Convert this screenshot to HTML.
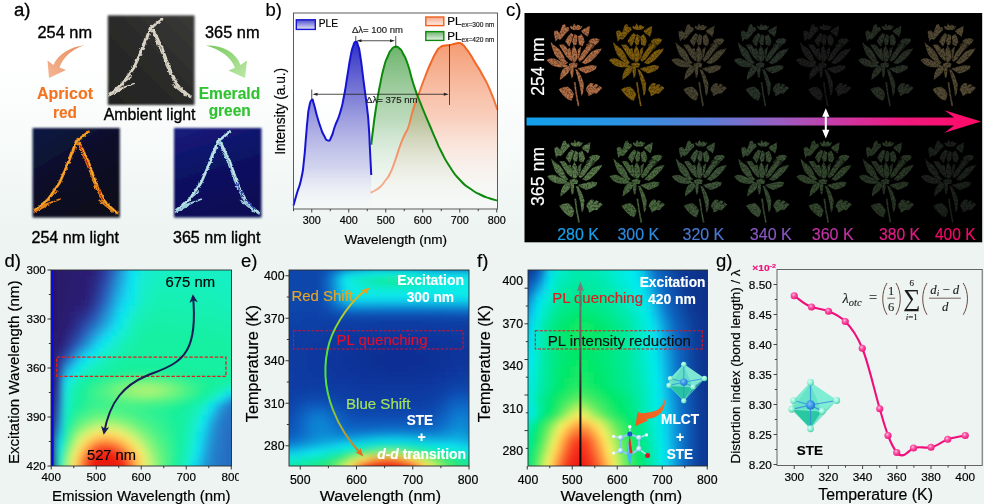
<!DOCTYPE html>
<html lang="en">
<head>
<meta charset="utf-8">
<title>Figure</title>
<style>
html,body{margin:0;padding:0;background:#edf4f2;}
body{width:984px;height:504px;overflow:hidden;position:relative;font-family:"Liberation Sans",sans-serif;}
svg{position:absolute;left:0;top:0;display:block;}
svg text{font-family:"Liberation Sans",sans-serif;fill:#000;stroke:#000;stroke-width:0.18px;}
svg .pa text{stroke-width:0.35px;}
svg text.b, svg .b text{stroke-width:0.15px;}
svg .fm text{stroke-width:0.12px;}
.b{font-weight:bold;}
.hm rect{width:7px;height:7px;}
</style>
</head>
<body>
<svg width="984" height="504" viewBox="0 0 984 504">
<defs>
<linearGradient id="bgg" x1="0" y1="0" x2="0" y2="1">
<stop offset="0" stop-color="#ffffff"/><stop offset="0.12" stop-color="#ffffff"/><stop offset="0.3" stop-color="#f6faf9"/><stop offset="0.46" stop-color="#edf4f2"/><stop offset="1" stop-color="#edf4f2"/>
</linearGradient>
</defs>
<rect x="0" y="0" width="984" height="504" fill="url(#bgg)"/>
<!-- panel a -->
<defs>
<filter id="soft" x="-5%" y="-5%" width="110%" height="110%"><feGaussianBlur stdDeviation="0.8"/></filter>
<filter id="soft2" x="-10%" y="-10%" width="120%" height="120%"><feTurbulence type="fractalNoise" baseFrequency="0.35" numOctaves="2" seed="3" result="n"/><feDisplacementMap in="SourceGraphic" in2="n" scale="3.2" xChannelSelector="R" yChannelSelector="G" result="d"/><feGaussianBlur in="d" stdDeviation="0.4"/></filter>
<linearGradient id="sal" x1="1" y1="0" x2="0" y2="1"><stop offset="0" stop-color="#e88e5e"/><stop offset="1" stop-color="#f5b594"/></linearGradient>
<linearGradient id="grn" x1="0" y1="0" x2="1" y2="1"><stop offset="0" stop-color="#78c85c"/><stop offset="1" stop-color="#bce8a6"/></linearGradient>
<linearGradient id="cry2" x1="0" y1="0" x2="0" y2="1"><stop offset="0" stop-color="#f0b0a0"/><stop offset="0.3" stop-color="#f08020"/><stop offset="1" stop-color="#f0a020"/></linearGradient>
<linearGradient id="ph254" x1="0" y1="0" x2="0.6" y2="1"><stop offset="0" stop-color="#101a44"/><stop offset="0.5" stop-color="#0a0e2a"/><stop offset="1" stop-color="#08091c"/></linearGradient>
<linearGradient id="ph365" x1="0" y1="0" x2="0.3" y2="1"><stop offset="0" stop-color="#161c7c"/><stop offset="0.5" stop-color="#0e1264"/><stop offset="1" stop-color="#0b0e56"/></linearGradient>
<linearGradient id="phamb" x1="1" y1="0" x2="0" y2="1"><stop offset="0" stop-color="#3a3a38"/><stop offset="0.5" stop-color="#2a2a29"/><stop offset="1" stop-color="#232322"/></linearGradient>
<g id="peak">
<path d="M55.5,3.8 L43,13.6 L36,33 L26.5,55 L14.5,72 L1.8,82" fill="none" stroke-width="2.7" stroke-linejoin="round" stroke-linecap="round"/>
<path d="M46.5,15 L55.5,34 L62.5,54 L69,68 L73,75 L84,85" fill="none" stroke-width="2.7" stroke-linejoin="round" stroke-linecap="round"/>
<path d="M45,11 L40,25 M38,24 L32,42 M31,46 L22,62 M24,64 L11,74 M27,71 L8,79 M13,78 L1,84 M44,13 L52,31 M50,27 L58,46 M58,48 L65,64 M62,58 L71,75 M66,72 L80,84 M22,73 L5,79 M76,80 L85,84" fill="none" stroke-width="1.5" stroke-linecap="round"/>
</g>
</defs>
<g class="pa">
<text x="14" y="15.5" font-size="18.5">a)</text>
<text x="37.5" y="38" font-size="16" textLength="54.5" lengthAdjust="spacingAndGlyphs">254 nm</text>
<path d="M84,45.2 C70,47 58,54 53.5,65 L47.5,60.5 L49,78 L66,70 L59.5,67.5 C63,57 72,49.5 84,45.2 Z" fill="url(#sal)"/>
<text x="37" y="98.7" font-size="16" class="b" style="fill:#f4731f;stroke:#f4731f" textLength="56" lengthAdjust="spacingAndGlyphs">Apricot</text>
<text x="53" y="117.5" font-size="16" class="b" style="fill:#f4731f;stroke:#f4731f" textLength="24" lengthAdjust="spacingAndGlyphs">red</text>
<!-- ambient -->
<rect x="107.8" y="15.4" width="86.7" height="89.6" fill="url(#phamb)" filter="url(#soft)"/>
<g transform="translate(107.8,15.6) scale(0.98,0.955)" stroke="#d8d2c4" filter="url(#soft2)"><use href="#peak"/></g>
<text x="103.7" y="120" font-size="16" textLength="91.8" lengthAdjust="spacingAndGlyphs">Ambient light</text>
<text x="205" y="38" font-size="16" textLength="54.5" lengthAdjust="spacingAndGlyphs">365 nm</text>
<path d="M206,45.5 C222,45 236,52 240.5,65 L247,60.5 L245,78 L228.5,70.5 L235,67.8 C231,57 221,50 206,45.5 Z" fill="url(#grn)"/>
<text x="198.7" y="98.7" font-size="16" class="b" style="fill:#2fc32f;stroke:#2fc32f" textLength="61.5" lengthAdjust="spacingAndGlyphs">Emerald</text>
<text x="208.7" y="116.3" font-size="16" class="b" style="fill:#2fc32f;stroke:#2fc32f" textLength="42" lengthAdjust="spacingAndGlyphs">green</text>
<!-- 254 image -->
<rect x="32.6" y="128" width="87.2" height="89.5" fill="url(#ph254)" filter="url(#soft)"/>
<g transform="translate(33,128)" stroke="#e8861c" filter="url(#soft2)"><use href="#peak"/></g>
<g transform="translate(33,128)" stroke="#ffd23c" stroke-width="0.5" opacity="0.8"><path d="M54.5,4.6 L43,13.6 L36,33 L26.5,55 L14.5,72 L2.5,81.5 M46.5,15 L55.5,34 L62.5,54 L69,68 L73,75 L83.5,84.5" fill="none" stroke-width="0.9"/></g>
<g transform="translate(33,128)" stroke="#c42c10" stroke-width="1.3" fill="none" filter="url(#soft2)"><path d="M51,27 L57,42 M63,56 L70,72 M47,17 L50,24"/></g>
<text x="31.5" y="243" font-size="16" textLength="87.5" lengthAdjust="spacingAndGlyphs">254 nm light</text>
<!-- 365 image -->
<rect x="174" y="128" width="87.5" height="89.5" fill="url(#ph365)" filter="url(#soft)"/>
<g transform="translate(174.5,128)" stroke="#9fd2dc" filter="url(#soft2)"><use href="#peak"/></g>
<g transform="translate(174.5,128)" stroke="#e8f4f0" opacity="0.8"><path d="M54.5,4.6 L43,13.6 L36,33 L26.5,55 L14.5,72 L2.5,81.5 M46.5,15 L55.5,34 L62.5,54 L69,68 L73,75 L83.5,84.5" fill="none" stroke-width="0.9"/></g>
<g transform="translate(174.5,128)" stroke="#2a3aa8" stroke-width="1.5" fill="none" filter="url(#soft2)"><path d="M62,55 L69,69 M70,71 L80,81"/></g>
<text x="173" y="243" font-size="16" textLength="87.5" lengthAdjust="spacingAndGlyphs">365 nm light</text>
</g>
<!-- panel b -->
<defs>
<linearGradient id="fblue" gradientUnits="userSpaceOnUse" x1="0" y1="42" x2="0" y2="209"><stop offset="0" stop-color="#2222c4" stop-opacity="0.95"/><stop offset="0.35" stop-color="#5050c8" stop-opacity="0.7"/><stop offset="0.75" stop-color="#8a8ad8" stop-opacity="0.35"/><stop offset="1" stop-color="#ffffff" stop-opacity="0.1"/></linearGradient>
<linearGradient id="fgreen" gradientUnits="userSpaceOnUse" x1="0" y1="46" x2="0" y2="209"><stop offset="0" stop-color="#3c9c3c" stop-opacity="0.75"/><stop offset="0.45" stop-color="#6cb06c" stop-opacity="0.45"/><stop offset="1" stop-color="#ffffff" stop-opacity="0.05"/></linearGradient>
<linearGradient id="forange" gradientUnits="userSpaceOnUse" x1="0" y1="43" x2="0" y2="209"><stop offset="0" stop-color="#f28a5a" stop-opacity="0.85"/><stop offset="0.45" stop-color="#f6a888" stop-opacity="0.55"/><stop offset="1" stop-color="#ffffff" stop-opacity="0.05"/></linearGradient>
<linearGradient id="sorange" gradientUnits="userSpaceOnUse" x1="0" y1="43" x2="0" y2="195"><stop offset="0" stop-color="#f0601c"/><stop offset="0.45" stop-color="#f27a44"/><stop offset="1" stop-color="#f6b095"/></linearGradient>
<linearGradient id="lgb" x1="0" y1="0" x2="0" y2="1"><stop offset="0" stop-color="#4a4acc"/><stop offset="1" stop-color="#e8e8f8"/></linearGradient>
<linearGradient id="lgo" x1="0" y1="0" x2="0" y2="1"><stop offset="0" stop-color="#f6a88a"/><stop offset="1" stop-color="#fdeee8"/></linearGradient>
<linearGradient id="lgg" x1="0" y1="0" x2="0" y2="1"><stop offset="0" stop-color="#6cb46c"/><stop offset="1" stop-color="#eaf4ea"/></linearGradient>
<linearGradient id="bbg" x1="0" y1="0" x2="0" y2="1"><stop offset="0" stop-color="#ffffff"/><stop offset="0.4" stop-color="#ffffff"/><stop offset="1" stop-color="#f3f8f6"/></linearGradient>
</defs>
<text x="265.5" y="15.5" font-size="18.5">b)</text>
<rect x="293.5" y="13" width="204" height="196" fill="url(#bbg)"/>
<!-- orange -->
<path d="M370.50,192.75 C372.00,192.00 371.83,192.42 375.00,190.50 C378.17,188.58 376.67,190.17 380.00,187.00 C383.33,183.83 381.67,185.50 385.00,181.00 C388.33,176.50 386.67,180.17 390.00,173.50 C393.33,166.83 391.67,170.17 395.00,161.00 C398.33,151.83 396.83,154.67 400.00,146.00 C403.17,137.33 401.58,141.67 404.50,135.00 C407.42,128.33 405.92,134.33 408.75,126.00 C411.58,117.67 409.67,120.67 413.00,110.00 C416.33,99.33 414.75,105.00 418.75,94.00 C422.75,83.00 420.92,87.50 425.00,77.00 C429.08,66.50 427.33,70.67 431.00,62.50 C434.67,54.33 433.00,57.50 436.00,52.50 C439.00,47.50 437.00,49.83 440.00,47.50 C443.00,45.17 441.67,46.33 445.00,45.50 C448.33,44.67 446.67,45.57 450.00,45.00 C453.33,44.43 451.83,44.47 455.00,43.80 C458.17,43.13 456.83,42.60 459.50,43.00 C462.17,43.40 460.83,43.17 463.00,45.00 C465.17,46.83 463.67,45.50 466.00,48.50 C468.33,51.50 466.67,48.83 470.00,54.00 C473.33,59.17 471.83,57.00 476.00,64.00 C480.17,71.00 477.83,66.33 482.50,75.00 C487.17,83.67 485.00,78.33 490.00,90.00 C495.00,101.67 495.00,103.33 497.50,110.00 L497.5,209 L370.5,209 Z" fill="url(#forange)"/>
<!-- green -->
<path d="M371.25,144.75 C371.83,139.83 371.42,142.25 373.00,130.00 C374.58,117.75 373.67,123.00 376.00,108.00 C378.33,93.00 377.33,98.67 380.00,85.00 C382.67,71.33 381.50,76.33 384.00,67.00 C386.50,57.67 385.00,62.83 387.50,57.00 C390.00,51.17 388.80,52.90 391.50,49.50 C394.20,46.10 392.93,47.13 395.60,46.80 C398.27,46.47 397.03,46.27 399.50,48.50 C401.97,50.73 400.17,48.00 403.00,53.50 C405.83,59.00 404.42,54.50 408.00,65.00 C411.58,75.50 409.33,71.67 413.75,85.00 C418.17,98.33 415.83,91.33 421.25,105.00 C426.67,118.67 425.08,114.33 430.00,126.00 C434.92,137.67 432.33,131.67 436.00,140.00 C439.67,148.33 436.33,142.00 441.00,151.00 C445.67,160.00 443.67,157.33 450.00,167.00 C456.33,176.67 453.33,172.83 460.00,180.00 C466.67,187.17 463.33,183.67 470.00,188.50 C476.67,193.33 473.33,191.17 480.00,194.50 C486.67,197.83 484.17,196.50 490.00,198.50 C495.83,200.50 495.00,199.83 497.50,200.50 L497.5,209 L371.25,209 Z" fill="url(#fgreen)"/>
<!-- blue -->
<path d="M293.50,205.50 C294.67,201.33 294.40,202.00 297.00,193.00 C299.60,184.00 298.97,189.50 301.30,178.50 C303.63,167.50 302.43,173.83 304.00,160.00 C305.57,146.17 304.83,150.33 306.00,137.00 C307.17,123.67 306.43,130.00 307.50,120.00 C308.57,110.00 307.78,113.67 309.20,107.00 C310.62,100.33 310.15,100.83 311.75,100.00 C313.35,99.17 312.25,99.17 314.00,104.50 C315.75,109.83 314.83,108.50 317.00,116.00 C319.17,123.50 318.17,120.50 320.50,127.00 C322.83,133.50 321.50,131.00 324.00,135.50 C326.50,140.00 325.50,140.17 328.00,140.50 C330.50,140.83 329.17,141.33 331.50,136.50 C333.83,131.67 332.17,133.83 335.00,126.00 C337.83,118.17 337.00,123.00 340.00,113.00 C343.00,103.00 341.50,108.67 344.00,96.00 C346.50,83.33 345.33,88.00 347.50,75.00 C349.67,62.00 348.60,66.67 350.50,57.00 C352.40,47.33 351.45,51.00 353.20,46.00 C354.95,41.00 354.15,42.17 355.75,42.00 C357.35,41.83 356.48,40.83 358.00,45.50 C359.52,50.17 358.38,43.67 360.30,56.00 C362.22,68.33 361.52,65.33 363.75,82.50 C365.98,99.67 365.33,93.00 367.00,107.50 C368.67,122.00 367.75,111.83 368.75,126.00 C369.75,140.17 369.17,133.67 370.00,150.00 C370.83,166.33 370.83,166.67 371.25,175.00 L371.25,209 L293.5,209 Z" fill="url(#fblue)"/>
<path d="M370.50,192.75 C372.00,192.00 371.83,192.42 375.00,190.50 C378.17,188.58 376.67,190.17 380.00,187.00 C383.33,183.83 381.67,185.50 385.00,181.00 C388.33,176.50 386.67,180.17 390.00,173.50 C393.33,166.83 391.67,170.17 395.00,161.00 C398.33,151.83 396.83,154.67 400.00,146.00 C403.17,137.33 401.58,141.67 404.50,135.00 C407.42,128.33 405.92,134.33 408.75,126.00 C411.58,117.67 409.67,120.67 413.00,110.00 C416.33,99.33 414.75,105.00 418.75,94.00 C422.75,83.00 420.92,87.50 425.00,77.00 C429.08,66.50 427.33,70.67 431.00,62.50 C434.67,54.33 433.00,57.50 436.00,52.50 C439.00,47.50 437.00,49.83 440.00,47.50 C443.00,45.17 441.67,46.33 445.00,45.50 C448.33,44.67 446.67,45.57 450.00,45.00 C453.33,44.43 451.83,44.47 455.00,43.80 C458.17,43.13 456.83,42.60 459.50,43.00 C462.17,43.40 460.83,43.17 463.00,45.00 C465.17,46.83 463.67,45.50 466.00,48.50 C468.33,51.50 466.67,48.83 470.00,54.00 C473.33,59.17 471.83,57.00 476.00,64.00 C480.17,71.00 477.83,66.33 482.50,75.00 C487.17,83.67 485.00,78.33 490.00,90.00 C495.00,101.67 495.00,103.33 497.50,110.00" fill="none" stroke="url(#sorange)" stroke-width="2" stroke-linejoin="round"/>
<path d="M371.25,144.75 C371.83,139.83 371.42,142.25 373.00,130.00 C374.58,117.75 373.67,123.00 376.00,108.00 C378.33,93.00 377.33,98.67 380.00,85.00 C382.67,71.33 381.50,76.33 384.00,67.00 C386.50,57.67 385.00,62.83 387.50,57.00 C390.00,51.17 388.80,52.90 391.50,49.50 C394.20,46.10 392.93,47.13 395.60,46.80 C398.27,46.47 397.03,46.27 399.50,48.50 C401.97,50.73 400.17,48.00 403.00,53.50 C405.83,59.00 404.42,54.50 408.00,65.00 C411.58,75.50 409.33,71.67 413.75,85.00 C418.17,98.33 415.83,91.33 421.25,105.00 C426.67,118.67 425.08,114.33 430.00,126.00 C434.92,137.67 432.33,131.67 436.00,140.00 C439.67,148.33 436.33,142.00 441.00,151.00 C445.67,160.00 443.67,157.33 450.00,167.00 C456.33,176.67 453.33,172.83 460.00,180.00 C466.67,187.17 463.33,183.67 470.00,188.50 C476.67,193.33 473.33,191.17 480.00,194.50 C486.67,197.83 484.17,196.50 490.00,198.50 C495.83,200.50 495.00,199.83 497.50,200.50" fill="none" stroke="#0d8a0d" stroke-width="2" stroke-linejoin="round"/>
<path d="M293.50,205.50 C294.67,201.33 294.40,202.00 297.00,193.00 C299.60,184.00 298.97,189.50 301.30,178.50 C303.63,167.50 302.43,173.83 304.00,160.00 C305.57,146.17 304.83,150.33 306.00,137.00 C307.17,123.67 306.43,130.00 307.50,120.00 C308.57,110.00 307.78,113.67 309.20,107.00 C310.62,100.33 310.15,100.83 311.75,100.00 C313.35,99.17 312.25,99.17 314.00,104.50 C315.75,109.83 314.83,108.50 317.00,116.00 C319.17,123.50 318.17,120.50 320.50,127.00 C322.83,133.50 321.50,131.00 324.00,135.50 C326.50,140.00 325.50,140.17 328.00,140.50 C330.50,140.83 329.17,141.33 331.50,136.50 C333.83,131.67 332.17,133.83 335.00,126.00 C337.83,118.17 337.00,123.00 340.00,113.00 C343.00,103.00 341.50,108.67 344.00,96.00 C346.50,83.33 345.33,88.00 347.50,75.00 C349.67,62.00 348.60,66.67 350.50,57.00 C352.40,47.33 351.45,51.00 353.20,46.00 C354.95,41.00 354.15,42.17 355.75,42.00 C357.35,41.83 356.48,40.83 358.00,45.50 C359.52,50.17 358.38,43.67 360.30,56.00 C362.22,68.33 361.52,65.33 363.75,82.50 C365.98,99.67 365.33,93.00 367.00,107.50 C368.67,122.00 367.75,111.83 368.75,126.00 C369.75,140.17 369.17,133.67 370.00,150.00 C370.83,166.33 370.83,166.67 371.25,175.00" fill="none" stroke="#1414d2" stroke-width="2" stroke-linejoin="round"/>
<!-- frame -->
<rect x="293.5" y="13" width="204" height="196" fill="none" stroke="#4a4a4a" stroke-width="0.9"/>
<path d="M311.75,209v3.5M348.75,209v3.5M385.75,209v3.5M422.75,209v3.5M459.75,209v3.5M496.75,209v3.5M293.5,209v2.2M330.25,209v2.2M367.25,209v2.2M404.25,209v2.2M441.25,209v2.2M478.25,209v2.2" stroke="#333" stroke-width="0.9" fill="none"/>
<g font-size="10.8" text-anchor="middle"><text x="311.75" y="224">300</text><text x="348.75" y="224">400</text><text x="385.75" y="224">500</text><text x="422.75" y="224">600</text><text x="459.75" y="224">700</text><text x="496.75" y="224">800</text></g>
<text x="344.5" y="243.5" font-size="12.6" textLength="102.5" lengthAdjust="spacingAndGlyphs">Wavelength (nm)</text>
<text transform="translate(285.2,154.8) rotate(-90)" font-size="13.8" textLength="87" lengthAdjust="spacingAndGlyphs">Intensity (a.u.)</text>
<!-- annotations -->
<g stroke="#222" stroke-width="0.8" fill="none">
<path d="M311.75,89.5V100M355.75,36V42M395.75,36V47M449.5,44.5V105"/>
<path d="M360,40.75H392M316,94.25H444"/>
</g>
<g fill="#222"><path d="M356.5,40.75l5,-1.6v3.2zM395,40.75l-5,-1.6v3.2zM312.5,94.25l5,-1.6v3.2zM448.8,94.25l-5,-1.6v3.2z"/></g>
<text x="352" y="33.2" font-size="9.4" textLength="51" lengthAdjust="spacingAndGlyphs" style="fill:#222;stroke:#222">Δλ= 100 nm</text>
<text x="366" y="103.2" font-size="9.4" textLength="51.5" lengthAdjust="spacingAndGlyphs" style="fill:#222;stroke:#222">Δλ= 375 nm</text>
<!-- legends -->
<rect x="296.3" y="19.8" width="19" height="9.6" fill="url(#lgb)" stroke="#1414d2" stroke-width="1.4"/>
<text x="318.7" y="27.2" font-size="10.2">PLE</text>
<rect x="425.8" y="17" width="18" height="8.6" fill="url(#lgo)" stroke="#f0601c" stroke-width="1.4"/>
<text x="447.3" y="25" font-size="11.6">PL<tspan font-size="6.6" dy="2.2" style="fill:#222;stroke:#222">ex=300 nm</tspan></text>
<rect x="425.8" y="31.6" width="18" height="8.8" fill="url(#lgg)" stroke="#0d8a0d" stroke-width="1.4"/>
<text x="447.3" y="40" font-size="11.6">PL<tspan font-size="6.6" dy="2.2" style="fill:#222;stroke:#222">ex=420 nm</tspan></text>
<!-- panel c -->
<defs>
<linearGradient id="tarrow" gradientUnits="userSpaceOnUse" x1="526" y1="0" x2="981" y2="0"><stop offset="0" stop-color="#12a0ea"/><stop offset="0.2" stop-color="#2a94e4"/><stop offset="0.4" stop-color="#5a7ed6"/><stop offset="0.55" stop-color="#9860c4"/><stop offset="0.68" stop-color="#c83ca8"/><stop offset="0.82" stop-color="#ee1a80"/><stop offset="1" stop-color="#ff0a66"/></linearGradient>
<filter id="fl" filterUnits="userSpaceOnUse" x="540" y="15" width="445" height="215"><feTurbulence type="fractalNoise" baseFrequency="0.55" numOctaves="2" seed="7" result="n"/><feColorMatrix in="n" type="matrix" values="0 0 0 0 0  0 0 0 0 0  0 0 0 0 0  1.1 0 0 0 0.3" result="a"/><feGaussianBlur in="SourceGraphic" stdDeviation="0.35" result="g"/><feComposite in="g" in2="a" operator="in"/></filter>
<g id="flower" stroke-width="0.9" stroke-linejoin="round">
<g transform="scale(0.0992)">
<path d="M262,72 L272,56 L288,70 L305,34 L322,62 L340,48 L356,52 L368,66 L388,58 L372,88 L352,102 L298,102 L276,90 Z"/>
<path d="M100,116 L130,104 L158,130 L186,50 L210,40 L226,76 L246,70 L256,100 L232,122 L206,150 L186,176 L160,200 L140,190 L116,216 L104,160 Z"/>
<path d="M374,112 L400,90 L440,70 L462,58 L456,120 L440,172 L420,150 L394,136 Z"/>
<path d="M448,212 L480,190 L530,184 L562,200 L546,230 L520,250 L500,236 L470,236 Z"/>
<path d="M214,214 Q236,158 274,130 L298,148 Q284,204 254,270 Z"/>
<path d="M284,214 L308,140 L336,160 Q338,210 328,248 L300,258 Z"/>
<path d="M342,166 L378,142 Q404,180 408,218 L390,262 L352,250 Z"/>
<path d="M68,222 Q96,258 150,290 Q198,340 216,412 Q176,398 120,362 Q84,312 68,222 Z"/>
<path d="M150,250 L200,248 Q240,286 266,360 L276,412 Q236,392 200,330 Z"/>
<path d="M300,258 Q336,300 340,380 L320,422 L290,422 Q272,360 280,300 Z"/>
<path d="M344,402 Q376,330 420,280 L470,238 L492,250 Q456,322 400,392 L360,422 Z"/>
<path d="M380,432 Q428,378 480,320 Q528,290 582,288 Q562,334 500,392 Q460,432 420,446 Z"/>
<path d="M28,402 Q66,372 130,400 Q198,428 252,470 Q200,484 120,472 Q60,452 28,402 Z"/>
<path d="M250,440 L300,425 L340,440 L330,480 L260,480 Z"/>
<path d="M232,296 L262,282 Q286,350 282,418 L262,400 Q240,350 232,296 Z"/>
<path d="M340,300 L374,268 Q370,340 344,402 Z"/>
<path d="M98,332 Q170,350 242,432 L216,446 Q150,410 98,332 Z"/>
<path d="M420,250 Q470,200 530,240 Q490,300 440,330 Z" opacity="0.55"/>
</g>
<g transform="translate(0,40) scale(0.0992)">
<path d="M338,86 Q400,68 480,50 L532,60 L520,92 Q470,122 420,136 L370,110 Z"/>
<path d="M160,202 Q162,120 200,80 L250,58 L266,90 Q252,134 200,172 Z"/>
<path d="M266,58 L296,50 Q304,100 290,172 L276,182 Q258,130 266,58 Z"/>
<path d="M314,90 L340,100 Q380,160 402,240 Q398,320 390,342 L376,362 Q368,270 340,180 Z"/>
<path d="M300,224 L318,224 Q326,330 356,462 L340,466 Q316,340 300,224 Z"/>
<path d="M148,296 Q190,266 240,270 Q284,298 300,342 L290,382 L276,412 Q236,402 200,362 Q168,332 148,296 Z"/>
<path d="M422,300 Q430,256 470,232 L500,236 L490,270 L520,240 L548,252 L520,290 L560,262 L586,282 L556,312 L530,340 L500,336 L470,356 L450,362 L442,330 Z"/>
</g>
</g>
</defs>
<text x="506" y="15.5" font-size="18.5">c)</text>
<rect x="524.5" y="13" width="457.7" height="229.3" fill="#000"/>
<g filter="url(#fl)">
<g fill="#b5724a" stroke="#b5724a"><use href="#flower" x="544.0" y="20"/></g>
<g fill="#83600f" stroke="#83600f"><use href="#flower" x="606.3" y="20"/></g>
<g fill="#4a4432" stroke="#4a4432"><use href="#flower" x="668.6" y="20"/></g>
<g fill="#2c362c" stroke="#2c362c"><use href="#flower" x="730.9" y="20"/></g>
<g fill="#1b1d1a" stroke="#1b1d1a"><use href="#flower" x="793.2" y="20"/></g>
<g fill="#2a3128" stroke="#2a3128"><use href="#flower" x="855.5" y="20"/></g>
<g fill="#544c34" stroke="#544c34"><use href="#flower" x="917.8" y="20"/></g>
<g fill="#5b7c4e" stroke="#5b7c4e"><use href="#flower" x="544.5" y="136.5"/></g>
<g fill="#4b6a41" stroke="#4b6a41"><use href="#flower" x="606.8" y="136.5"/></g>
<g fill="#41583a" stroke="#41583a"><use href="#flower" x="669.1" y="136.5"/></g>
<g fill="#3d5337" stroke="#3d5337"><use href="#flower" x="731.4" y="136.5"/></g>
<g fill="#35482f" stroke="#35482f"><use href="#flower" x="793.7" y="136.5"/></g>
<g fill="#2b3827" stroke="#2b3827"><use href="#flower" x="856.0" y="136.5"/></g>
<g fill="#1d201d" stroke="#1d201d"><use href="#flower" x="918.3" y="136.5"/></g>
</g>
<path d="M526.5,117.5 H954 L944.5,110.3 L981,121.5 L944.5,132.7 L954,125.6 H526.5 Z" fill="url(#tarrow)"/>
<g fill="#fff" stroke="none"><path d="M825.8,108.2 l3.6,8.6 h-2.6 v13 h2.6 l-3.6,8.8 l-3.6,-8.8 h2.6 v-13 h-2.6 z"/></g>
<text transform="translate(543.6,95.8) rotate(-90)" font-size="17.5" textLength="58.4" lengthAdjust="spacingAndGlyphs" style="fill:#fff;stroke:#fff">254 nm</text>
<text transform="translate(543.6,206) rotate(-90)" font-size="17.5" textLength="59" lengthAdjust="spacingAndGlyphs" style="fill:#fff;stroke:#fff">365 nm</text>
<g font-size="16">
<text x="557.2" y="239.5" textLength="41.6" lengthAdjust="spacingAndGlyphs" style="fill:#16a0ea;stroke:#16a0ea">280 K</text>
<text x="617.5" y="239.5" textLength="41.6" lengthAdjust="spacingAndGlyphs" style="fill:#2e8ce0;stroke:#2e8ce0">300 K</text>
<text x="682.6" y="239.5" textLength="41.6" lengthAdjust="spacingAndGlyphs" style="fill:#4a78d2;stroke:#4a78d2">320 K</text>
<text x="749.8" y="239.5" textLength="42" lengthAdjust="spacingAndGlyphs" style="fill:#8858c0;stroke:#8858c0">340 K</text>
<text x="811.7" y="239.5" textLength="42" lengthAdjust="spacingAndGlyphs" style="fill:#c234a4;stroke:#c234a4">360 K</text>
<text x="879" y="239.5" textLength="41" lengthAdjust="spacingAndGlyphs" style="fill:#e21c84;stroke:#e21c84">380 K</text>
<text x="934.9" y="239.5" textLength="40.6" lengthAdjust="spacingAndGlyphs" style="fill:#f40a6a;stroke:#f40a6a">400 K</text>
</g>
<defs><filter id="hblur" filterUnits="userSpaceOnUse" x="0" y="230" width="984" height="274"><feGaussianBlur stdDeviation="3"/></filter></defs>
<defs><clipPath id="clipd"><rect x="51" y="270" width="180.5" height="196"/></clipPath></defs>
<g clip-path="url(#clipd)"><g class="hm" filter="url(#hblur)">
<rect x="39" y="258" width="7" height="7" fill="#2b1868"/>
<rect x="45" y="258" width="7" height="7" fill="#2b1868"/>
<rect x="51" y="258" width="7" height="7" fill="#2b1869"/>
<rect x="57" y="258" width="7" height="7" fill="#2b196a"/>
<rect x="63" y="258" width="7" height="7" fill="#2b1a6c"/>
<rect x="69" y="258" width="7" height="7" fill="#2b1b6e"/>
<rect x="75" y="258" width="7" height="7" fill="#2b1c6f"/>
<rect x="81" y="258" width="7" height="7" fill="#2b1d71"/>
<rect x="87" y="258" width="7" height="7" fill="#2b1e73"/>
<rect x="93" y="258" width="7" height="7" fill="#2a257d"/>
<rect x="99" y="258" width="7" height="7" fill="#2a3190"/>
<rect x="105" y="258" width="7" height="7" fill="#2a49a9"/>
<rect x="111" y="258" width="7" height="7" fill="#2768bf"/>
<rect x="117" y="258" width="7" height="7" fill="#228ed3"/>
<rect x="123" y="258" width="7" height="7" fill="#1bb5e4"/>
<rect x="129" y="258" width="7" height="7" fill="#12ddf2"/>
<rect x="135" y="258" width="7" height="7" fill="#11e8e6"/>
<rect x="141" y="258" width="7" height="7" fill="#13ecd4"/>
<rect x="147" y="258" width="7" height="7" fill="#13eecc"/>
<rect x="153" y="258" width="7" height="7" fill="#14efc9"/>
<rect x="159" y="258" width="7" height="7" fill="#14f0c6"/>
<rect x="165" y="258" width="7" height="7" fill="#14f0c4"/>
<rect x="171" y="258" width="7" height="7" fill="#14f0c4"/>
<rect x="177" y="258" width="7" height="7" fill="#14f0c4"/>
<rect x="183" y="258" width="7" height="7" fill="#14f0c4"/>
<rect x="189" y="258" width="7" height="7" fill="#14f0c4"/>
<rect x="195" y="258" width="7" height="7" fill="#14f0c4"/>
<rect x="201" y="258" width="7" height="7" fill="#14f0c4"/>
<rect x="207" y="258" width="7" height="7" fill="#14f0c4"/>
<rect x="213" y="258" width="7" height="7" fill="#14f0c5"/>
<rect x="219" y="258" width="7" height="7" fill="#14f0c5"/>
<rect x="225" y="258" width="7" height="7" fill="#14efc7"/>
<rect x="231" y="258" width="7" height="7" fill="#14efc9"/>
<rect x="237" y="258" width="7" height="7" fill="#14efc9"/>
<rect x="243" y="258" width="7" height="7" fill="#14efc9"/>
<rect x="39" y="264" width="7" height="7" fill="#2b1868"/>
<rect x="45" y="264" width="7" height="7" fill="#2b1868"/>
<rect x="51" y="264" width="7" height="7" fill="#2b1869"/>
<rect x="57" y="264" width="7" height="7" fill="#2b196a"/>
<rect x="63" y="264" width="7" height="7" fill="#2b1a6c"/>
<rect x="69" y="264" width="7" height="7" fill="#2b1b6e"/>
<rect x="75" y="264" width="7" height="7" fill="#2b1c6f"/>
<rect x="81" y="264" width="7" height="7" fill="#2b1d71"/>
<rect x="87" y="264" width="7" height="7" fill="#2b1e73"/>
<rect x="93" y="264" width="7" height="7" fill="#2a257d"/>
<rect x="99" y="264" width="7" height="7" fill="#2a3190"/>
<rect x="105" y="264" width="7" height="7" fill="#2a49a9"/>
<rect x="111" y="264" width="7" height="7" fill="#2768bf"/>
<rect x="117" y="264" width="7" height="7" fill="#228ed3"/>
<rect x="123" y="264" width="7" height="7" fill="#1bb5e4"/>
<rect x="129" y="264" width="7" height="7" fill="#12ddf2"/>
<rect x="135" y="264" width="7" height="7" fill="#11e8e6"/>
<rect x="141" y="264" width="7" height="7" fill="#13ecd4"/>
<rect x="147" y="264" width="7" height="7" fill="#13eecc"/>
<rect x="153" y="264" width="7" height="7" fill="#14efc9"/>
<rect x="159" y="264" width="7" height="7" fill="#14f0c6"/>
<rect x="165" y="264" width="7" height="7" fill="#14f0c4"/>
<rect x="171" y="264" width="7" height="7" fill="#14f0c4"/>
<rect x="177" y="264" width="7" height="7" fill="#14f0c4"/>
<rect x="183" y="264" width="7" height="7" fill="#14f0c4"/>
<rect x="189" y="264" width="7" height="7" fill="#14f0c4"/>
<rect x="195" y="264" width="7" height="7" fill="#14f0c4"/>
<rect x="201" y="264" width="7" height="7" fill="#14f0c4"/>
<rect x="207" y="264" width="7" height="7" fill="#14f0c4"/>
<rect x="213" y="264" width="7" height="7" fill="#14f0c5"/>
<rect x="219" y="264" width="7" height="7" fill="#14f0c5"/>
<rect x="225" y="264" width="7" height="7" fill="#14efc7"/>
<rect x="231" y="264" width="7" height="7" fill="#14efc9"/>
<rect x="237" y="264" width="7" height="7" fill="#14efc9"/>
<rect x="243" y="264" width="7" height="7" fill="#14efc9"/>
<rect x="39" y="270" width="7" height="7" fill="#2b1868"/>
<rect x="45" y="270" width="7" height="7" fill="#2b1868"/>
<rect x="51" y="270" width="7" height="7" fill="#2b1969"/>
<rect x="57" y="270" width="7" height="7" fill="#2b1a6a"/>
<rect x="63" y="270" width="7" height="7" fill="#2b1b6c"/>
<rect x="69" y="270" width="7" height="7" fill="#2b1c6e"/>
<rect x="75" y="270" width="7" height="7" fill="#2b1d6f"/>
<rect x="81" y="270" width="7" height="7" fill="#2b1e71"/>
<rect x="87" y="270" width="7" height="7" fill="#2b1f74"/>
<rect x="93" y="270" width="7" height="7" fill="#2a267f"/>
<rect x="99" y="270" width="7" height="7" fill="#2a3594"/>
<rect x="105" y="270" width="7" height="7" fill="#2a4cac"/>
<rect x="111" y="270" width="7" height="7" fill="#266dc2"/>
<rect x="117" y="270" width="7" height="7" fill="#2193d5"/>
<rect x="123" y="270" width="7" height="7" fill="#1ab9e6"/>
<rect x="129" y="270" width="7" height="7" fill="#11e0f3"/>
<rect x="135" y="270" width="7" height="7" fill="#11e8e4"/>
<rect x="141" y="270" width="7" height="7" fill="#13ecd3"/>
<rect x="147" y="270" width="7" height="7" fill="#13eecb"/>
<rect x="153" y="270" width="7" height="7" fill="#14efc7"/>
<rect x="159" y="270" width="7" height="7" fill="#14f0c4"/>
<rect x="165" y="270" width="7" height="7" fill="#14f0c2"/>
<rect x="171" y="270" width="7" height="7" fill="#14f0c2"/>
<rect x="177" y="270" width="7" height="7" fill="#14f0c2"/>
<rect x="183" y="270" width="7" height="7" fill="#14f0c2"/>
<rect x="189" y="270" width="7" height="7" fill="#14f0c3"/>
<rect x="195" y="270" width="7" height="7" fill="#14f0c3"/>
<rect x="201" y="270" width="7" height="7" fill="#14f0c3"/>
<rect x="207" y="270" width="7" height="7" fill="#14f0c3"/>
<rect x="213" y="270" width="7" height="7" fill="#14f0c4"/>
<rect x="219" y="270" width="7" height="7" fill="#14f0c4"/>
<rect x="225" y="270" width="7" height="7" fill="#14efc6"/>
<rect x="231" y="270" width="7" height="7" fill="#14efc8"/>
<rect x="237" y="270" width="7" height="7" fill="#14efc8"/>
<rect x="243" y="270" width="7" height="7" fill="#14efc8"/>
<rect x="39" y="276" width="7" height="7" fill="#2b1868"/>
<rect x="45" y="276" width="7" height="7" fill="#2b1868"/>
<rect x="51" y="276" width="7" height="7" fill="#2b1969"/>
<rect x="57" y="276" width="7" height="7" fill="#2b1a6b"/>
<rect x="63" y="276" width="7" height="7" fill="#2b1b6c"/>
<rect x="69" y="276" width="7" height="7" fill="#2b1c6e"/>
<rect x="75" y="276" width="7" height="7" fill="#2b1d70"/>
<rect x="81" y="276" width="7" height="7" fill="#2b1e72"/>
<rect x="87" y="276" width="7" height="7" fill="#2b2178"/>
<rect x="93" y="276" width="7" height="7" fill="#2a2985"/>
<rect x="99" y="276" width="7" height="7" fill="#2a3b9b"/>
<rect x="105" y="276" width="7" height="7" fill="#2a52b2"/>
<rect x="111" y="276" width="7" height="7" fill="#2578c7"/>
<rect x="117" y="276" width="7" height="7" fill="#209dda"/>
<rect x="123" y="276" width="7" height="7" fill="#18c1e8"/>
<rect x="129" y="276" width="7" height="7" fill="#10e4f3"/>
<rect x="135" y="276" width="7" height="7" fill="#12e9e1"/>
<rect x="141" y="276" width="7" height="7" fill="#13edcf"/>
<rect x="147" y="276" width="7" height="7" fill="#14efc7"/>
<rect x="153" y="276" width="7" height="7" fill="#14f0c3"/>
<rect x="159" y="276" width="7" height="7" fill="#14f0c0"/>
<rect x="165" y="276" width="7" height="7" fill="#14f0bf"/>
<rect x="171" y="276" width="7" height="7" fill="#14f0bf"/>
<rect x="177" y="276" width="7" height="7" fill="#14f0bf"/>
<rect x="183" y="276" width="7" height="7" fill="#14f0bf"/>
<rect x="189" y="276" width="7" height="7" fill="#14f0c0"/>
<rect x="195" y="276" width="7" height="7" fill="#14f0c0"/>
<rect x="201" y="276" width="7" height="7" fill="#14f0c0"/>
<rect x="207" y="276" width="7" height="7" fill="#14f0c1"/>
<rect x="213" y="276" width="7" height="7" fill="#14f0c1"/>
<rect x="219" y="276" width="7" height="7" fill="#14f0c2"/>
<rect x="225" y="276" width="7" height="7" fill="#14f0c4"/>
<rect x="231" y="276" width="7" height="7" fill="#14f0c6"/>
<rect x="237" y="276" width="7" height="7" fill="#14f0c6"/>
<rect x="243" y="276" width="7" height="7" fill="#14f0c6"/>
<rect x="39" y="282" width="7" height="7" fill="#2b1868"/>
<rect x="45" y="282" width="7" height="7" fill="#2b1868"/>
<rect x="51" y="282" width="7" height="7" fill="#2b1969"/>
<rect x="57" y="282" width="7" height="7" fill="#2b1a6b"/>
<rect x="63" y="282" width="7" height="7" fill="#2b1b6d"/>
<rect x="69" y="282" width="7" height="7" fill="#2b1c6e"/>
<rect x="75" y="282" width="7" height="7" fill="#2b1d70"/>
<rect x="81" y="282" width="7" height="7" fill="#2b1e72"/>
<rect x="87" y="282" width="7" height="7" fill="#2b237b"/>
<rect x="93" y="282" width="7" height="7" fill="#2a2c8a"/>
<rect x="99" y="282" width="7" height="7" fill="#2a42a2"/>
<rect x="105" y="282" width="7" height="7" fill="#295bb8"/>
<rect x="111" y="282" width="7" height="7" fill="#2383cd"/>
<rect x="117" y="282" width="7" height="7" fill="#1ea7df"/>
<rect x="123" y="282" width="7" height="7" fill="#17c8eb"/>
<rect x="129" y="282" width="7" height="7" fill="#10e5f0"/>
<rect x="135" y="282" width="7" height="7" fill="#12eade"/>
<rect x="141" y="282" width="7" height="7" fill="#13eecc"/>
<rect x="147" y="282" width="7" height="7" fill="#14f0c4"/>
<rect x="153" y="282" width="7" height="7" fill="#14f0c0"/>
<rect x="159" y="282" width="7" height="7" fill="#14f0bb"/>
<rect x="165" y="282" width="7" height="7" fill="#14f0bb"/>
<rect x="171" y="282" width="7" height="7" fill="#14f0bb"/>
<rect x="177" y="282" width="7" height="7" fill="#14f0bc"/>
<rect x="183" y="282" width="7" height="7" fill="#14f0bc"/>
<rect x="189" y="282" width="7" height="7" fill="#14f0bd"/>
<rect x="195" y="282" width="7" height="7" fill="#14f0bd"/>
<rect x="201" y="282" width="7" height="7" fill="#14f0be"/>
<rect x="207" y="282" width="7" height="7" fill="#14f0be"/>
<rect x="213" y="282" width="7" height="7" fill="#14f0bf"/>
<rect x="219" y="282" width="7" height="7" fill="#14f0c0"/>
<rect x="225" y="282" width="7" height="7" fill="#14f0c2"/>
<rect x="231" y="282" width="7" height="7" fill="#14f0c4"/>
<rect x="237" y="282" width="7" height="7" fill="#14f0c4"/>
<rect x="243" y="282" width="7" height="7" fill="#14f0c4"/>
<rect x="39" y="288" width="7" height="7" fill="#2b1868"/>
<rect x="45" y="288" width="7" height="7" fill="#2b1868"/>
<rect x="51" y="288" width="7" height="7" fill="#2b1969"/>
<rect x="57" y="288" width="7" height="7" fill="#2b1a6b"/>
<rect x="63" y="288" width="7" height="7" fill="#2b1b6d"/>
<rect x="69" y="288" width="7" height="7" fill="#2b1c6f"/>
<rect x="75" y="288" width="7" height="7" fill="#2b1d70"/>
<rect x="81" y="288" width="7" height="7" fill="#2b1e72"/>
<rect x="87" y="288" width="7" height="7" fill="#2a257e"/>
<rect x="93" y="288" width="7" height="7" fill="#2a308f"/>
<rect x="99" y="288" width="7" height="7" fill="#2a49a8"/>
<rect x="105" y="288" width="7" height="7" fill="#2866be"/>
<rect x="111" y="288" width="7" height="7" fill="#228ed2"/>
<rect x="117" y="288" width="7" height="7" fill="#1cb1e3"/>
<rect x="123" y="288" width="7" height="7" fill="#15d0ed"/>
<rect x="129" y="288" width="7" height="7" fill="#11e6ee"/>
<rect x="135" y="288" width="7" height="7" fill="#12eadb"/>
<rect x="141" y="288" width="7" height="7" fill="#14efc8"/>
<rect x="147" y="288" width="7" height="7" fill="#14f0c1"/>
<rect x="153" y="288" width="7" height="7" fill="#14f0bc"/>
<rect x="159" y="288" width="7" height="7" fill="#13f0b7"/>
<rect x="165" y="288" width="7" height="7" fill="#13f0b7"/>
<rect x="171" y="288" width="7" height="7" fill="#13f0b8"/>
<rect x="177" y="288" width="7" height="7" fill="#13f0b9"/>
<rect x="183" y="288" width="7" height="7" fill="#13f0b9"/>
<rect x="189" y="288" width="7" height="7" fill="#13f0ba"/>
<rect x="195" y="288" width="7" height="7" fill="#14f0ba"/>
<rect x="201" y="288" width="7" height="7" fill="#14f0bb"/>
<rect x="207" y="288" width="7" height="7" fill="#14f0bc"/>
<rect x="213" y="288" width="7" height="7" fill="#14f0bd"/>
<rect x="219" y="288" width="7" height="7" fill="#14f0be"/>
<rect x="225" y="288" width="7" height="7" fill="#14f0c0"/>
<rect x="231" y="288" width="7" height="7" fill="#14f0c2"/>
<rect x="237" y="288" width="7" height="7" fill="#14f0c2"/>
<rect x="243" y="288" width="7" height="7" fill="#14f0c2"/>
<rect x="39" y="294" width="7" height="7" fill="#2b1868"/>
<rect x="45" y="294" width="7" height="7" fill="#2b1868"/>
<rect x="51" y="294" width="7" height="7" fill="#2b1969"/>
<rect x="57" y="294" width="7" height="7" fill="#2b1a6b"/>
<rect x="63" y="294" width="7" height="7" fill="#2b1b6d"/>
<rect x="69" y="294" width="7" height="7" fill="#2b1c6f"/>
<rect x="75" y="294" width="7" height="7" fill="#2b1d71"/>
<rect x="81" y="294" width="7" height="7" fill="#2b1e73"/>
<rect x="87" y="294" width="7" height="7" fill="#2a2781"/>
<rect x="93" y="294" width="7" height="7" fill="#2a3796"/>
<rect x="99" y="294" width="7" height="7" fill="#2a4faf"/>
<rect x="105" y="294" width="7" height="7" fill="#2671c4"/>
<rect x="111" y="294" width="7" height="7" fill="#2098d8"/>
<rect x="117" y="294" width="7" height="7" fill="#19bce7"/>
<rect x="123" y="294" width="7" height="7" fill="#13d7f0"/>
<rect x="129" y="294" width="7" height="7" fill="#11e6eb"/>
<rect x="135" y="294" width="7" height="7" fill="#12ebd8"/>
<rect x="141" y="294" width="7" height="7" fill="#14f0c5"/>
<rect x="147" y="294" width="7" height="7" fill="#14f0bd"/>
<rect x="153" y="294" width="7" height="7" fill="#13f0b8"/>
<rect x="159" y="294" width="7" height="7" fill="#13f0b3"/>
<rect x="165" y="294" width="7" height="7" fill="#13f0b4"/>
<rect x="171" y="294" width="7" height="7" fill="#13f0b5"/>
<rect x="177" y="294" width="7" height="7" fill="#13f0b5"/>
<rect x="183" y="294" width="7" height="7" fill="#13f0b6"/>
<rect x="189" y="294" width="7" height="7" fill="#13f0b7"/>
<rect x="195" y="294" width="7" height="7" fill="#13f0b8"/>
<rect x="201" y="294" width="7" height="7" fill="#13f0b8"/>
<rect x="207" y="294" width="7" height="7" fill="#13f0b9"/>
<rect x="213" y="294" width="7" height="7" fill="#14f0ba"/>
<rect x="219" y="294" width="7" height="7" fill="#14f0bc"/>
<rect x="225" y="294" width="7" height="7" fill="#14f0be"/>
<rect x="231" y="294" width="7" height="7" fill="#14f0c0"/>
<rect x="237" y="294" width="7" height="7" fill="#14f0c0"/>
<rect x="243" y="294" width="7" height="7" fill="#14f0c0"/>
<rect x="39" y="300" width="7" height="7" fill="#2b1868"/>
<rect x="45" y="300" width="7" height="7" fill="#2b1868"/>
<rect x="51" y="300" width="7" height="7" fill="#2b1969"/>
<rect x="57" y="300" width="7" height="7" fill="#2b1a6b"/>
<rect x="63" y="300" width="7" height="7" fill="#2b1b6d"/>
<rect x="69" y="300" width="7" height="7" fill="#2b1d70"/>
<rect x="75" y="300" width="7" height="7" fill="#2b1e72"/>
<rect x="81" y="300" width="7" height="7" fill="#2b2075"/>
<rect x="87" y="300" width="7" height="7" fill="#2a2a86"/>
<rect x="93" y="300" width="7" height="7" fill="#2a3e9d"/>
<rect x="99" y="300" width="7" height="7" fill="#2a58b6"/>
<rect x="105" y="300" width="7" height="7" fill="#247dca"/>
<rect x="111" y="300" width="7" height="7" fill="#1fa3dd"/>
<rect x="117" y="300" width="7" height="7" fill="#17c6ea"/>
<rect x="123" y="300" width="7" height="7" fill="#11e0f3"/>
<rect x="129" y="300" width="7" height="7" fill="#11e7e6"/>
<rect x="135" y="300" width="7" height="7" fill="#13ecd3"/>
<rect x="141" y="300" width="7" height="7" fill="#14f0c1"/>
<rect x="147" y="300" width="7" height="7" fill="#13f0ba"/>
<rect x="153" y="300" width="7" height="7" fill="#13f0b5"/>
<rect x="159" y="300" width="7" height="7" fill="#13f0b0"/>
<rect x="165" y="300" width="7" height="7" fill="#13f0b0"/>
<rect x="171" y="300" width="7" height="7" fill="#13f0b1"/>
<rect x="177" y="300" width="7" height="7" fill="#13f0b2"/>
<rect x="183" y="300" width="7" height="7" fill="#13f0b3"/>
<rect x="189" y="300" width="7" height="7" fill="#13f0b4"/>
<rect x="195" y="300" width="7" height="7" fill="#13f0b5"/>
<rect x="201" y="300" width="7" height="7" fill="#13f0b6"/>
<rect x="207" y="300" width="7" height="7" fill="#13f0b7"/>
<rect x="213" y="300" width="7" height="7" fill="#13f0b8"/>
<rect x="219" y="300" width="7" height="7" fill="#13f0ba"/>
<rect x="225" y="300" width="7" height="7" fill="#14f0bc"/>
<rect x="231" y="300" width="7" height="7" fill="#14f0be"/>
<rect x="237" y="300" width="7" height="7" fill="#14f0be"/>
<rect x="243" y="300" width="7" height="7" fill="#14f0be"/>
<rect x="39" y="306" width="7" height="7" fill="#2b1868"/>
<rect x="45" y="306" width="7" height="7" fill="#2b1868"/>
<rect x="51" y="306" width="7" height="7" fill="#2b1969"/>
<rect x="57" y="306" width="7" height="7" fill="#2b1a6c"/>
<rect x="63" y="306" width="7" height="7" fill="#2b1c6f"/>
<rect x="69" y="306" width="7" height="7" fill="#2b1f74"/>
<rect x="75" y="306" width="7" height="7" fill="#2b237a"/>
<rect x="81" y="306" width="7" height="7" fill="#2a2781"/>
<rect x="87" y="306" width="7" height="7" fill="#2a3392"/>
<rect x="93" y="306" width="7" height="7" fill="#2a49a9"/>
<rect x="99" y="306" width="7" height="7" fill="#2769bf"/>
<rect x="105" y="306" width="7" height="7" fill="#228cd1"/>
<rect x="111" y="306" width="7" height="7" fill="#1cafe2"/>
<rect x="117" y="306" width="7" height="7" fill="#14d3ee"/>
<rect x="123" y="306" width="7" height="7" fill="#11e6ed"/>
<rect x="129" y="306" width="7" height="7" fill="#12eadb"/>
<rect x="135" y="306" width="7" height="7" fill="#13eeca"/>
<rect x="141" y="306" width="7" height="7" fill="#14f0bb"/>
<rect x="147" y="306" width="7" height="7" fill="#13f0b4"/>
<rect x="153" y="306" width="7" height="7" fill="#13f0b1"/>
<rect x="159" y="306" width="7" height="7" fill="#13f0ad"/>
<rect x="165" y="306" width="7" height="7" fill="#13f0ae"/>
<rect x="171" y="306" width="7" height="7" fill="#13f0af"/>
<rect x="177" y="306" width="7" height="7" fill="#13f0af"/>
<rect x="183" y="306" width="7" height="7" fill="#13f0b0"/>
<rect x="189" y="306" width="7" height="7" fill="#13f0b1"/>
<rect x="195" y="306" width="7" height="7" fill="#13f0b2"/>
<rect x="201" y="306" width="7" height="7" fill="#13f0b2"/>
<rect x="207" y="306" width="7" height="7" fill="#13f0b3"/>
<rect x="213" y="306" width="7" height="7" fill="#13f0b4"/>
<rect x="219" y="306" width="7" height="7" fill="#13f0b6"/>
<rect x="225" y="306" width="7" height="7" fill="#13f0b8"/>
<rect x="231" y="306" width="7" height="7" fill="#14f0ba"/>
<rect x="237" y="306" width="7" height="7" fill="#14f0ba"/>
<rect x="243" y="306" width="7" height="7" fill="#14f0ba"/>
<rect x="39" y="312" width="7" height="7" fill="#2b1868"/>
<rect x="45" y="312" width="7" height="7" fill="#2b1868"/>
<rect x="51" y="312" width="7" height="7" fill="#2b196a"/>
<rect x="57" y="312" width="7" height="7" fill="#2b1b6d"/>
<rect x="63" y="312" width="7" height="7" fill="#2b1d70"/>
<rect x="69" y="312" width="7" height="7" fill="#2b2278"/>
<rect x="75" y="312" width="7" height="7" fill="#2a2882"/>
<rect x="81" y="312" width="7" height="7" fill="#2a2e8c"/>
<rect x="87" y="312" width="7" height="7" fill="#2a41a1"/>
<rect x="93" y="312" width="7" height="7" fill="#2a55b4"/>
<rect x="99" y="312" width="7" height="7" fill="#2579c8"/>
<rect x="105" y="312" width="7" height="7" fill="#209ad9"/>
<rect x="111" y="312" width="7" height="7" fill="#19bce7"/>
<rect x="117" y="312" width="7" height="7" fill="#11e0f3"/>
<rect x="123" y="312" width="7" height="7" fill="#11e8e3"/>
<rect x="129" y="312" width="7" height="7" fill="#13edd0"/>
<rect x="135" y="312" width="7" height="7" fill="#14f0c1"/>
<rect x="141" y="312" width="7" height="7" fill="#13f0b6"/>
<rect x="147" y="312" width="7" height="7" fill="#13f0af"/>
<rect x="153" y="312" width="7" height="7" fill="#13f0ad"/>
<rect x="159" y="312" width="7" height="7" fill="#13f0ab"/>
<rect x="165" y="312" width="7" height="7" fill="#13f0ab"/>
<rect x="171" y="312" width="7" height="7" fill="#13f0ac"/>
<rect x="177" y="312" width="7" height="7" fill="#13f0ad"/>
<rect x="183" y="312" width="7" height="7" fill="#13f0ad"/>
<rect x="189" y="312" width="7" height="7" fill="#13f0ae"/>
<rect x="195" y="312" width="7" height="7" fill="#13f0af"/>
<rect x="201" y="312" width="7" height="7" fill="#13f0af"/>
<rect x="207" y="312" width="7" height="7" fill="#13f0b0"/>
<rect x="213" y="312" width="7" height="7" fill="#13f0b1"/>
<rect x="219" y="312" width="7" height="7" fill="#13f0b2"/>
<rect x="225" y="312" width="7" height="7" fill="#13f0b5"/>
<rect x="231" y="312" width="7" height="7" fill="#13f0b7"/>
<rect x="237" y="312" width="7" height="7" fill="#13f0b7"/>
<rect x="243" y="312" width="7" height="7" fill="#13f0b7"/>
<rect x="39" y="318" width="7" height="7" fill="#2b1868"/>
<rect x="45" y="318" width="7" height="7" fill="#2b1868"/>
<rect x="51" y="318" width="7" height="7" fill="#2b196a"/>
<rect x="57" y="318" width="7" height="7" fill="#2b1b6d"/>
<rect x="63" y="318" width="7" height="7" fill="#2b1e71"/>
<rect x="69" y="318" width="7" height="7" fill="#2a247c"/>
<rect x="75" y="318" width="7" height="7" fill="#2a2d8a"/>
<rect x="81" y="318" width="7" height="7" fill="#2a3c9b"/>
<rect x="87" y="318" width="7" height="7" fill="#2a4faf"/>
<rect x="93" y="318" width="7" height="7" fill="#276ac0"/>
<rect x="99" y="318" width="7" height="7" fill="#228ad1"/>
<rect x="105" y="318" width="7" height="7" fill="#1ea8e0"/>
<rect x="111" y="318" width="7" height="7" fill="#16c9eb"/>
<rect x="117" y="318" width="7" height="7" fill="#10e5ef"/>
<rect x="123" y="318" width="7" height="7" fill="#12ebda"/>
<rect x="129" y="318" width="7" height="7" fill="#14f0c4"/>
<rect x="135" y="318" width="7" height="7" fill="#13f0b8"/>
<rect x="141" y="318" width="7" height="7" fill="#13f0b0"/>
<rect x="147" y="318" width="7" height="7" fill="#13f0aa"/>
<rect x="153" y="318" width="7" height="7" fill="#13f0a9"/>
<rect x="159" y="318" width="7" height="7" fill="#13f0a8"/>
<rect x="165" y="318" width="7" height="7" fill="#13f0a9"/>
<rect x="171" y="318" width="7" height="7" fill="#13f0a9"/>
<rect x="177" y="318" width="7" height="7" fill="#13f0aa"/>
<rect x="183" y="318" width="7" height="7" fill="#13f0aa"/>
<rect x="189" y="318" width="7" height="7" fill="#13f0ab"/>
<rect x="195" y="318" width="7" height="7" fill="#13f0ab"/>
<rect x="201" y="318" width="7" height="7" fill="#13f0ac"/>
<rect x="207" y="318" width="7" height="7" fill="#13f0ad"/>
<rect x="213" y="318" width="7" height="7" fill="#13f0ad"/>
<rect x="219" y="318" width="7" height="7" fill="#13f0af"/>
<rect x="225" y="318" width="7" height="7" fill="#13f0b1"/>
<rect x="231" y="318" width="7" height="7" fill="#13f0b3"/>
<rect x="237" y="318" width="7" height="7" fill="#13f0b3"/>
<rect x="243" y="318" width="7" height="7" fill="#13f0b3"/>
<rect x="39" y="324" width="7" height="7" fill="#2b1868"/>
<rect x="45" y="324" width="7" height="7" fill="#2b1868"/>
<rect x="51" y="324" width="7" height="7" fill="#2b196a"/>
<rect x="57" y="324" width="7" height="7" fill="#2b1c6e"/>
<rect x="63" y="324" width="7" height="7" fill="#2b1f74"/>
<rect x="69" y="324" width="7" height="7" fill="#2a2781"/>
<rect x="75" y="324" width="7" height="7" fill="#2a3594"/>
<rect x="81" y="324" width="7" height="7" fill="#2a4aa9"/>
<rect x="87" y="324" width="7" height="7" fill="#2864bd"/>
<rect x="93" y="324" width="7" height="7" fill="#2481cc"/>
<rect x="99" y="324" width="7" height="7" fill="#209dda"/>
<rect x="105" y="324" width="7" height="7" fill="#1abbe6"/>
<rect x="111" y="324" width="7" height="7" fill="#12d9f0"/>
<rect x="117" y="324" width="7" height="7" fill="#11e7e7"/>
<rect x="123" y="324" width="7" height="7" fill="#13edd0"/>
<rect x="129" y="324" width="7" height="7" fill="#14f0bb"/>
<rect x="135" y="324" width="7" height="7" fill="#13f0b0"/>
<rect x="141" y="324" width="7" height="7" fill="#13f0ab"/>
<rect x="147" y="324" width="7" height="7" fill="#12f0a6"/>
<rect x="153" y="324" width="7" height="7" fill="#12f0a6"/>
<rect x="159" y="324" width="7" height="7" fill="#13f0a6"/>
<rect x="165" y="324" width="7" height="7" fill="#13f0a7"/>
<rect x="171" y="324" width="7" height="7" fill="#13f0a7"/>
<rect x="177" y="324" width="7" height="7" fill="#13f0a7"/>
<rect x="183" y="324" width="7" height="7" fill="#13f0a8"/>
<rect x="189" y="324" width="7" height="7" fill="#13f0a8"/>
<rect x="195" y="324" width="7" height="7" fill="#13f0a8"/>
<rect x="201" y="324" width="7" height="7" fill="#13f0a9"/>
<rect x="207" y="324" width="7" height="7" fill="#13f0a9"/>
<rect x="213" y="324" width="7" height="7" fill="#13f0aa"/>
<rect x="219" y="324" width="7" height="7" fill="#13f0ab"/>
<rect x="225" y="324" width="7" height="7" fill="#13f0ad"/>
<rect x="231" y="324" width="7" height="7" fill="#13f0af"/>
<rect x="237" y="324" width="7" height="7" fill="#13f0af"/>
<rect x="243" y="324" width="7" height="7" fill="#13f0af"/>
<rect x="39" y="330" width="7" height="7" fill="#2b1868"/>
<rect x="45" y="330" width="7" height="7" fill="#2b1868"/>
<rect x="51" y="330" width="7" height="7" fill="#2b1a6b"/>
<rect x="57" y="330" width="7" height="7" fill="#2b1d70"/>
<rect x="63" y="330" width="7" height="7" fill="#2a247b"/>
<rect x="69" y="330" width="7" height="7" fill="#2a2d8b"/>
<rect x="75" y="330" width="7" height="7" fill="#2a42a1"/>
<rect x="81" y="330" width="7" height="7" fill="#2a56b6"/>
<rect x="87" y="330" width="7" height="7" fill="#257bc8"/>
<rect x="93" y="330" width="7" height="7" fill="#2099d8"/>
<rect x="99" y="330" width="7" height="7" fill="#1ab8e5"/>
<rect x="105" y="330" width="7" height="7" fill="#13d6ef"/>
<rect x="111" y="330" width="7" height="7" fill="#11e6eb"/>
<rect x="117" y="330" width="7" height="7" fill="#12ebd9"/>
<rect x="123" y="330" width="7" height="7" fill="#14f0c6"/>
<rect x="129" y="330" width="7" height="7" fill="#13f0b6"/>
<rect x="135" y="330" width="7" height="7" fill="#13f0ac"/>
<rect x="141" y="330" width="7" height="7" fill="#13f0a7"/>
<rect x="147" y="330" width="7" height="7" fill="#12f0a4"/>
<rect x="153" y="330" width="7" height="7" fill="#12f0a4"/>
<rect x="159" y="330" width="7" height="7" fill="#12f0a4"/>
<rect x="165" y="330" width="7" height="7" fill="#12f0a5"/>
<rect x="171" y="330" width="7" height="7" fill="#12f0a5"/>
<rect x="177" y="330" width="7" height="7" fill="#12f0a5"/>
<rect x="183" y="330" width="7" height="7" fill="#12f0a5"/>
<rect x="189" y="330" width="7" height="7" fill="#12f0a6"/>
<rect x="195" y="330" width="7" height="7" fill="#12f0a6"/>
<rect x="201" y="330" width="7" height="7" fill="#13f0a6"/>
<rect x="207" y="330" width="7" height="7" fill="#13f0a7"/>
<rect x="213" y="330" width="7" height="7" fill="#13f0a7"/>
<rect x="219" y="330" width="7" height="7" fill="#13f0a8"/>
<rect x="225" y="330" width="7" height="7" fill="#13f0aa"/>
<rect x="231" y="330" width="7" height="7" fill="#13f0ac"/>
<rect x="237" y="330" width="7" height="7" fill="#13f0ac"/>
<rect x="243" y="330" width="7" height="7" fill="#13f0ac"/>
<rect x="39" y="336" width="7" height="7" fill="#2b1868"/>
<rect x="45" y="336" width="7" height="7" fill="#2b1868"/>
<rect x="51" y="336" width="7" height="7" fill="#2b1a6b"/>
<rect x="57" y="336" width="7" height="7" fill="#2b1e72"/>
<rect x="63" y="336" width="7" height="7" fill="#2a2882"/>
<rect x="69" y="336" width="7" height="7" fill="#2a3897"/>
<rect x="75" y="336" width="7" height="7" fill="#2a4faf"/>
<rect x="81" y="336" width="7" height="7" fill="#266ec2"/>
<rect x="87" y="336" width="7" height="7" fill="#2191d4"/>
<rect x="93" y="336" width="7" height="7" fill="#1cb3e4"/>
<rect x="99" y="336" width="7" height="7" fill="#14d4ef"/>
<rect x="105" y="336" width="7" height="7" fill="#11e6ed"/>
<rect x="111" y="336" width="7" height="7" fill="#12eadd"/>
<rect x="117" y="336" width="7" height="7" fill="#13eecc"/>
<rect x="123" y="336" width="7" height="7" fill="#14f0bc"/>
<rect x="129" y="336" width="7" height="7" fill="#13f0b0"/>
<rect x="135" y="336" width="7" height="7" fill="#13f0a7"/>
<rect x="141" y="336" width="7" height="7" fill="#12f0a4"/>
<rect x="147" y="336" width="7" height="7" fill="#12f0a2"/>
<rect x="153" y="336" width="7" height="7" fill="#12f0a2"/>
<rect x="159" y="336" width="7" height="7" fill="#12f0a3"/>
<rect x="165" y="336" width="7" height="7" fill="#12f0a3"/>
<rect x="171" y="336" width="7" height="7" fill="#12f0a3"/>
<rect x="177" y="336" width="7" height="7" fill="#12f0a3"/>
<rect x="183" y="336" width="7" height="7" fill="#12f0a3"/>
<rect x="189" y="336" width="7" height="7" fill="#12f0a3"/>
<rect x="195" y="336" width="7" height="7" fill="#12f0a3"/>
<rect x="201" y="336" width="7" height="7" fill="#12f0a4"/>
<rect x="207" y="336" width="7" height="7" fill="#12f0a4"/>
<rect x="213" y="336" width="7" height="7" fill="#12f0a4"/>
<rect x="219" y="336" width="7" height="7" fill="#12f0a5"/>
<rect x="225" y="336" width="7" height="7" fill="#13f0a7"/>
<rect x="231" y="336" width="7" height="7" fill="#13f0a9"/>
<rect x="237" y="336" width="7" height="7" fill="#13f0a9"/>
<rect x="243" y="336" width="7" height="7" fill="#13f0a9"/>
<rect x="39" y="342" width="7" height="7" fill="#2b1868"/>
<rect x="45" y="342" width="7" height="7" fill="#2b1868"/>
<rect x="51" y="342" width="7" height="7" fill="#2b1a6c"/>
<rect x="57" y="342" width="7" height="7" fill="#2b1f74"/>
<rect x="63" y="342" width="7" height="7" fill="#2a2d8a"/>
<rect x="69" y="342" width="7" height="7" fill="#2a45a4"/>
<rect x="75" y="342" width="7" height="7" fill="#2863bc"/>
<rect x="81" y="342" width="7" height="7" fill="#2386ce"/>
<rect x="87" y="342" width="7" height="7" fill="#1ea8e0"/>
<rect x="93" y="342" width="7" height="7" fill="#15ceed"/>
<rect x="99" y="342" width="7" height="7" fill="#11e6ed"/>
<rect x="105" y="342" width="7" height="7" fill="#12eade"/>
<rect x="111" y="342" width="7" height="7" fill="#13edce"/>
<rect x="117" y="342" width="7" height="7" fill="#14f0bf"/>
<rect x="123" y="342" width="7" height="7" fill="#13f0b2"/>
<rect x="129" y="342" width="7" height="7" fill="#13f0ab"/>
<rect x="135" y="342" width="7" height="7" fill="#12f0a3"/>
<rect x="141" y="342" width="7" height="7" fill="#12f0a1"/>
<rect x="147" y="342" width="7" height="7" fill="#12f0a1"/>
<rect x="153" y="342" width="7" height="7" fill="#12f0a1"/>
<rect x="159" y="342" width="7" height="7" fill="#12f0a1"/>
<rect x="165" y="342" width="7" height="7" fill="#12f0a1"/>
<rect x="171" y="342" width="7" height="7" fill="#12f0a1"/>
<rect x="177" y="342" width="7" height="7" fill="#12f0a1"/>
<rect x="183" y="342" width="7" height="7" fill="#12f0a1"/>
<rect x="189" y="342" width="7" height="7" fill="#12f0a1"/>
<rect x="195" y="342" width="7" height="7" fill="#12f0a1"/>
<rect x="201" y="342" width="7" height="7" fill="#12f0a1"/>
<rect x="207" y="342" width="7" height="7" fill="#12f0a1"/>
<rect x="213" y="342" width="7" height="7" fill="#12f0a2"/>
<rect x="219" y="342" width="7" height="7" fill="#12f0a3"/>
<rect x="225" y="342" width="7" height="7" fill="#12f0a4"/>
<rect x="231" y="342" width="7" height="7" fill="#13f0a6"/>
<rect x="237" y="342" width="7" height="7" fill="#13f0a6"/>
<rect x="243" y="342" width="7" height="7" fill="#13f0a6"/>
<rect x="39" y="348" width="7" height="7" fill="#2b1868"/>
<rect x="45" y="348" width="7" height="7" fill="#2b1868"/>
<rect x="51" y="348" width="7" height="7" fill="#2b1c6e"/>
<rect x="57" y="348" width="7" height="7" fill="#2a267f"/>
<rect x="63" y="348" width="7" height="7" fill="#2a3d9d"/>
<rect x="69" y="348" width="7" height="7" fill="#2a58b7"/>
<rect x="75" y="348" width="7" height="7" fill="#2387cf"/>
<rect x="81" y="348" width="7" height="7" fill="#1dabe1"/>
<rect x="87" y="348" width="7" height="7" fill="#15cdec"/>
<rect x="93" y="348" width="7" height="7" fill="#10e5ee"/>
<rect x="99" y="348" width="7" height="7" fill="#12eadd"/>
<rect x="105" y="348" width="7" height="7" fill="#13eece"/>
<rect x="111" y="348" width="7" height="7" fill="#14f0c2"/>
<rect x="117" y="348" width="7" height="7" fill="#13f0b6"/>
<rect x="123" y="348" width="7" height="7" fill="#13f0ac"/>
<rect x="129" y="348" width="7" height="7" fill="#13f0a7"/>
<rect x="135" y="348" width="7" height="7" fill="#12f0a2"/>
<rect x="141" y="348" width="7" height="7" fill="#12f0a1"/>
<rect x="147" y="348" width="7" height="7" fill="#12f0a1"/>
<rect x="153" y="348" width="7" height="7" fill="#12f0a1"/>
<rect x="159" y="348" width="7" height="7" fill="#12f0a1"/>
<rect x="165" y="348" width="7" height="7" fill="#12f0a1"/>
<rect x="171" y="348" width="7" height="7" fill="#12f0a1"/>
<rect x="177" y="348" width="7" height="7" fill="#12f0a1"/>
<rect x="183" y="348" width="7" height="7" fill="#12f0a1"/>
<rect x="189" y="348" width="7" height="7" fill="#12f0a1"/>
<rect x="195" y="348" width="7" height="7" fill="#12f0a1"/>
<rect x="201" y="348" width="7" height="7" fill="#12f0a1"/>
<rect x="207" y="348" width="7" height="7" fill="#12f0a1"/>
<rect x="213" y="348" width="7" height="7" fill="#12f0a2"/>
<rect x="219" y="348" width="7" height="7" fill="#12f0a3"/>
<rect x="225" y="348" width="7" height="7" fill="#12f0a4"/>
<rect x="231" y="348" width="7" height="7" fill="#13f0a6"/>
<rect x="237" y="348" width="7" height="7" fill="#13f0a6"/>
<rect x="243" y="348" width="7" height="7" fill="#13f0a6"/>
<rect x="39" y="354" width="7" height="7" fill="#2b1868"/>
<rect x="45" y="354" width="7" height="7" fill="#2b1868"/>
<rect x="51" y="354" width="7" height="7" fill="#2b1d70"/>
<rect x="57" y="354" width="7" height="7" fill="#2a2d8b"/>
<rect x="63" y="354" width="7" height="7" fill="#2a51b0"/>
<rect x="69" y="354" width="7" height="7" fill="#247cc9"/>
<rect x="75" y="354" width="7" height="7" fill="#1daae1"/>
<rect x="81" y="354" width="7" height="7" fill="#14d4ef"/>
<rect x="87" y="354" width="7" height="7" fill="#11e6ed"/>
<rect x="93" y="354" width="7" height="7" fill="#12eadc"/>
<rect x="99" y="354" width="7" height="7" fill="#13eecd"/>
<rect x="105" y="354" width="7" height="7" fill="#14f0be"/>
<rect x="111" y="354" width="7" height="7" fill="#13f0b5"/>
<rect x="117" y="354" width="7" height="7" fill="#13f0ac"/>
<rect x="123" y="354" width="7" height="7" fill="#12f0a5"/>
<rect x="129" y="354" width="7" height="7" fill="#12f0a3"/>
<rect x="135" y="354" width="7" height="7" fill="#12f0a1"/>
<rect x="141" y="354" width="7" height="7" fill="#12f0a0"/>
<rect x="147" y="354" width="7" height="7" fill="#12f0a0"/>
<rect x="153" y="354" width="7" height="7" fill="#12f0a0"/>
<rect x="159" y="354" width="7" height="7" fill="#12f0a0"/>
<rect x="165" y="354" width="7" height="7" fill="#12f0a1"/>
<rect x="171" y="354" width="7" height="7" fill="#12f0a1"/>
<rect x="177" y="354" width="7" height="7" fill="#12f0a1"/>
<rect x="183" y="354" width="7" height="7" fill="#12f0a1"/>
<rect x="189" y="354" width="7" height="7" fill="#12f0a1"/>
<rect x="195" y="354" width="7" height="7" fill="#12f0a1"/>
<rect x="201" y="354" width="7" height="7" fill="#12f0a1"/>
<rect x="207" y="354" width="7" height="7" fill="#12f0a1"/>
<rect x="213" y="354" width="7" height="7" fill="#12f0a2"/>
<rect x="219" y="354" width="7" height="7" fill="#12f0a3"/>
<rect x="225" y="354" width="7" height="7" fill="#12f0a4"/>
<rect x="231" y="354" width="7" height="7" fill="#13f0a6"/>
<rect x="237" y="354" width="7" height="7" fill="#13f0a6"/>
<rect x="243" y="354" width="7" height="7" fill="#13f0a6"/>
<rect x="39" y="360" width="7" height="7" fill="#2b1868"/>
<rect x="45" y="360" width="7" height="7" fill="#2b1868"/>
<rect x="51" y="360" width="7" height="7" fill="#2b1e71"/>
<rect x="57" y="360" width="7" height="7" fill="#2a3796"/>
<rect x="63" y="360" width="7" height="7" fill="#2671c4"/>
<rect x="69" y="360" width="7" height="7" fill="#1fa1dc"/>
<rect x="75" y="360" width="7" height="7" fill="#14d1ee"/>
<rect x="81" y="360" width="7" height="7" fill="#11e7e7"/>
<rect x="87" y="360" width="7" height="7" fill="#12ebd9"/>
<rect x="93" y="360" width="7" height="7" fill="#13eecb"/>
<rect x="99" y="360" width="7" height="7" fill="#14f0be"/>
<rect x="105" y="360" width="7" height="7" fill="#13f0b1"/>
<rect x="111" y="360" width="7" height="7" fill="#13f0ab"/>
<rect x="117" y="360" width="7" height="7" fill="#12f0a5"/>
<rect x="123" y="360" width="7" height="7" fill="#12f0a0"/>
<rect x="129" y="360" width="7" height="7" fill="#12f0a0"/>
<rect x="135" y="360" width="7" height="7" fill="#12f0a0"/>
<rect x="141" y="360" width="7" height="7" fill="#12f0a0"/>
<rect x="147" y="360" width="7" height="7" fill="#12f0a0"/>
<rect x="153" y="360" width="7" height="7" fill="#12f0a0"/>
<rect x="159" y="360" width="7" height="7" fill="#12f0a0"/>
<rect x="165" y="360" width="7" height="7" fill="#12f0a0"/>
<rect x="171" y="360" width="7" height="7" fill="#12f0a0"/>
<rect x="177" y="360" width="7" height="7" fill="#12f0a0"/>
<rect x="183" y="360" width="7" height="7" fill="#12f0a0"/>
<rect x="189" y="360" width="7" height="7" fill="#12f0a1"/>
<rect x="195" y="360" width="7" height="7" fill="#12f0a1"/>
<rect x="201" y="360" width="7" height="7" fill="#12f0a1"/>
<rect x="207" y="360" width="7" height="7" fill="#12f0a1"/>
<rect x="213" y="360" width="7" height="7" fill="#12f0a2"/>
<rect x="219" y="360" width="7" height="7" fill="#12f0a2"/>
<rect x="225" y="360" width="7" height="7" fill="#12f0a4"/>
<rect x="231" y="360" width="7" height="7" fill="#13f0a6"/>
<rect x="237" y="360" width="7" height="7" fill="#13f0a6"/>
<rect x="243" y="360" width="7" height="7" fill="#13f0a6"/>
<rect x="39" y="366" width="7" height="7" fill="#2b1869"/>
<rect x="45" y="366" width="7" height="7" fill="#2b1869"/>
<rect x="51" y="366" width="7" height="7" fill="#2b1e71"/>
<rect x="57" y="366" width="7" height="7" fill="#2a3e9d"/>
<rect x="63" y="366" width="7" height="7" fill="#2195d6"/>
<rect x="69" y="366" width="7" height="7" fill="#16cbec"/>
<rect x="75" y="366" width="7" height="7" fill="#11e7e8"/>
<rect x="81" y="366" width="7" height="7" fill="#13edd1"/>
<rect x="87" y="366" width="7" height="7" fill="#14f0c5"/>
<rect x="93" y="366" width="7" height="7" fill="#14f0ba"/>
<rect x="99" y="366" width="7" height="7" fill="#13f0b0"/>
<rect x="105" y="366" width="7" height="7" fill="#13f0a8"/>
<rect x="111" y="366" width="7" height="7" fill="#12f0a4"/>
<rect x="117" y="366" width="7" height="7" fill="#12f0a0"/>
<rect x="123" y="366" width="7" height="7" fill="#12f09d"/>
<rect x="129" y="366" width="7" height="7" fill="#12f09d"/>
<rect x="135" y="366" width="7" height="7" fill="#12f09d"/>
<rect x="141" y="366" width="7" height="7" fill="#12f09c"/>
<rect x="147" y="366" width="7" height="7" fill="#12f09d"/>
<rect x="153" y="366" width="7" height="7" fill="#12f09d"/>
<rect x="159" y="366" width="7" height="7" fill="#12f09d"/>
<rect x="165" y="366" width="7" height="7" fill="#12f09e"/>
<rect x="171" y="366" width="7" height="7" fill="#12f09e"/>
<rect x="177" y="366" width="7" height="7" fill="#12f09e"/>
<rect x="183" y="366" width="7" height="7" fill="#12f09f"/>
<rect x="189" y="366" width="7" height="7" fill="#12f09f"/>
<rect x="195" y="366" width="7" height="7" fill="#12f0a0"/>
<rect x="201" y="366" width="7" height="7" fill="#12f0a0"/>
<rect x="207" y="366" width="7" height="7" fill="#12f0a1"/>
<rect x="213" y="366" width="7" height="7" fill="#12f0a1"/>
<rect x="219" y="366" width="7" height="7" fill="#12f0a2"/>
<rect x="225" y="366" width="7" height="7" fill="#12f0a4"/>
<rect x="231" y="366" width="7" height="7" fill="#12f0a6"/>
<rect x="237" y="366" width="7" height="7" fill="#12f0a6"/>
<rect x="243" y="366" width="7" height="7" fill="#12f0a6"/>
<rect x="39" y="372" width="7" height="7" fill="#2b1969"/>
<rect x="45" y="372" width="7" height="7" fill="#2b1969"/>
<rect x="51" y="372" width="7" height="7" fill="#2b1e72"/>
<rect x="57" y="372" width="7" height="7" fill="#2a45a4"/>
<rect x="63" y="372" width="7" height="7" fill="#1abbe6"/>
<rect x="69" y="372" width="7" height="7" fill="#11e7ea"/>
<rect x="75" y="372" width="7" height="7" fill="#13edd2"/>
<rect x="81" y="372" width="7" height="7" fill="#14f0bb"/>
<rect x="87" y="372" width="7" height="7" fill="#13f0b1"/>
<rect x="93" y="372" width="7" height="7" fill="#13f0a8"/>
<rect x="99" y="372" width="7" height="7" fill="#12f0a0"/>
<rect x="105" y="372" width="7" height="7" fill="#13f09c"/>
<rect x="111" y="372" width="7" height="7" fill="#19f09a"/>
<rect x="117" y="372" width="7" height="7" fill="#1ff197"/>
<rect x="123" y="372" width="7" height="7" fill="#25f195"/>
<rect x="129" y="372" width="7" height="7" fill="#27f194"/>
<rect x="135" y="372" width="7" height="7" fill="#29f194"/>
<rect x="141" y="372" width="7" height="7" fill="#2af193"/>
<rect x="147" y="372" width="7" height="7" fill="#2af193"/>
<rect x="153" y="372" width="7" height="7" fill="#29f194"/>
<rect x="159" y="372" width="7" height="7" fill="#26f195"/>
<rect x="165" y="372" width="7" height="7" fill="#23f196"/>
<rect x="171" y="372" width="7" height="7" fill="#20f197"/>
<rect x="177" y="372" width="7" height="7" fill="#1cf099"/>
<rect x="183" y="372" width="7" height="7" fill="#18f09a"/>
<rect x="189" y="372" width="7" height="7" fill="#14f09b"/>
<rect x="195" y="372" width="7" height="7" fill="#12f09c"/>
<rect x="201" y="372" width="7" height="7" fill="#12f09e"/>
<rect x="207" y="372" width="7" height="7" fill="#12f09f"/>
<rect x="213" y="372" width="7" height="7" fill="#12f0a0"/>
<rect x="219" y="372" width="7" height="7" fill="#12f0a1"/>
<rect x="225" y="372" width="7" height="7" fill="#12f0a4"/>
<rect x="231" y="372" width="7" height="7" fill="#12f0a6"/>
<rect x="237" y="372" width="7" height="7" fill="#12f0a6"/>
<rect x="243" y="372" width="7" height="7" fill="#12f0a6"/>
<rect x="39" y="378" width="7" height="7" fill="#2b1969"/>
<rect x="45" y="378" width="7" height="7" fill="#2b1969"/>
<rect x="51" y="378" width="7" height="7" fill="#2b1e72"/>
<rect x="57" y="378" width="7" height="7" fill="#2a4cac"/>
<rect x="63" y="378" width="7" height="7" fill="#10e2f3"/>
<rect x="69" y="378" width="7" height="7" fill="#13edd1"/>
<rect x="75" y="378" width="7" height="7" fill="#14f0bb"/>
<rect x="81" y="378" width="7" height="7" fill="#13f0a8"/>
<rect x="87" y="378" width="7" height="7" fill="#12f09e"/>
<rect x="93" y="378" width="7" height="7" fill="#1ef198"/>
<rect x="99" y="378" width="7" height="7" fill="#2df192"/>
<rect x="105" y="378" width="7" height="7" fill="#35f28f"/>
<rect x="111" y="378" width="7" height="7" fill="#3ff28c"/>
<rect x="117" y="378" width="7" height="7" fill="#48f289"/>
<rect x="123" y="378" width="7" height="7" fill="#51f386"/>
<rect x="129" y="378" width="7" height="7" fill="#59f383"/>
<rect x="135" y="378" width="7" height="7" fill="#5ef381"/>
<rect x="141" y="378" width="7" height="7" fill="#61f380"/>
<rect x="147" y="378" width="7" height="7" fill="#61f380"/>
<rect x="153" y="378" width="7" height="7" fill="#5ef381"/>
<rect x="159" y="378" width="7" height="7" fill="#58f383"/>
<rect x="165" y="378" width="7" height="7" fill="#50f386"/>
<rect x="171" y="378" width="7" height="7" fill="#47f289"/>
<rect x="177" y="378" width="7" height="7" fill="#3df28d"/>
<rect x="183" y="378" width="7" height="7" fill="#33f190"/>
<rect x="189" y="378" width="7" height="7" fill="#29f194"/>
<rect x="195" y="378" width="7" height="7" fill="#21f197"/>
<rect x="201" y="378" width="7" height="7" fill="#1af099"/>
<rect x="207" y="378" width="7" height="7" fill="#13f09b"/>
<rect x="213" y="378" width="7" height="7" fill="#12f09e"/>
<rect x="219" y="378" width="7" height="7" fill="#12f0a0"/>
<rect x="225" y="378" width="7" height="7" fill="#12f0a4"/>
<rect x="231" y="378" width="7" height="7" fill="#13f0a6"/>
<rect x="237" y="378" width="7" height="7" fill="#13f0a6"/>
<rect x="243" y="378" width="7" height="7" fill="#13f0a6"/>
<rect x="39" y="384" width="7" height="7" fill="#2b196a"/>
<rect x="45" y="384" width="7" height="7" fill="#2b196a"/>
<rect x="51" y="384" width="7" height="7" fill="#2b1f73"/>
<rect x="57" y="384" width="7" height="7" fill="#2a54b4"/>
<rect x="63" y="384" width="7" height="7" fill="#11e8e4"/>
<rect x="69" y="384" width="7" height="7" fill="#14f0bd"/>
<rect x="75" y="384" width="7" height="7" fill="#13f0a7"/>
<rect x="81" y="384" width="7" height="7" fill="#12f09c"/>
<rect x="87" y="384" width="7" height="7" fill="#2cf193"/>
<rect x="93" y="384" width="7" height="7" fill="#37f28f"/>
<rect x="99" y="384" width="7" height="7" fill="#44f28a"/>
<rect x="105" y="384" width="7" height="7" fill="#52f385"/>
<rect x="111" y="384" width="7" height="7" fill="#62f480"/>
<rect x="117" y="384" width="7" height="7" fill="#72f47c"/>
<rect x="123" y="384" width="7" height="7" fill="#83f47a"/>
<rect x="129" y="384" width="7" height="7" fill="#91f479"/>
<rect x="135" y="384" width="7" height="7" fill="#9bf478"/>
<rect x="141" y="384" width="7" height="7" fill="#a1f478"/>
<rect x="147" y="384" width="7" height="7" fill="#a1f478"/>
<rect x="153" y="384" width="7" height="7" fill="#9bf478"/>
<rect x="159" y="384" width="7" height="7" fill="#90f479"/>
<rect x="165" y="384" width="7" height="7" fill="#81f47a"/>
<rect x="171" y="384" width="7" height="7" fill="#6ff47c"/>
<rect x="177" y="384" width="7" height="7" fill="#5ef381"/>
<rect x="183" y="384" width="7" height="7" fill="#4ef387"/>
<rect x="189" y="384" width="7" height="7" fill="#3ef28c"/>
<rect x="195" y="384" width="7" height="7" fill="#30f191"/>
<rect x="201" y="384" width="7" height="7" fill="#23f196"/>
<rect x="207" y="384" width="7" height="7" fill="#17f09a"/>
<rect x="213" y="384" width="7" height="7" fill="#12f0a0"/>
<rect x="219" y="384" width="7" height="7" fill="#13f0a8"/>
<rect x="225" y="384" width="7" height="7" fill="#13f0b5"/>
<rect x="231" y="384" width="7" height="7" fill="#14f0bf"/>
<rect x="237" y="384" width="7" height="7" fill="#14f0bf"/>
<rect x="243" y="384" width="7" height="7" fill="#14f0bf"/>
<rect x="39" y="390" width="7" height="7" fill="#2b1a6b"/>
<rect x="45" y="390" width="7" height="7" fill="#2b1a6b"/>
<rect x="51" y="390" width="7" height="7" fill="#2b1f73"/>
<rect x="57" y="390" width="7" height="7" fill="#295cb8"/>
<rect x="63" y="390" width="7" height="7" fill="#12e9de"/>
<rect x="69" y="390" width="7" height="7" fill="#13f0b8"/>
<rect x="75" y="390" width="7" height="7" fill="#12f0a3"/>
<rect x="81" y="390" width="7" height="7" fill="#1af099"/>
<rect x="87" y="390" width="7" height="7" fill="#32f191"/>
<rect x="93" y="390" width="7" height="7" fill="#3df28d"/>
<rect x="99" y="390" width="7" height="7" fill="#4bf388"/>
<rect x="105" y="390" width="7" height="7" fill="#59f383"/>
<rect x="111" y="390" width="7" height="7" fill="#68f47d"/>
<rect x="117" y="390" width="7" height="7" fill="#79f47b"/>
<rect x="123" y="390" width="7" height="7" fill="#8af47a"/>
<rect x="129" y="390" width="7" height="7" fill="#97f479"/>
<rect x="135" y="390" width="7" height="7" fill="#a1f478"/>
<rect x="141" y="390" width="7" height="7" fill="#a6f478"/>
<rect x="147" y="390" width="7" height="7" fill="#a5f478"/>
<rect x="153" y="390" width="7" height="7" fill="#9ff478"/>
<rect x="159" y="390" width="7" height="7" fill="#93f479"/>
<rect x="165" y="390" width="7" height="7" fill="#84f47a"/>
<rect x="171" y="390" width="7" height="7" fill="#72f47c"/>
<rect x="177" y="390" width="7" height="7" fill="#60f380"/>
<rect x="183" y="390" width="7" height="7" fill="#4ef387"/>
<rect x="189" y="390" width="7" height="7" fill="#3df28d"/>
<rect x="195" y="390" width="7" height="7" fill="#2cf193"/>
<rect x="201" y="390" width="7" height="7" fill="#18f09a"/>
<rect x="207" y="390" width="7" height="7" fill="#12f0a4"/>
<rect x="213" y="390" width="7" height="7" fill="#13f0b3"/>
<rect x="219" y="390" width="7" height="7" fill="#14efca"/>
<rect x="225" y="390" width="7" height="7" fill="#11e7e7"/>
<rect x="231" y="390" width="7" height="7" fill="#12dbf1"/>
<rect x="237" y="390" width="7" height="7" fill="#12dbf1"/>
<rect x="243" y="390" width="7" height="7" fill="#12dbf1"/>
<rect x="39" y="396" width="7" height="7" fill="#2b1a6b"/>
<rect x="45" y="396" width="7" height="7" fill="#2b1a6b"/>
<rect x="51" y="396" width="7" height="7" fill="#2b1f74"/>
<rect x="57" y="396" width="7" height="7" fill="#2864bd"/>
<rect x="63" y="396" width="7" height="7" fill="#12ebd9"/>
<rect x="69" y="396" width="7" height="7" fill="#13f0b4"/>
<rect x="75" y="396" width="7" height="7" fill="#12f0a0"/>
<rect x="81" y="396" width="7" height="7" fill="#1cf098"/>
<rect x="87" y="396" width="7" height="7" fill="#30f191"/>
<rect x="93" y="396" width="7" height="7" fill="#39f28e"/>
<rect x="99" y="396" width="7" height="7" fill="#42f28b"/>
<rect x="105" y="396" width="7" height="7" fill="#4bf388"/>
<rect x="111" y="396" width="7" height="7" fill="#54f385"/>
<rect x="117" y="396" width="7" height="7" fill="#5cf382"/>
<rect x="123" y="396" width="7" height="7" fill="#64f47f"/>
<rect x="129" y="396" width="7" height="7" fill="#69f47d"/>
<rect x="135" y="396" width="7" height="7" fill="#6df47c"/>
<rect x="141" y="396" width="7" height="7" fill="#6ef47c"/>
<rect x="147" y="396" width="7" height="7" fill="#6cf47c"/>
<rect x="153" y="396" width="7" height="7" fill="#68f47d"/>
<rect x="159" y="396" width="7" height="7" fill="#61f380"/>
<rect x="165" y="396" width="7" height="7" fill="#57f383"/>
<rect x="171" y="396" width="7" height="7" fill="#4cf387"/>
<rect x="177" y="396" width="7" height="7" fill="#40f28c"/>
<rect x="183" y="396" width="7" height="7" fill="#33f190"/>
<rect x="189" y="396" width="7" height="7" fill="#23f196"/>
<rect x="195" y="396" width="7" height="7" fill="#12f09d"/>
<rect x="201" y="396" width="7" height="7" fill="#13f0a9"/>
<rect x="207" y="396" width="7" height="7" fill="#14f0bb"/>
<rect x="213" y="396" width="7" height="7" fill="#13ecd6"/>
<rect x="219" y="396" width="7" height="7" fill="#10e3f4"/>
<rect x="225" y="396" width="7" height="7" fill="#1cb0e3"/>
<rect x="231" y="396" width="7" height="7" fill="#209ad9"/>
<rect x="237" y="396" width="7" height="7" fill="#209ad9"/>
<rect x="243" y="396" width="7" height="7" fill="#209ad9"/>
<rect x="39" y="402" width="7" height="7" fill="#2b1a6c"/>
<rect x="45" y="402" width="7" height="7" fill="#2b1a6c"/>
<rect x="51" y="402" width="7" height="7" fill="#2b2075"/>
<rect x="57" y="402" width="7" height="7" fill="#266ec2"/>
<rect x="63" y="402" width="7" height="7" fill="#13ecd4"/>
<rect x="69" y="402" width="7" height="7" fill="#13f0af"/>
<rect x="75" y="402" width="7" height="7" fill="#12f09c"/>
<rect x="81" y="402" width="7" height="7" fill="#22f196"/>
<rect x="87" y="402" width="7" height="7" fill="#33f190"/>
<rect x="93" y="402" width="7" height="7" fill="#39f28e"/>
<rect x="99" y="402" width="7" height="7" fill="#3ef28c"/>
<rect x="105" y="402" width="7" height="7" fill="#42f28b"/>
<rect x="111" y="402" width="7" height="7" fill="#45f28a"/>
<rect x="117" y="402" width="7" height="7" fill="#46f289"/>
<rect x="123" y="402" width="7" height="7" fill="#47f289"/>
<rect x="129" y="402" width="7" height="7" fill="#46f28a"/>
<rect x="135" y="402" width="7" height="7" fill="#44f28a"/>
<rect x="141" y="402" width="7" height="7" fill="#42f28b"/>
<rect x="147" y="402" width="7" height="7" fill="#3ef28c"/>
<rect x="153" y="402" width="7" height="7" fill="#3af28e"/>
<rect x="159" y="402" width="7" height="7" fill="#35f28f"/>
<rect x="165" y="402" width="7" height="7" fill="#2ff192"/>
<rect x="171" y="402" width="7" height="7" fill="#28f194"/>
<rect x="177" y="402" width="7" height="7" fill="#1ff197"/>
<rect x="183" y="402" width="7" height="7" fill="#12f09c"/>
<rect x="189" y="402" width="7" height="7" fill="#12f0a4"/>
<rect x="195" y="402" width="7" height="7" fill="#13f0b2"/>
<rect x="201" y="402" width="7" height="7" fill="#14efc7"/>
<rect x="207" y="402" width="7" height="7" fill="#11e8e4"/>
<rect x="213" y="402" width="7" height="7" fill="#16caeb"/>
<rect x="219" y="402" width="7" height="7" fill="#1f9edb"/>
<rect x="225" y="402" width="7" height="7" fill="#2383cd"/>
<rect x="231" y="402" width="7" height="7" fill="#2579c8"/>
<rect x="237" y="402" width="7" height="7" fill="#2579c8"/>
<rect x="243" y="402" width="7" height="7" fill="#2579c8"/>
<rect x="39" y="408" width="7" height="7" fill="#2b1b6d"/>
<rect x="45" y="408" width="7" height="7" fill="#2b1b6d"/>
<rect x="51" y="408" width="7" height="7" fill="#2b2076"/>
<rect x="57" y="408" width="7" height="7" fill="#2579c7"/>
<rect x="63" y="408" width="7" height="7" fill="#13eecd"/>
<rect x="69" y="408" width="7" height="7" fill="#13f0a8"/>
<rect x="75" y="408" width="7" height="7" fill="#21f197"/>
<rect x="81" y="408" width="7" height="7" fill="#31f191"/>
<rect x="87" y="408" width="7" height="7" fill="#41f28b"/>
<rect x="93" y="408" width="7" height="7" fill="#48f289"/>
<rect x="99" y="408" width="7" height="7" fill="#4df387"/>
<rect x="105" y="408" width="7" height="7" fill="#4ef387"/>
<rect x="111" y="408" width="7" height="7" fill="#4df387"/>
<rect x="117" y="408" width="7" height="7" fill="#4af388"/>
<rect x="123" y="408" width="7" height="7" fill="#46f28a"/>
<rect x="129" y="408" width="7" height="7" fill="#40f28c"/>
<rect x="135" y="408" width="7" height="7" fill="#3af28e"/>
<rect x="141" y="408" width="7" height="7" fill="#35f290"/>
<rect x="147" y="408" width="7" height="7" fill="#2ff192"/>
<rect x="153" y="408" width="7" height="7" fill="#2af193"/>
<rect x="159" y="408" width="7" height="7" fill="#25f195"/>
<rect x="165" y="408" width="7" height="7" fill="#20f197"/>
<rect x="171" y="408" width="7" height="7" fill="#19f099"/>
<rect x="177" y="408" width="7" height="7" fill="#12f09d"/>
<rect x="183" y="408" width="7" height="7" fill="#12f0a3"/>
<rect x="189" y="408" width="7" height="7" fill="#13f0ae"/>
<rect x="195" y="408" width="7" height="7" fill="#14f0bf"/>
<rect x="201" y="408" width="7" height="7" fill="#12ebd9"/>
<rect x="207" y="408" width="7" height="7" fill="#11dff2"/>
<rect x="213" y="408" width="7" height="7" fill="#1dade2"/>
<rect x="219" y="408" width="7" height="7" fill="#228dd2"/>
<rect x="225" y="408" width="7" height="7" fill="#2579c8"/>
<rect x="231" y="408" width="7" height="7" fill="#2672c4"/>
<rect x="237" y="408" width="7" height="7" fill="#2672c4"/>
<rect x="243" y="408" width="7" height="7" fill="#2672c4"/>
<rect x="39" y="414" width="7" height="7" fill="#2b1c6e"/>
<rect x="45" y="414" width="7" height="7" fill="#2b1c6e"/>
<rect x="51" y="414" width="7" height="7" fill="#2b2178"/>
<rect x="57" y="414" width="7" height="7" fill="#2385ce"/>
<rect x="63" y="414" width="7" height="7" fill="#14f0c4"/>
<rect x="69" y="414" width="7" height="7" fill="#12f09f"/>
<rect x="75" y="414" width="7" height="7" fill="#37f28f"/>
<rect x="81" y="414" width="7" height="7" fill="#49f288"/>
<rect x="87" y="414" width="7" height="7" fill="#5bf382"/>
<rect x="93" y="414" width="7" height="7" fill="#66f47e"/>
<rect x="99" y="414" width="7" height="7" fill="#6cf47c"/>
<rect x="105" y="414" width="7" height="7" fill="#6df47c"/>
<rect x="111" y="414" width="7" height="7" fill="#6af47d"/>
<rect x="117" y="414" width="7" height="7" fill="#63f47f"/>
<rect x="123" y="414" width="7" height="7" fill="#5af382"/>
<rect x="129" y="414" width="7" height="7" fill="#50f386"/>
<rect x="135" y="414" width="7" height="7" fill="#46f289"/>
<rect x="141" y="414" width="7" height="7" fill="#3df28d"/>
<rect x="147" y="414" width="7" height="7" fill="#34f290"/>
<rect x="153" y="414" width="7" height="7" fill="#2df192"/>
<rect x="159" y="414" width="7" height="7" fill="#26f195"/>
<rect x="165" y="414" width="7" height="7" fill="#20f197"/>
<rect x="171" y="414" width="7" height="7" fill="#17f09a"/>
<rect x="177" y="414" width="7" height="7" fill="#12f09f"/>
<rect x="183" y="414" width="7" height="7" fill="#13f0a7"/>
<rect x="189" y="414" width="7" height="7" fill="#13f0b5"/>
<rect x="195" y="414" width="7" height="7" fill="#13eecb"/>
<rect x="201" y="414" width="7" height="7" fill="#11e7e8"/>
<rect x="207" y="414" width="7" height="7" fill="#17c4e9"/>
<rect x="213" y="414" width="7" height="7" fill="#209bd9"/>
<rect x="219" y="414" width="7" height="7" fill="#2482cc"/>
<rect x="225" y="414" width="7" height="7" fill="#2674c5"/>
<rect x="231" y="414" width="7" height="7" fill="#266fc2"/>
<rect x="237" y="414" width="7" height="7" fill="#266fc2"/>
<rect x="243" y="414" width="7" height="7" fill="#266fc2"/>
<rect x="39" y="420" width="7" height="7" fill="#2b1d70"/>
<rect x="45" y="420" width="7" height="7" fill="#2b1d70"/>
<rect x="51" y="420" width="7" height="7" fill="#2b237a"/>
<rect x="57" y="420" width="7" height="7" fill="#2193d5"/>
<rect x="63" y="420" width="7" height="7" fill="#14f0bb"/>
<rect x="69" y="420" width="7" height="7" fill="#22f196"/>
<rect x="75" y="420" width="7" height="7" fill="#53f385"/>
<rect x="81" y="420" width="7" height="7" fill="#6af47d"/>
<rect x="87" y="420" width="7" height="7" fill="#83f47a"/>
<rect x="93" y="420" width="7" height="7" fill="#96f479"/>
<rect x="99" y="420" width="7" height="7" fill="#a1f478"/>
<rect x="105" y="420" width="7" height="7" fill="#a2f478"/>
<rect x="111" y="420" width="7" height="7" fill="#9cf478"/>
<rect x="117" y="420" width="7" height="7" fill="#8ff479"/>
<rect x="123" y="420" width="7" height="7" fill="#7ef47b"/>
<rect x="129" y="420" width="7" height="7" fill="#6cf47c"/>
<rect x="135" y="420" width="7" height="7" fill="#5cf382"/>
<rect x="141" y="420" width="7" height="7" fill="#4ef387"/>
<rect x="147" y="420" width="7" height="7" fill="#41f28b"/>
<rect x="153" y="420" width="7" height="7" fill="#37f28f"/>
<rect x="159" y="420" width="7" height="7" fill="#2df192"/>
<rect x="165" y="420" width="7" height="7" fill="#24f195"/>
<rect x="171" y="420" width="7" height="7" fill="#1af099"/>
<rect x="177" y="420" width="7" height="7" fill="#12f09f"/>
<rect x="183" y="420" width="7" height="7" fill="#13f0aa"/>
<rect x="189" y="420" width="7" height="7" fill="#14f0bb"/>
<rect x="195" y="420" width="7" height="7" fill="#13ecd5"/>
<rect x="201" y="420" width="7" height="7" fill="#10e4f3"/>
<rect x="207" y="420" width="7" height="7" fill="#1cb2e3"/>
<rect x="213" y="420" width="7" height="7" fill="#2190d4"/>
<rect x="219" y="420" width="7" height="7" fill="#247cc9"/>
<rect x="225" y="420" width="7" height="7" fill="#2671c3"/>
<rect x="231" y="420" width="7" height="7" fill="#276dc1"/>
<rect x="237" y="420" width="7" height="7" fill="#276dc1"/>
<rect x="243" y="420" width="7" height="7" fill="#276dc1"/>
<rect x="39" y="426" width="7" height="7" fill="#2b1e72"/>
<rect x="45" y="426" width="7" height="7" fill="#2b1e72"/>
<rect x="51" y="426" width="7" height="7" fill="#2a247c"/>
<rect x="57" y="426" width="7" height="7" fill="#1fa4de"/>
<rect x="63" y="426" width="7" height="7" fill="#13f0b1"/>
<rect x="69" y="426" width="7" height="7" fill="#3ef28d"/>
<rect x="75" y="426" width="7" height="7" fill="#75f47b"/>
<rect x="81" y="426" width="7" height="7" fill="#99f479"/>
<rect x="87" y="426" width="7" height="7" fill="#bcf476"/>
<rect x="93" y="426" width="7" height="7" fill="#d6f373"/>
<rect x="99" y="426" width="7" height="7" fill="#dff071"/>
<rect x="105" y="426" width="7" height="7" fill="#e0f071"/>
<rect x="111" y="426" width="7" height="7" fill="#daf272"/>
<rect x="117" y="426" width="7" height="7" fill="#cbf475"/>
<rect x="123" y="426" width="7" height="7" fill="#b1f477"/>
<rect x="129" y="426" width="7" height="7" fill="#95f479"/>
<rect x="135" y="426" width="7" height="7" fill="#7af47b"/>
<rect x="141" y="426" width="7" height="7" fill="#63f47f"/>
<rect x="147" y="426" width="7" height="7" fill="#52f385"/>
<rect x="153" y="426" width="7" height="7" fill="#43f28b"/>
<rect x="159" y="426" width="7" height="7" fill="#36f28f"/>
<rect x="165" y="426" width="7" height="7" fill="#2af193"/>
<rect x="171" y="426" width="7" height="7" fill="#1df098"/>
<rect x="177" y="426" width="7" height="7" fill="#12f0a0"/>
<rect x="183" y="426" width="7" height="7" fill="#13f0ad"/>
<rect x="189" y="426" width="7" height="7" fill="#14f0c2"/>
<rect x="195" y="426" width="7" height="7" fill="#12e9de"/>
<rect x="201" y="426" width="7" height="7" fill="#14d4ef"/>
<rect x="207" y="426" width="7" height="7" fill="#1ea6df"/>
<rect x="213" y="426" width="7" height="7" fill="#2289d0"/>
<rect x="219" y="426" width="7" height="7" fill="#2578c7"/>
<rect x="225" y="426" width="7" height="7" fill="#266fc3"/>
<rect x="231" y="426" width="7" height="7" fill="#276cc1"/>
<rect x="237" y="426" width="7" height="7" fill="#276cc1"/>
<rect x="243" y="426" width="7" height="7" fill="#276cc1"/>
<rect x="39" y="432" width="7" height="7" fill="#2b1f74"/>
<rect x="45" y="432" width="7" height="7" fill="#2b1f74"/>
<rect x="51" y="432" width="7" height="7" fill="#2a267e"/>
<rect x="57" y="432" width="7" height="7" fill="#19bee7"/>
<rect x="63" y="432" width="7" height="7" fill="#12f0a5"/>
<rect x="69" y="432" width="7" height="7" fill="#5bf382"/>
<rect x="75" y="432" width="7" height="7" fill="#9ff478"/>
<rect x="81" y="432" width="7" height="7" fill="#d1f474"/>
<rect x="87" y="432" width="7" height="7" fill="#eeea6d"/>
<rect x="93" y="432" width="7" height="7" fill="#ffdf65"/>
<rect x="99" y="432" width="7" height="7" fill="#ffd35f"/>
<rect x="105" y="432" width="7" height="7" fill="#ffd25e"/>
<rect x="111" y="432" width="7" height="7" fill="#ffdb63"/>
<rect x="117" y="432" width="7" height="7" fill="#f8e76a"/>
<rect x="123" y="432" width="7" height="7" fill="#e3ee70"/>
<rect x="129" y="432" width="7" height="7" fill="#c8f475"/>
<rect x="135" y="432" width="7" height="7" fill="#a2f478"/>
<rect x="141" y="432" width="7" height="7" fill="#80f47a"/>
<rect x="147" y="432" width="7" height="7" fill="#65f47f"/>
<rect x="153" y="432" width="7" height="7" fill="#51f386"/>
<rect x="159" y="432" width="7" height="7" fill="#40f28c"/>
<rect x="165" y="432" width="7" height="7" fill="#31f191"/>
<rect x="171" y="432" width="7" height="7" fill="#20f197"/>
<rect x="177" y="432" width="7" height="7" fill="#12f0a0"/>
<rect x="183" y="432" width="7" height="7" fill="#13f0af"/>
<rect x="189" y="432" width="7" height="7" fill="#14efc6"/>
<rect x="195" y="432" width="7" height="7" fill="#11e8e4"/>
<rect x="201" y="432" width="7" height="7" fill="#16c9eb"/>
<rect x="207" y="432" width="7" height="7" fill="#1f9fdb"/>
<rect x="213" y="432" width="7" height="7" fill="#2385ce"/>
<rect x="219" y="432" width="7" height="7" fill="#2576c6"/>
<rect x="225" y="432" width="7" height="7" fill="#266ec2"/>
<rect x="231" y="432" width="7" height="7" fill="#276cc1"/>
<rect x="237" y="432" width="7" height="7" fill="#276cc1"/>
<rect x="243" y="432" width="7" height="7" fill="#276cc1"/>
<rect x="39" y="438" width="7" height="7" fill="#2b2076"/>
<rect x="45" y="438" width="7" height="7" fill="#2b2076"/>
<rect x="51" y="438" width="7" height="7" fill="#2a2781"/>
<rect x="57" y="438" width="7" height="7" fill="#12daf1"/>
<rect x="63" y="438" width="7" height="7" fill="#1cf099"/>
<rect x="69" y="438" width="7" height="7" fill="#7ef47b"/>
<rect x="75" y="438" width="7" height="7" fill="#cef474"/>
<rect x="81" y="438" width="7" height="7" fill="#f6e76b"/>
<rect x="87" y="438" width="7" height="7" fill="#ffc859"/>
<rect x="93" y="438" width="7" height="7" fill="#ffa948"/>
<rect x="99" y="438" width="7" height="7" fill="#ff983f"/>
<rect x="105" y="438" width="7" height="7" fill="#ff983f"/>
<rect x="111" y="438" width="7" height="7" fill="#ffa546"/>
<rect x="117" y="438" width="7" height="7" fill="#ffbb52"/>
<rect x="123" y="438" width="7" height="7" fill="#ffd861"/>
<rect x="129" y="438" width="7" height="7" fill="#edeb6d"/>
<rect x="135" y="438" width="7" height="7" fill="#cef474"/>
<rect x="141" y="438" width="7" height="7" fill="#a1f478"/>
<rect x="147" y="438" width="7" height="7" fill="#7bf47b"/>
<rect x="153" y="438" width="7" height="7" fill="#5ff380"/>
<rect x="159" y="438" width="7" height="7" fill="#4af388"/>
<rect x="165" y="438" width="7" height="7" fill="#38f28f"/>
<rect x="171" y="438" width="7" height="7" fill="#23f196"/>
<rect x="177" y="438" width="7" height="7" fill="#12f0a0"/>
<rect x="183" y="438" width="7" height="7" fill="#13f0b2"/>
<rect x="189" y="438" width="7" height="7" fill="#13eecb"/>
<rect x="195" y="438" width="7" height="7" fill="#11e6eb"/>
<rect x="201" y="438" width="7" height="7" fill="#19bfe8"/>
<rect x="207" y="438" width="7" height="7" fill="#2099d8"/>
<rect x="213" y="438" width="7" height="7" fill="#2382cc"/>
<rect x="219" y="438" width="7" height="7" fill="#2575c6"/>
<rect x="225" y="438" width="7" height="7" fill="#266ec2"/>
<rect x="231" y="438" width="7" height="7" fill="#276bc1"/>
<rect x="237" y="438" width="7" height="7" fill="#276bc1"/>
<rect x="243" y="438" width="7" height="7" fill="#276bc1"/>
<rect x="39" y="444" width="7" height="7" fill="#2b2278"/>
<rect x="45" y="444" width="7" height="7" fill="#2b2278"/>
<rect x="51" y="444" width="7" height="7" fill="#2a2984"/>
<rect x="57" y="444" width="7" height="7" fill="#11e6eb"/>
<rect x="63" y="444" width="7" height="7" fill="#39f28e"/>
<rect x="69" y="444" width="7" height="7" fill="#a5f478"/>
<rect x="75" y="444" width="7" height="7" fill="#eceb6d"/>
<rect x="81" y="444" width="7" height="7" fill="#ffc758"/>
<rect x="87" y="444" width="7" height="7" fill="#ff963f"/>
<rect x="93" y="444" width="7" height="7" fill="#fb6430"/>
<rect x="99" y="444" width="7" height="7" fill="#f94a28"/>
<rect x="105" y="444" width="7" height="7" fill="#f94a28"/>
<rect x="111" y="444" width="7" height="7" fill="#fb5e2e"/>
<rect x="117" y="444" width="7" height="7" fill="#fd8339"/>
<rect x="123" y="444" width="7" height="7" fill="#ffad4a"/>
<rect x="129" y="444" width="7" height="7" fill="#ffd45f"/>
<rect x="135" y="444" width="7" height="7" fill="#eaec6e"/>
<rect x="141" y="444" width="7" height="7" fill="#c3f475"/>
<rect x="147" y="444" width="7" height="7" fill="#93f479"/>
<rect x="153" y="444" width="7" height="7" fill="#6ef47c"/>
<rect x="159" y="444" width="7" height="7" fill="#54f384"/>
<rect x="165" y="444" width="7" height="7" fill="#3ef28c"/>
<rect x="171" y="444" width="7" height="7" fill="#25f195"/>
<rect x="177" y="444" width="7" height="7" fill="#12f0a1"/>
<rect x="183" y="444" width="7" height="7" fill="#13f0b6"/>
<rect x="189" y="444" width="7" height="7" fill="#13edd1"/>
<rect x="195" y="444" width="7" height="7" fill="#10e5f1"/>
<rect x="201" y="444" width="7" height="7" fill="#1bb6e5"/>
<rect x="207" y="444" width="7" height="7" fill="#2194d6"/>
<rect x="213" y="444" width="7" height="7" fill="#2480cb"/>
<rect x="219" y="444" width="7" height="7" fill="#2674c5"/>
<rect x="225" y="444" width="7" height="7" fill="#266ec2"/>
<rect x="231" y="444" width="7" height="7" fill="#276bc1"/>
<rect x="237" y="444" width="7" height="7" fill="#276bc1"/>
<rect x="243" y="444" width="7" height="7" fill="#276bc1"/>
<rect x="39" y="450" width="7" height="7" fill="#2b237a"/>
<rect x="45" y="450" width="7" height="7" fill="#2b237a"/>
<rect x="51" y="450" width="7" height="7" fill="#2a2a86"/>
<rect x="57" y="450" width="7" height="7" fill="#12eadd"/>
<rect x="63" y="450" width="7" height="7" fill="#56f384"/>
<rect x="69" y="450" width="7" height="7" fill="#caf475"/>
<rect x="75" y="450" width="7" height="7" fill="#ffdd64"/>
<rect x="81" y="450" width="7" height="7" fill="#ffa244"/>
<rect x="87" y="450" width="7" height="7" fill="#fa5a2d"/>
<rect x="93" y="450" width="7" height="7" fill="#f32f1c"/>
<rect x="99" y="450" width="7" height="7" fill="#ee2114"/>
<rect x="105" y="450" width="7" height="7" fill="#ee2114"/>
<rect x="111" y="450" width="7" height="7" fill="#f22c1b"/>
<rect x="117" y="450" width="7" height="7" fill="#f94527"/>
<rect x="123" y="450" width="7" height="7" fill="#fd7e38"/>
<rect x="129" y="450" width="7" height="7" fill="#ffb44e"/>
<rect x="135" y="450" width="7" height="7" fill="#ffe166"/>
<rect x="141" y="450" width="7" height="7" fill="#dcf172"/>
<rect x="147" y="450" width="7" height="7" fill="#aaf477"/>
<rect x="153" y="450" width="7" height="7" fill="#7df47b"/>
<rect x="159" y="450" width="7" height="7" fill="#5df381"/>
<rect x="165" y="450" width="7" height="7" fill="#42f28b"/>
<rect x="171" y="450" width="7" height="7" fill="#26f195"/>
<rect x="177" y="450" width="7" height="7" fill="#12f0a3"/>
<rect x="183" y="450" width="7" height="7" fill="#13f0ba"/>
<rect x="189" y="450" width="7" height="7" fill="#12ebd7"/>
<rect x="195" y="450" width="7" height="7" fill="#11def2"/>
<rect x="201" y="450" width="7" height="7" fill="#1daee2"/>
<rect x="207" y="450" width="7" height="7" fill="#228fd3"/>
<rect x="213" y="450" width="7" height="7" fill="#247dca"/>
<rect x="219" y="450" width="7" height="7" fill="#2673c5"/>
<rect x="225" y="450" width="7" height="7" fill="#266dc2"/>
<rect x="231" y="450" width="7" height="7" fill="#276bc1"/>
<rect x="237" y="450" width="7" height="7" fill="#276bc1"/>
<rect x="243" y="450" width="7" height="7" fill="#276bc1"/>
<rect x="39" y="456" width="7" height="7" fill="#2a247b"/>
<rect x="45" y="456" width="7" height="7" fill="#2a247b"/>
<rect x="51" y="456" width="7" height="7" fill="#2a2c88"/>
<rect x="57" y="456" width="7" height="7" fill="#13edd0"/>
<rect x="63" y="456" width="7" height="7" fill="#6ff47c"/>
<rect x="69" y="456" width="7" height="7" fill="#e0f071"/>
<rect x="75" y="456" width="7" height="7" fill="#ffc758"/>
<rect x="81" y="456" width="7" height="7" fill="#fd7e38"/>
<rect x="87" y="456" width="7" height="7" fill="#f5341f"/>
<rect x="93" y="456" width="7" height="7" fill="#ec1a10"/>
<rect x="99" y="456" width="7" height="7" fill="#ec1a10"/>
<rect x="105" y="456" width="7" height="7" fill="#ec1a10"/>
<rect x="111" y="456" width="7" height="7" fill="#ec1a10"/>
<rect x="117" y="456" width="7" height="7" fill="#f12a19"/>
<rect x="123" y="456" width="7" height="7" fill="#fa542b"/>
<rect x="129" y="456" width="7" height="7" fill="#ff9940"/>
<rect x="135" y="456" width="7" height="7" fill="#ffcd5c"/>
<rect x="141" y="456" width="7" height="7" fill="#eaec6e"/>
<rect x="147" y="456" width="7" height="7" fill="#bbf476"/>
<rect x="153" y="456" width="7" height="7" fill="#89f47a"/>
<rect x="159" y="456" width="7" height="7" fill="#63f47f"/>
<rect x="165" y="456" width="7" height="7" fill="#45f28a"/>
<rect x="171" y="456" width="7" height="7" fill="#25f195"/>
<rect x="177" y="456" width="7" height="7" fill="#12f0a6"/>
<rect x="183" y="456" width="7" height="7" fill="#14f0bf"/>
<rect x="189" y="456" width="7" height="7" fill="#12e9de"/>
<rect x="195" y="456" width="7" height="7" fill="#14d3ee"/>
<rect x="201" y="456" width="7" height="7" fill="#1ea6df"/>
<rect x="207" y="456" width="7" height="7" fill="#228bd1"/>
<rect x="213" y="456" width="7" height="7" fill="#247bc9"/>
<rect x="219" y="456" width="7" height="7" fill="#2672c4"/>
<rect x="225" y="456" width="7" height="7" fill="#276dc2"/>
<rect x="231" y="456" width="7" height="7" fill="#276bc0"/>
<rect x="237" y="456" width="7" height="7" fill="#276bc0"/>
<rect x="243" y="456" width="7" height="7" fill="#276bc0"/>
<rect x="39" y="462" width="7" height="7" fill="#2a247c"/>
<rect x="45" y="462" width="7" height="7" fill="#2a247c"/>
<rect x="51" y="462" width="7" height="7" fill="#2a2c8a"/>
<rect x="57" y="462" width="7" height="7" fill="#14f0c4"/>
<rect x="63" y="462" width="7" height="7" fill="#86f47a"/>
<rect x="69" y="462" width="7" height="7" fill="#ebeb6d"/>
<rect x="75" y="462" width="7" height="7" fill="#ffb951"/>
<rect x="81" y="462" width="7" height="7" fill="#fb6631"/>
<rect x="87" y="462" width="7" height="7" fill="#f02617"/>
<rect x="93" y="462" width="7" height="7" fill="#ec1a10"/>
<rect x="99" y="462" width="7" height="7" fill="#ec1a10"/>
<rect x="105" y="462" width="7" height="7" fill="#ec1a10"/>
<rect x="111" y="462" width="7" height="7" fill="#ec1a10"/>
<rect x="117" y="462" width="7" height="7" fill="#ec1b11"/>
<rect x="123" y="462" width="7" height="7" fill="#f83b23"/>
<rect x="129" y="462" width="7" height="7" fill="#fd8439"/>
<rect x="135" y="462" width="7" height="7" fill="#ffc155"/>
<rect x="141" y="462" width="7" height="7" fill="#f2e96c"/>
<rect x="147" y="462" width="7" height="7" fill="#c6f475"/>
<rect x="153" y="462" width="7" height="7" fill="#90f479"/>
<rect x="159" y="462" width="7" height="7" fill="#66f47e"/>
<rect x="165" y="462" width="7" height="7" fill="#45f28a"/>
<rect x="171" y="462" width="7" height="7" fill="#21f197"/>
<rect x="177" y="462" width="7" height="7" fill="#13f0aa"/>
<rect x="183" y="462" width="7" height="7" fill="#14f0c4"/>
<rect x="189" y="462" width="7" height="7" fill="#11e8e5"/>
<rect x="195" y="462" width="7" height="7" fill="#17c8eb"/>
<rect x="201" y="462" width="7" height="7" fill="#1fa0dc"/>
<rect x="207" y="462" width="7" height="7" fill="#2388cf"/>
<rect x="213" y="462" width="7" height="7" fill="#257ac8"/>
<rect x="219" y="462" width="7" height="7" fill="#2672c4"/>
<rect x="225" y="462" width="7" height="7" fill="#276dc1"/>
<rect x="231" y="462" width="7" height="7" fill="#276bc0"/>
<rect x="237" y="462" width="7" height="7" fill="#276bc0"/>
<rect x="243" y="462" width="7" height="7" fill="#276bc0"/>
<rect x="39" y="468" width="7" height="7" fill="#2a247c"/>
<rect x="45" y="468" width="7" height="7" fill="#2a247c"/>
<rect x="51" y="468" width="7" height="7" fill="#2a2c8a"/>
<rect x="57" y="468" width="7" height="7" fill="#14f0c2"/>
<rect x="63" y="468" width="7" height="7" fill="#89f47a"/>
<rect x="69" y="468" width="7" height="7" fill="#edeb6d"/>
<rect x="75" y="468" width="7" height="7" fill="#ffb850"/>
<rect x="81" y="468" width="7" height="7" fill="#fb6430"/>
<rect x="87" y="468" width="7" height="7" fill="#f02516"/>
<rect x="93" y="468" width="7" height="7" fill="#ec1a10"/>
<rect x="99" y="468" width="7" height="7" fill="#ec1a10"/>
<rect x="105" y="468" width="7" height="7" fill="#ec1a10"/>
<rect x="111" y="468" width="7" height="7" fill="#ec1a10"/>
<rect x="117" y="468" width="7" height="7" fill="#ec1a10"/>
<rect x="123" y="468" width="7" height="7" fill="#f73a23"/>
<rect x="129" y="468" width="7" height="7" fill="#fd8239"/>
<rect x="135" y="468" width="7" height="7" fill="#ffbf54"/>
<rect x="141" y="468" width="7" height="7" fill="#f3e86b"/>
<rect x="147" y="468" width="7" height="7" fill="#c7f475"/>
<rect x="153" y="468" width="7" height="7" fill="#91f479"/>
<rect x="159" y="468" width="7" height="7" fill="#66f47e"/>
<rect x="165" y="468" width="7" height="7" fill="#45f28a"/>
<rect x="171" y="468" width="7" height="7" fill="#20f197"/>
<rect x="177" y="468" width="7" height="7" fill="#13f0aa"/>
<rect x="183" y="468" width="7" height="7" fill="#14f0c6"/>
<rect x="189" y="468" width="7" height="7" fill="#11e7e6"/>
<rect x="195" y="468" width="7" height="7" fill="#17c6ea"/>
<rect x="201" y="468" width="7" height="7" fill="#1f9fdb"/>
<rect x="207" y="468" width="7" height="7" fill="#2387cf"/>
<rect x="213" y="468" width="7" height="7" fill="#2579c8"/>
<rect x="219" y="468" width="7" height="7" fill="#2671c4"/>
<rect x="225" y="468" width="7" height="7" fill="#276dc1"/>
<rect x="231" y="468" width="7" height="7" fill="#276bc0"/>
<rect x="237" y="468" width="7" height="7" fill="#276bc0"/>
<rect x="243" y="468" width="7" height="7" fill="#276bc0"/>
<rect x="39" y="474" width="7" height="7" fill="#2a247c"/>
<rect x="45" y="474" width="7" height="7" fill="#2a247c"/>
<rect x="51" y="474" width="7" height="7" fill="#2a2c8a"/>
<rect x="57" y="474" width="7" height="7" fill="#14f0c2"/>
<rect x="63" y="474" width="7" height="7" fill="#89f47a"/>
<rect x="69" y="474" width="7" height="7" fill="#edeb6d"/>
<rect x="75" y="474" width="7" height="7" fill="#ffb850"/>
<rect x="81" y="474" width="7" height="7" fill="#fb6430"/>
<rect x="87" y="474" width="7" height="7" fill="#f02516"/>
<rect x="93" y="474" width="7" height="7" fill="#ec1a10"/>
<rect x="99" y="474" width="7" height="7" fill="#ec1a10"/>
<rect x="105" y="474" width="7" height="7" fill="#ec1a10"/>
<rect x="111" y="474" width="7" height="7" fill="#ec1a10"/>
<rect x="117" y="474" width="7" height="7" fill="#ec1a10"/>
<rect x="123" y="474" width="7" height="7" fill="#f73a23"/>
<rect x="129" y="474" width="7" height="7" fill="#fd8239"/>
<rect x="135" y="474" width="7" height="7" fill="#ffbf54"/>
<rect x="141" y="474" width="7" height="7" fill="#f3e86b"/>
<rect x="147" y="474" width="7" height="7" fill="#c7f475"/>
<rect x="153" y="474" width="7" height="7" fill="#91f479"/>
<rect x="159" y="474" width="7" height="7" fill="#66f47e"/>
<rect x="165" y="474" width="7" height="7" fill="#45f28a"/>
<rect x="171" y="474" width="7" height="7" fill="#20f197"/>
<rect x="177" y="474" width="7" height="7" fill="#13f0aa"/>
<rect x="183" y="474" width="7" height="7" fill="#14f0c6"/>
<rect x="189" y="474" width="7" height="7" fill="#11e7e6"/>
<rect x="195" y="474" width="7" height="7" fill="#17c6ea"/>
<rect x="201" y="474" width="7" height="7" fill="#1f9fdb"/>
<rect x="207" y="474" width="7" height="7" fill="#2387cf"/>
<rect x="213" y="474" width="7" height="7" fill="#2579c8"/>
<rect x="219" y="474" width="7" height="7" fill="#2671c4"/>
<rect x="225" y="474" width="7" height="7" fill="#276dc1"/>
<rect x="231" y="474" width="7" height="7" fill="#276bc0"/>
<rect x="237" y="474" width="7" height="7" fill="#276bc0"/>
<rect x="243" y="474" width="7" height="7" fill="#276bc0"/>
</g></g>
<!-- panel d overlays -->
<defs>
<marker id="mkd" viewBox="0 0 10 10" refX="8" refY="5" markerWidth="5" markerHeight="4.2" orient="auto-start-reverse"><path d="M0,0 L10,5 L0,10 L3,5 Z" fill="#1a1c55"/></marker>
</defs>
<rect x="51" y="270" width="2.6" height="196" fill="#0a0ae0"/>
<text x="4.5" y="266.5" font-size="18.5">d)</text>
<rect x="51" y="270" width="180.5" height="196" fill="none" stroke="#2a2a2a" stroke-width="0.9"/>
<path d="M51,270h-3.5M51,319h-3.5M51,368h-3.5M51,417h-3.5M51,466h-3.5M51,294.5h-2.2M51,343.5h-2.2M51,392.5h-2.2M51,441.5h-2.2" stroke="#222" stroke-width="0.9" fill="none"/>
<path d="M51.25,466v3.5M96.25,466v3.5M141.25,466v3.5M186.25,466v3.5M231.25,466v3.5M73.75,466v2.2M118.75,466v2.2M163.75,466v2.2M208.75,466v2.2" stroke="#222" stroke-width="0.9" fill="none"/>
<g font-size="11.6" text-anchor="end"><text x="45.8" y="274">300</text><text x="45.8" y="323">330</text><text x="45.8" y="372">360</text><text x="45.8" y="421">390</text><text x="45.8" y="470">420</text></g>
<g font-size="11.6" text-anchor="middle"><text x="51.25" y="481.2">400</text><text x="96.25" y="481.2">500</text><text x="141.25" y="481.2">600</text><text x="186.25" y="481.2">700</text></g>
<svg x="0" y="468" width="238.8" height="20" viewBox="0 468 238.8 20" overflow="hidden"><text x="231.25" y="481.2" font-size="11.6" text-anchor="middle">800</text></svg>
<text x="52" y="501" font-size="14.1" textLength="178.5" lengthAdjust="spacingAndGlyphs">Emission Wavelength (nm)</text>
<text transform="translate(18.5,464) rotate(-90)" font-size="14.4" textLength="183.4" lengthAdjust="spacingAndGlyphs">Excitation Wavelength (nm)</text>
<rect x="56.7" y="357.2" width="169.3" height="19.2" fill="none" stroke="#e41c1c" stroke-width="1.25" stroke-dasharray="3.4,1.7"/>
<path d="M193,296 C195,318 194,338 187,350 C178,366 160,370 146,376 C125,385 110,400 104,433" fill="none" stroke="#1a1c55" stroke-width="2" marker-start="url(#mkd)" marker-end="url(#mkd)"/>
<text x="165.5" y="286.5" font-size="14.6" textLength="49.5" lengthAdjust="spacingAndGlyphs">675 nm</text>
<text x="87" y="460" font-size="14.6" textLength="49" lengthAdjust="spacingAndGlyphs">527 nm</text>
<defs><clipPath id="clipe"><rect x="289" y="270" width="180" height="196"/></clipPath></defs>
<g clip-path="url(#clipe)"><g class="hm" filter="url(#hblur)">
<rect x="277" y="258" width="7" height="7" fill="#0c46ac"/>
<rect x="283" y="258" width="7" height="7" fill="#0c46ac"/>
<rect x="289" y="258" width="7" height="7" fill="#0c46ac"/>
<rect x="295" y="258" width="7" height="7" fill="#0c46ac"/>
<rect x="301" y="258" width="7" height="7" fill="#0c46ac"/>
<rect x="307" y="258" width="7" height="7" fill="#0c46ac"/>
<rect x="313" y="258" width="7" height="7" fill="#0c46ac"/>
<rect x="319" y="258" width="7" height="7" fill="#0c47ad"/>
<rect x="325" y="258" width="7" height="7" fill="#0c49ae"/>
<rect x="331" y="258" width="7" height="7" fill="#0d4cb0"/>
<rect x="337" y="258" width="7" height="7" fill="#0d4fb3"/>
<rect x="343" y="258" width="7" height="7" fill="#0d52b5"/>
<rect x="349" y="258" width="7" height="7" fill="#0d55b7"/>
<rect x="355" y="258" width="7" height="7" fill="#0e57b9"/>
<rect x="361" y="258" width="7" height="7" fill="#0e5abb"/>
<rect x="367" y="258" width="7" height="7" fill="#0e5dbd"/>
<rect x="373" y="258" width="7" height="7" fill="#0e60c0"/>
<rect x="379" y="258" width="7" height="7" fill="#0f62c1"/>
<rect x="385" y="258" width="7" height="7" fill="#0f63c2"/>
<rect x="391" y="258" width="7" height="7" fill="#0f64c3"/>
<rect x="397" y="258" width="7" height="7" fill="#0f63c2"/>
<rect x="403" y="258" width="7" height="7" fill="#0f61c0"/>
<rect x="409" y="258" width="7" height="7" fill="#0e5ebe"/>
<rect x="415" y="258" width="7" height="7" fill="#0e5bbc"/>
<rect x="421" y="258" width="7" height="7" fill="#0e58ba"/>
<rect x="427" y="258" width="7" height="7" fill="#0d55b8"/>
<rect x="433" y="258" width="7" height="7" fill="#0d53b6"/>
<rect x="439" y="258" width="7" height="7" fill="#0d52b5"/>
<rect x="445" y="258" width="7" height="7" fill="#0d51b4"/>
<rect x="451" y="258" width="7" height="7" fill="#0d50b4"/>
<rect x="457" y="258" width="7" height="7" fill="#0d50b4"/>
<rect x="463" y="258" width="7" height="7" fill="#0d50b4"/>
<rect x="469" y="258" width="7" height="7" fill="#0d50b4"/>
<rect x="475" y="258" width="7" height="7" fill="#0d50b4"/>
<rect x="277" y="264" width="7" height="7" fill="#0c46ac"/>
<rect x="283" y="264" width="7" height="7" fill="#0c46ac"/>
<rect x="289" y="264" width="7" height="7" fill="#0c46ac"/>
<rect x="295" y="264" width="7" height="7" fill="#0c46ac"/>
<rect x="301" y="264" width="7" height="7" fill="#0c46ac"/>
<rect x="307" y="264" width="7" height="7" fill="#0c46ac"/>
<rect x="313" y="264" width="7" height="7" fill="#0c46ac"/>
<rect x="319" y="264" width="7" height="7" fill="#0c47ad"/>
<rect x="325" y="264" width="7" height="7" fill="#0c49ae"/>
<rect x="331" y="264" width="7" height="7" fill="#0d4cb0"/>
<rect x="337" y="264" width="7" height="7" fill="#0d4fb3"/>
<rect x="343" y="264" width="7" height="7" fill="#0d52b5"/>
<rect x="349" y="264" width="7" height="7" fill="#0d55b7"/>
<rect x="355" y="264" width="7" height="7" fill="#0e57b9"/>
<rect x="361" y="264" width="7" height="7" fill="#0e5abb"/>
<rect x="367" y="264" width="7" height="7" fill="#0e5dbd"/>
<rect x="373" y="264" width="7" height="7" fill="#0e60c0"/>
<rect x="379" y="264" width="7" height="7" fill="#0f62c1"/>
<rect x="385" y="264" width="7" height="7" fill="#0f63c2"/>
<rect x="391" y="264" width="7" height="7" fill="#0f64c3"/>
<rect x="397" y="264" width="7" height="7" fill="#0f63c2"/>
<rect x="403" y="264" width="7" height="7" fill="#0f61c0"/>
<rect x="409" y="264" width="7" height="7" fill="#0e5ebe"/>
<rect x="415" y="264" width="7" height="7" fill="#0e5bbc"/>
<rect x="421" y="264" width="7" height="7" fill="#0e58ba"/>
<rect x="427" y="264" width="7" height="7" fill="#0d55b8"/>
<rect x="433" y="264" width="7" height="7" fill="#0d53b6"/>
<rect x="439" y="264" width="7" height="7" fill="#0d52b5"/>
<rect x="445" y="264" width="7" height="7" fill="#0d51b4"/>
<rect x="451" y="264" width="7" height="7" fill="#0d50b4"/>
<rect x="457" y="264" width="7" height="7" fill="#0d50b4"/>
<rect x="463" y="264" width="7" height="7" fill="#0d50b4"/>
<rect x="469" y="264" width="7" height="7" fill="#0d50b4"/>
<rect x="475" y="264" width="7" height="7" fill="#0d50b4"/>
<rect x="277" y="270" width="7" height="7" fill="#0c46ac"/>
<rect x="283" y="270" width="7" height="7" fill="#0c46ac"/>
<rect x="289" y="270" width="7" height="7" fill="#0c46ac"/>
<rect x="295" y="270" width="7" height="7" fill="#0c46ac"/>
<rect x="301" y="270" width="7" height="7" fill="#0c46ac"/>
<rect x="307" y="270" width="7" height="7" fill="#0c46ac"/>
<rect x="313" y="270" width="7" height="7" fill="#0c46ac"/>
<rect x="319" y="270" width="7" height="7" fill="#0d4eb2"/>
<rect x="325" y="270" width="7" height="7" fill="#0e5fbf"/>
<rect x="331" y="270" width="7" height="7" fill="#1078cf"/>
<rect x="337" y="270" width="7" height="7" fill="#0e9ada"/>
<rect x="343" y="270" width="7" height="7" fill="#0cb9e4"/>
<rect x="349" y="270" width="7" height="7" fill="#0acde9"/>
<rect x="355" y="270" width="7" height="7" fill="#0ad6eb"/>
<rect x="361" y="270" width="7" height="7" fill="#09ddec"/>
<rect x="367" y="270" width="7" height="7" fill="#09e4ee"/>
<rect x="373" y="270" width="7" height="7" fill="#08ebf0"/>
<rect x="379" y="270" width="7" height="7" fill="#09eceb"/>
<rect x="385" y="270" width="7" height="7" fill="#09ece7"/>
<rect x="391" y="270" width="7" height="7" fill="#09ece7"/>
<rect x="397" y="270" width="7" height="7" fill="#09ece9"/>
<rect x="403" y="270" width="7" height="7" fill="#08ecef"/>
<rect x="409" y="270" width="7" height="7" fill="#08e7ef"/>
<rect x="415" y="270" width="7" height="7" fill="#09dfed"/>
<rect x="421" y="270" width="7" height="7" fill="#0ad8eb"/>
<rect x="427" y="270" width="7" height="7" fill="#0ad1ea"/>
<rect x="433" y="270" width="7" height="7" fill="#0acde9"/>
<rect x="439" y="270" width="7" height="7" fill="#0bc9e8"/>
<rect x="445" y="270" width="7" height="7" fill="#0bc6e7"/>
<rect x="451" y="270" width="7" height="7" fill="#0bc5e7"/>
<rect x="457" y="270" width="7" height="7" fill="#0bc4e7"/>
<rect x="463" y="270" width="7" height="7" fill="#0bc4e7"/>
<rect x="469" y="270" width="7" height="7" fill="#0bc3e7"/>
<rect x="475" y="270" width="7" height="7" fill="#0bc3e7"/>
<rect x="277" y="276" width="7" height="7" fill="#0c46ac"/>
<rect x="283" y="276" width="7" height="7" fill="#0c46ac"/>
<rect x="289" y="276" width="7" height="7" fill="#0c46ac"/>
<rect x="295" y="276" width="7" height="7" fill="#0c46ac"/>
<rect x="301" y="276" width="7" height="7" fill="#0c46ac"/>
<rect x="307" y="276" width="7" height="7" fill="#0c46ac"/>
<rect x="313" y="276" width="7" height="7" fill="#0c47ac"/>
<rect x="319" y="276" width="7" height="7" fill="#0d51b5"/>
<rect x="325" y="276" width="7" height="7" fill="#0f68c6"/>
<rect x="331" y="276" width="7" height="7" fill="#0e91d7"/>
<rect x="337" y="276" width="7" height="7" fill="#0bc0e6"/>
<rect x="343" y="276" width="7" height="7" fill="#08e8ef"/>
<rect x="349" y="276" width="7" height="7" fill="#0bebd6"/>
<rect x="355" y="276" width="7" height="7" fill="#0ceaca"/>
<rect x="361" y="276" width="7" height="7" fill="#0deabf"/>
<rect x="367" y="276" width="7" height="7" fill="#0ee9b3"/>
<rect x="373" y="276" width="7" height="7" fill="#0fe8a7"/>
<rect x="379" y="276" width="7" height="7" fill="#11e89e"/>
<rect x="385" y="276" width="7" height="7" fill="#14e89a"/>
<rect x="391" y="276" width="7" height="7" fill="#14e89a"/>
<rect x="397" y="276" width="7" height="7" fill="#12e89d"/>
<rect x="403" y="276" width="7" height="7" fill="#10e8a4"/>
<rect x="409" y="276" width="7" height="7" fill="#0fe9af"/>
<rect x="415" y="276" width="7" height="7" fill="#0de9bb"/>
<rect x="421" y="276" width="7" height="7" fill="#0ceac6"/>
<rect x="427" y="276" width="7" height="7" fill="#0bead0"/>
<rect x="433" y="276" width="7" height="7" fill="#0aebd8"/>
<rect x="439" y="276" width="7" height="7" fill="#0aebde"/>
<rect x="445" y="276" width="7" height="7" fill="#09ebe2"/>
<rect x="451" y="276" width="7" height="7" fill="#09ebe4"/>
<rect x="457" y="276" width="7" height="7" fill="#09ebe6"/>
<rect x="463" y="276" width="7" height="7" fill="#09ece7"/>
<rect x="469" y="276" width="7" height="7" fill="#09ece7"/>
<rect x="475" y="276" width="7" height="7" fill="#09ece7"/>
<rect x="277" y="282" width="7" height="7" fill="#0c46ac"/>
<rect x="283" y="282" width="7" height="7" fill="#0c46ac"/>
<rect x="289" y="282" width="7" height="7" fill="#0c46ac"/>
<rect x="295" y="282" width="7" height="7" fill="#0c46ac"/>
<rect x="301" y="282" width="7" height="7" fill="#0c46ac"/>
<rect x="307" y="282" width="7" height="7" fill="#0c46ac"/>
<rect x="313" y="282" width="7" height="7" fill="#0c46ac"/>
<rect x="319" y="282" width="7" height="7" fill="#0d51b4"/>
<rect x="325" y="282" width="7" height="7" fill="#0f68c6"/>
<rect x="331" y="282" width="7" height="7" fill="#0e8fd6"/>
<rect x="337" y="282" width="7" height="7" fill="#0cbde5"/>
<rect x="343" y="282" width="7" height="7" fill="#09e4ee"/>
<rect x="349" y="282" width="7" height="7" fill="#0aebde"/>
<rect x="355" y="282" width="7" height="7" fill="#0bebd5"/>
<rect x="361" y="282" width="7" height="7" fill="#0beacd"/>
<rect x="367" y="282" width="7" height="7" fill="#0ceac6"/>
<rect x="373" y="282" width="7" height="7" fill="#0deabe"/>
<rect x="379" y="282" width="7" height="7" fill="#0ee9b9"/>
<rect x="385" y="282" width="7" height="7" fill="#0ee9b5"/>
<rect x="391" y="282" width="7" height="7" fill="#0ee9b4"/>
<rect x="397" y="282" width="7" height="7" fill="#0ee9b7"/>
<rect x="403" y="282" width="7" height="7" fill="#0de9bc"/>
<rect x="409" y="282" width="7" height="7" fill="#0ceac3"/>
<rect x="415" y="282" width="7" height="7" fill="#0ceacb"/>
<rect x="421" y="282" width="7" height="7" fill="#0bebd2"/>
<rect x="427" y="282" width="7" height="7" fill="#0aebd9"/>
<rect x="433" y="282" width="7" height="7" fill="#0aebde"/>
<rect x="439" y="282" width="7" height="7" fill="#09ebe2"/>
<rect x="445" y="282" width="7" height="7" fill="#09ebe4"/>
<rect x="451" y="282" width="7" height="7" fill="#09ebe6"/>
<rect x="457" y="282" width="7" height="7" fill="#09ece6"/>
<rect x="463" y="282" width="7" height="7" fill="#09ece7"/>
<rect x="469" y="282" width="7" height="7" fill="#09ece7"/>
<rect x="475" y="282" width="7" height="7" fill="#09ece7"/>
<rect x="277" y="288" width="7" height="7" fill="#0c46ac"/>
<rect x="283" y="288" width="7" height="7" fill="#0c46ac"/>
<rect x="289" y="288" width="7" height="7" fill="#0c46ac"/>
<rect x="295" y="288" width="7" height="7" fill="#0c46ac"/>
<rect x="301" y="288" width="7" height="7" fill="#0c46ac"/>
<rect x="307" y="288" width="7" height="7" fill="#0c46ac"/>
<rect x="313" y="288" width="7" height="7" fill="#0c46ac"/>
<rect x="319" y="288" width="7" height="7" fill="#0d51b4"/>
<rect x="325" y="288" width="7" height="7" fill="#0f67c5"/>
<rect x="331" y="288" width="7" height="7" fill="#0e8dd6"/>
<rect x="337" y="288" width="7" height="7" fill="#0cb9e4"/>
<rect x="343" y="288" width="7" height="7" fill="#09deed"/>
<rect x="349" y="288" width="7" height="7" fill="#09ece8"/>
<rect x="355" y="288" width="7" height="7" fill="#09ebe3"/>
<rect x="361" y="288" width="7" height="7" fill="#09ebe1"/>
<rect x="367" y="288" width="7" height="7" fill="#0aebdf"/>
<rect x="373" y="288" width="7" height="7" fill="#0aebdd"/>
<rect x="379" y="288" width="7" height="7" fill="#0aebdc"/>
<rect x="385" y="288" width="7" height="7" fill="#0aebdb"/>
<rect x="391" y="288" width="7" height="7" fill="#0aebdb"/>
<rect x="397" y="288" width="7" height="7" fill="#0aebdb"/>
<rect x="403" y="288" width="7" height="7" fill="#0aebdd"/>
<rect x="409" y="288" width="7" height="7" fill="#0aebde"/>
<rect x="415" y="288" width="7" height="7" fill="#0aebe0"/>
<rect x="421" y="288" width="7" height="7" fill="#09ebe2"/>
<rect x="427" y="288" width="7" height="7" fill="#09ebe4"/>
<rect x="433" y="288" width="7" height="7" fill="#09ebe5"/>
<rect x="439" y="288" width="7" height="7" fill="#09ece6"/>
<rect x="445" y="288" width="7" height="7" fill="#09ece7"/>
<rect x="451" y="288" width="7" height="7" fill="#09ece7"/>
<rect x="457" y="288" width="7" height="7" fill="#09ece7"/>
<rect x="463" y="288" width="7" height="7" fill="#09ece8"/>
<rect x="469" y="288" width="7" height="7" fill="#09ece8"/>
<rect x="475" y="288" width="7" height="7" fill="#09ece8"/>
<rect x="277" y="294" width="7" height="7" fill="#0c46ac"/>
<rect x="283" y="294" width="7" height="7" fill="#0c46ac"/>
<rect x="289" y="294" width="7" height="7" fill="#0c46ac"/>
<rect x="295" y="294" width="7" height="7" fill="#0c46ac"/>
<rect x="301" y="294" width="7" height="7" fill="#0c46ac"/>
<rect x="307" y="294" width="7" height="7" fill="#0c46ac"/>
<rect x="313" y="294" width="7" height="7" fill="#0c46ac"/>
<rect x="319" y="294" width="7" height="7" fill="#0d4fb3"/>
<rect x="325" y="294" width="7" height="7" fill="#0f64c3"/>
<rect x="331" y="294" width="7" height="7" fill="#0f85d3"/>
<rect x="337" y="294" width="7" height="7" fill="#0dade0"/>
<rect x="343" y="294" width="7" height="7" fill="#0acfe9"/>
<rect x="349" y="294" width="7" height="7" fill="#09e3ee"/>
<rect x="355" y="294" width="7" height="7" fill="#08e6ef"/>
<rect x="361" y="294" width="7" height="7" fill="#08e6ef"/>
<rect x="367" y="294" width="7" height="7" fill="#08e6ef"/>
<rect x="373" y="294" width="7" height="7" fill="#08e6ef"/>
<rect x="379" y="294" width="7" height="7" fill="#08e6ef"/>
<rect x="385" y="294" width="7" height="7" fill="#08e6ef"/>
<rect x="391" y="294" width="7" height="7" fill="#08e6ef"/>
<rect x="397" y="294" width="7" height="7" fill="#08e6ef"/>
<rect x="403" y="294" width="7" height="7" fill="#08e6ef"/>
<rect x="409" y="294" width="7" height="7" fill="#08e6ef"/>
<rect x="415" y="294" width="7" height="7" fill="#08e6ef"/>
<rect x="421" y="294" width="7" height="7" fill="#08e6ef"/>
<rect x="427" y="294" width="7" height="7" fill="#09e5ee"/>
<rect x="433" y="294" width="7" height="7" fill="#09e5ee"/>
<rect x="439" y="294" width="7" height="7" fill="#09e5ee"/>
<rect x="445" y="294" width="7" height="7" fill="#09e5ee"/>
<rect x="451" y="294" width="7" height="7" fill="#09e5ee"/>
<rect x="457" y="294" width="7" height="7" fill="#09e5ee"/>
<rect x="463" y="294" width="7" height="7" fill="#08e6ef"/>
<rect x="469" y="294" width="7" height="7" fill="#08e6ef"/>
<rect x="475" y="294" width="7" height="7" fill="#08e6ef"/>
<rect x="277" y="300" width="7" height="7" fill="#0c46ac"/>
<rect x="283" y="300" width="7" height="7" fill="#0c46ac"/>
<rect x="289" y="300" width="7" height="7" fill="#0c46ac"/>
<rect x="295" y="300" width="7" height="7" fill="#0c46ac"/>
<rect x="301" y="300" width="7" height="7" fill="#0c46ac"/>
<rect x="307" y="300" width="7" height="7" fill="#0c45ab"/>
<rect x="313" y="300" width="7" height="7" fill="#0c46ac"/>
<rect x="319" y="300" width="7" height="7" fill="#0d4cb1"/>
<rect x="325" y="300" width="7" height="7" fill="#0e5cbc"/>
<rect x="331" y="300" width="7" height="7" fill="#106fcb"/>
<rect x="337" y="300" width="7" height="7" fill="#0e8dd6"/>
<rect x="343" y="300" width="7" height="7" fill="#0da6de"/>
<rect x="349" y="300" width="7" height="7" fill="#0cb6e3"/>
<rect x="355" y="300" width="7" height="7" fill="#0cb8e4"/>
<rect x="361" y="300" width="7" height="7" fill="#0cb8e4"/>
<rect x="367" y="300" width="7" height="7" fill="#0cb8e4"/>
<rect x="373" y="300" width="7" height="7" fill="#0cb8e4"/>
<rect x="379" y="300" width="7" height="7" fill="#0cb7e4"/>
<rect x="385" y="300" width="7" height="7" fill="#0cb7e4"/>
<rect x="391" y="300" width="7" height="7" fill="#0cb7e4"/>
<rect x="397" y="300" width="7" height="7" fill="#0cb7e4"/>
<rect x="403" y="300" width="7" height="7" fill="#0cb7e4"/>
<rect x="409" y="300" width="7" height="7" fill="#0cb7e4"/>
<rect x="415" y="300" width="7" height="7" fill="#0cb7e4"/>
<rect x="421" y="300" width="7" height="7" fill="#0cb8e4"/>
<rect x="427" y="300" width="7" height="7" fill="#0cb8e4"/>
<rect x="433" y="300" width="7" height="7" fill="#0cb8e4"/>
<rect x="439" y="300" width="7" height="7" fill="#0cb8e4"/>
<rect x="445" y="300" width="7" height="7" fill="#0cb8e4"/>
<rect x="451" y="300" width="7" height="7" fill="#0cb8e4"/>
<rect x="457" y="300" width="7" height="7" fill="#0cb8e4"/>
<rect x="463" y="300" width="7" height="7" fill="#0cb9e4"/>
<rect x="469" y="300" width="7" height="7" fill="#0cb9e4"/>
<rect x="475" y="300" width="7" height="7" fill="#0cb9e4"/>
<rect x="277" y="306" width="7" height="7" fill="#0c45ab"/>
<rect x="283" y="306" width="7" height="7" fill="#0c45ab"/>
<rect x="289" y="306" width="7" height="7" fill="#0c45ab"/>
<rect x="295" y="306" width="7" height="7" fill="#0c45ab"/>
<rect x="301" y="306" width="7" height="7" fill="#0c45ab"/>
<rect x="307" y="306" width="7" height="7" fill="#0c45ab"/>
<rect x="313" y="306" width="7" height="7" fill="#0c44aa"/>
<rect x="319" y="306" width="7" height="7" fill="#0c47ad"/>
<rect x="325" y="306" width="7" height="7" fill="#0d50b4"/>
<rect x="331" y="306" width="7" height="7" fill="#0e5bbc"/>
<rect x="337" y="306" width="7" height="7" fill="#0f67c5"/>
<rect x="343" y="306" width="7" height="7" fill="#1070cc"/>
<rect x="349" y="306" width="7" height="7" fill="#0f79cf"/>
<rect x="355" y="306" width="7" height="7" fill="#0f7acf"/>
<rect x="361" y="306" width="7" height="7" fill="#0f7acf"/>
<rect x="367" y="306" width="7" height="7" fill="#0f7acf"/>
<rect x="373" y="306" width="7" height="7" fill="#0f79cf"/>
<rect x="379" y="306" width="7" height="7" fill="#0f79cf"/>
<rect x="385" y="306" width="7" height="7" fill="#0f79cf"/>
<rect x="391" y="306" width="7" height="7" fill="#0f79cf"/>
<rect x="397" y="306" width="7" height="7" fill="#0f79cf"/>
<rect x="403" y="306" width="7" height="7" fill="#0f79cf"/>
<rect x="409" y="306" width="7" height="7" fill="#0f79cf"/>
<rect x="415" y="306" width="7" height="7" fill="#0f79cf"/>
<rect x="421" y="306" width="7" height="7" fill="#0f79cf"/>
<rect x="427" y="306" width="7" height="7" fill="#0f7acf"/>
<rect x="433" y="306" width="7" height="7" fill="#0f7acf"/>
<rect x="439" y="306" width="7" height="7" fill="#0f7acf"/>
<rect x="445" y="306" width="7" height="7" fill="#0f7acf"/>
<rect x="451" y="306" width="7" height="7" fill="#0f7bd0"/>
<rect x="457" y="306" width="7" height="7" fill="#0f7bd0"/>
<rect x="463" y="306" width="7" height="7" fill="#0f7bd0"/>
<rect x="469" y="306" width="7" height="7" fill="#0f7bd0"/>
<rect x="475" y="306" width="7" height="7" fill="#0f7bd0"/>
<rect x="277" y="312" width="7" height="7" fill="#0c44aa"/>
<rect x="283" y="312" width="7" height="7" fill="#0c44aa"/>
<rect x="289" y="312" width="7" height="7" fill="#0c43a9"/>
<rect x="295" y="312" width="7" height="7" fill="#0c43a9"/>
<rect x="301" y="312" width="7" height="7" fill="#0c43a9"/>
<rect x="307" y="312" width="7" height="7" fill="#0c43a9"/>
<rect x="313" y="312" width="7" height="7" fill="#0c43a9"/>
<rect x="319" y="312" width="7" height="7" fill="#0c44aa"/>
<rect x="325" y="312" width="7" height="7" fill="#0c45ab"/>
<rect x="331" y="312" width="7" height="7" fill="#0c48ad"/>
<rect x="337" y="312" width="7" height="7" fill="#0d4cb0"/>
<rect x="343" y="312" width="7" height="7" fill="#0d4fb3"/>
<rect x="349" y="312" width="7" height="7" fill="#0d50b4"/>
<rect x="355" y="312" width="7" height="7" fill="#0d50b4"/>
<rect x="361" y="312" width="7" height="7" fill="#0d50b4"/>
<rect x="367" y="312" width="7" height="7" fill="#0d50b4"/>
<rect x="373" y="312" width="7" height="7" fill="#0d50b3"/>
<rect x="379" y="312" width="7" height="7" fill="#0d50b3"/>
<rect x="385" y="312" width="7" height="7" fill="#0d4fb3"/>
<rect x="391" y="312" width="7" height="7" fill="#0d4fb3"/>
<rect x="397" y="312" width="7" height="7" fill="#0d4fb3"/>
<rect x="403" y="312" width="7" height="7" fill="#0d4fb3"/>
<rect x="409" y="312" width="7" height="7" fill="#0d4fb3"/>
<rect x="415" y="312" width="7" height="7" fill="#0d50b3"/>
<rect x="421" y="312" width="7" height="7" fill="#0d50b3"/>
<rect x="427" y="312" width="7" height="7" fill="#0d50b4"/>
<rect x="433" y="312" width="7" height="7" fill="#0d50b4"/>
<rect x="439" y="312" width="7" height="7" fill="#0d50b4"/>
<rect x="445" y="312" width="7" height="7" fill="#0d51b4"/>
<rect x="451" y="312" width="7" height="7" fill="#0d51b4"/>
<rect x="457" y="312" width="7" height="7" fill="#0d51b5"/>
<rect x="463" y="312" width="7" height="7" fill="#0d52b5"/>
<rect x="469" y="312" width="7" height="7" fill="#0d52b5"/>
<rect x="475" y="312" width="7" height="7" fill="#0d52b5"/>
<rect x="277" y="318" width="7" height="7" fill="#0c42a8"/>
<rect x="283" y="318" width="7" height="7" fill="#0c42a8"/>
<rect x="289" y="318" width="7" height="7" fill="#0c42a8"/>
<rect x="295" y="318" width="7" height="7" fill="#0c42a8"/>
<rect x="301" y="318" width="7" height="7" fill="#0c41a7"/>
<rect x="307" y="318" width="7" height="7" fill="#0c41a7"/>
<rect x="313" y="318" width="7" height="7" fill="#0c41a7"/>
<rect x="319" y="318" width="7" height="7" fill="#0c41a7"/>
<rect x="325" y="318" width="7" height="7" fill="#0c40a6"/>
<rect x="331" y="318" width="7" height="7" fill="#0c40a6"/>
<rect x="337" y="318" width="7" height="7" fill="#0b40a6"/>
<rect x="343" y="318" width="7" height="7" fill="#0b40a6"/>
<rect x="349" y="318" width="7" height="7" fill="#0b3fa5"/>
<rect x="355" y="318" width="7" height="7" fill="#0b3fa5"/>
<rect x="361" y="318" width="7" height="7" fill="#0b3fa5"/>
<rect x="367" y="318" width="7" height="7" fill="#0b3fa5"/>
<rect x="373" y="318" width="7" height="7" fill="#0b3fa5"/>
<rect x="379" y="318" width="7" height="7" fill="#0b3ea4"/>
<rect x="385" y="318" width="7" height="7" fill="#0b3ea4"/>
<rect x="391" y="318" width="7" height="7" fill="#0b3ea4"/>
<rect x="397" y="318" width="7" height="7" fill="#0b3ea4"/>
<rect x="403" y="318" width="7" height="7" fill="#0b3ea4"/>
<rect x="409" y="318" width="7" height="7" fill="#0b3ea4"/>
<rect x="415" y="318" width="7" height="7" fill="#0b3ea4"/>
<rect x="421" y="318" width="7" height="7" fill="#0b3fa5"/>
<rect x="427" y="318" width="7" height="7" fill="#0b3fa5"/>
<rect x="433" y="318" width="7" height="7" fill="#0b3fa5"/>
<rect x="439" y="318" width="7" height="7" fill="#0b3fa5"/>
<rect x="445" y="318" width="7" height="7" fill="#0b3fa5"/>
<rect x="451" y="318" width="7" height="7" fill="#0b40a6"/>
<rect x="457" y="318" width="7" height="7" fill="#0b40a6"/>
<rect x="463" y="318" width="7" height="7" fill="#0c40a6"/>
<rect x="469" y="318" width="7" height="7" fill="#0c40a6"/>
<rect x="475" y="318" width="7" height="7" fill="#0c40a6"/>
<rect x="277" y="324" width="7" height="7" fill="#0c40a6"/>
<rect x="283" y="324" width="7" height="7" fill="#0c40a6"/>
<rect x="289" y="324" width="7" height="7" fill="#0b40a6"/>
<rect x="295" y="324" width="7" height="7" fill="#0b40a6"/>
<rect x="301" y="324" width="7" height="7" fill="#0b3fa5"/>
<rect x="307" y="324" width="7" height="7" fill="#0b3fa5"/>
<rect x="313" y="324" width="7" height="7" fill="#0b3fa5"/>
<rect x="319" y="324" width="7" height="7" fill="#0b3ea4"/>
<rect x="325" y="324" width="7" height="7" fill="#0b3ea4"/>
<rect x="331" y="324" width="7" height="7" fill="#0b3da3"/>
<rect x="337" y="324" width="7" height="7" fill="#0b3da3"/>
<rect x="343" y="324" width="7" height="7" fill="#0b3da3"/>
<rect x="349" y="324" width="7" height="7" fill="#0b3ca2"/>
<rect x="355" y="324" width="7" height="7" fill="#0b3ca2"/>
<rect x="361" y="324" width="7" height="7" fill="#0b3ca2"/>
<rect x="367" y="324" width="7" height="7" fill="#0b3ba1"/>
<rect x="373" y="324" width="7" height="7" fill="#0b3ba1"/>
<rect x="379" y="324" width="7" height="7" fill="#0b3ba1"/>
<rect x="385" y="324" width="7" height="7" fill="#0b3ba1"/>
<rect x="391" y="324" width="7" height="7" fill="#0b3ba1"/>
<rect x="397" y="324" width="7" height="7" fill="#0b3ba1"/>
<rect x="403" y="324" width="7" height="7" fill="#0b3ba1"/>
<rect x="409" y="324" width="7" height="7" fill="#0b3ba1"/>
<rect x="415" y="324" width="7" height="7" fill="#0b3ba1"/>
<rect x="421" y="324" width="7" height="7" fill="#0b3ba1"/>
<rect x="427" y="324" width="7" height="7" fill="#0b3ba1"/>
<rect x="433" y="324" width="7" height="7" fill="#0b3ca2"/>
<rect x="439" y="324" width="7" height="7" fill="#0b3ca2"/>
<rect x="445" y="324" width="7" height="7" fill="#0b3ca2"/>
<rect x="451" y="324" width="7" height="7" fill="#0b3da3"/>
<rect x="457" y="324" width="7" height="7" fill="#0b3da3"/>
<rect x="463" y="324" width="7" height="7" fill="#0b3da3"/>
<rect x="469" y="324" width="7" height="7" fill="#0b3ea4"/>
<rect x="475" y="324" width="7" height="7" fill="#0b3ea4"/>
<rect x="277" y="330" width="7" height="7" fill="#0b3ea4"/>
<rect x="283" y="330" width="7" height="7" fill="#0b3ea4"/>
<rect x="289" y="330" width="7" height="7" fill="#0b3ea4"/>
<rect x="295" y="330" width="7" height="7" fill="#0b3ea4"/>
<rect x="301" y="330" width="7" height="7" fill="#0b3da3"/>
<rect x="307" y="330" width="7" height="7" fill="#0b3da3"/>
<rect x="313" y="330" width="7" height="7" fill="#0b3ca2"/>
<rect x="319" y="330" width="7" height="7" fill="#0b3ca2"/>
<rect x="325" y="330" width="7" height="7" fill="#0b3ba1"/>
<rect x="331" y="330" width="7" height="7" fill="#0b3ba1"/>
<rect x="337" y="330" width="7" height="7" fill="#0b3aa0"/>
<rect x="343" y="330" width="7" height="7" fill="#0b3aa0"/>
<rect x="349" y="330" width="7" height="7" fill="#0b399f"/>
<rect x="355" y="330" width="7" height="7" fill="#0b399f"/>
<rect x="361" y="330" width="7" height="7" fill="#0b389e"/>
<rect x="367" y="330" width="7" height="7" fill="#0b389e"/>
<rect x="373" y="330" width="7" height="7" fill="#0b389e"/>
<rect x="379" y="330" width="7" height="7" fill="#0b379d"/>
<rect x="385" y="330" width="7" height="7" fill="#0b379d"/>
<rect x="391" y="330" width="7" height="7" fill="#0b379d"/>
<rect x="397" y="330" width="7" height="7" fill="#0b379d"/>
<rect x="403" y="330" width="7" height="7" fill="#0b379d"/>
<rect x="409" y="330" width="7" height="7" fill="#0b379d"/>
<rect x="415" y="330" width="7" height="7" fill="#0b379d"/>
<rect x="421" y="330" width="7" height="7" fill="#0b389e"/>
<rect x="427" y="330" width="7" height="7" fill="#0b389e"/>
<rect x="433" y="330" width="7" height="7" fill="#0b389e"/>
<rect x="439" y="330" width="7" height="7" fill="#0b399f"/>
<rect x="445" y="330" width="7" height="7" fill="#0b399f"/>
<rect x="451" y="330" width="7" height="7" fill="#0b3aa0"/>
<rect x="457" y="330" width="7" height="7" fill="#0b3aa0"/>
<rect x="463" y="330" width="7" height="7" fill="#0b3ba1"/>
<rect x="469" y="330" width="7" height="7" fill="#0b3ba1"/>
<rect x="475" y="330" width="7" height="7" fill="#0b3ba1"/>
<rect x="277" y="336" width="7" height="7" fill="#0b3da3"/>
<rect x="283" y="336" width="7" height="7" fill="#0b3da3"/>
<rect x="289" y="336" width="7" height="7" fill="#0b3da3"/>
<rect x="295" y="336" width="7" height="7" fill="#0b3ca2"/>
<rect x="301" y="336" width="7" height="7" fill="#0b3ca2"/>
<rect x="307" y="336" width="7" height="7" fill="#0b3ba1"/>
<rect x="313" y="336" width="7" height="7" fill="#0b3aa0"/>
<rect x="319" y="336" width="7" height="7" fill="#0b3aa0"/>
<rect x="325" y="336" width="7" height="7" fill="#0b399f"/>
<rect x="331" y="336" width="7" height="7" fill="#0b389e"/>
<rect x="337" y="336" width="7" height="7" fill="#0b389e"/>
<rect x="343" y="336" width="7" height="7" fill="#0b379d"/>
<rect x="349" y="336" width="7" height="7" fill="#0b369c"/>
<rect x="355" y="336" width="7" height="7" fill="#0b369c"/>
<rect x="361" y="336" width="7" height="7" fill="#0b359b"/>
<rect x="367" y="336" width="7" height="7" fill="#0b359b"/>
<rect x="373" y="336" width="7" height="7" fill="#0b349a"/>
<rect x="379" y="336" width="7" height="7" fill="#0a349a"/>
<rect x="385" y="336" width="7" height="7" fill="#0a349a"/>
<rect x="391" y="336" width="7" height="7" fill="#0a349a"/>
<rect x="397" y="336" width="7" height="7" fill="#0a349a"/>
<rect x="403" y="336" width="7" height="7" fill="#0a349a"/>
<rect x="409" y="336" width="7" height="7" fill="#0a349a"/>
<rect x="415" y="336" width="7" height="7" fill="#0a349a"/>
<rect x="421" y="336" width="7" height="7" fill="#0b349a"/>
<rect x="427" y="336" width="7" height="7" fill="#0b359b"/>
<rect x="433" y="336" width="7" height="7" fill="#0b359b"/>
<rect x="439" y="336" width="7" height="7" fill="#0b369c"/>
<rect x="445" y="336" width="7" height="7" fill="#0b369c"/>
<rect x="451" y="336" width="7" height="7" fill="#0b379d"/>
<rect x="457" y="336" width="7" height="7" fill="#0b389e"/>
<rect x="463" y="336" width="7" height="7" fill="#0b399f"/>
<rect x="469" y="336" width="7" height="7" fill="#0b399f"/>
<rect x="475" y="336" width="7" height="7" fill="#0b399f"/>
<rect x="277" y="342" width="7" height="7" fill="#0b3ca2"/>
<rect x="283" y="342" width="7" height="7" fill="#0b3ca2"/>
<rect x="289" y="342" width="7" height="7" fill="#0b3ca2"/>
<rect x="295" y="342" width="7" height="7" fill="#0b3ba1"/>
<rect x="301" y="342" width="7" height="7" fill="#0b3ba1"/>
<rect x="307" y="342" width="7" height="7" fill="#0b3aa0"/>
<rect x="313" y="342" width="7" height="7" fill="#0b399f"/>
<rect x="319" y="342" width="7" height="7" fill="#0b389e"/>
<rect x="325" y="342" width="7" height="7" fill="#0b389e"/>
<rect x="331" y="342" width="7" height="7" fill="#0b379d"/>
<rect x="337" y="342" width="7" height="7" fill="#0b369c"/>
<rect x="343" y="342" width="7" height="7" fill="#0b359b"/>
<rect x="349" y="342" width="7" height="7" fill="#0b349a"/>
<rect x="355" y="342" width="7" height="7" fill="#0a349a"/>
<rect x="361" y="342" width="7" height="7" fill="#0a3399"/>
<rect x="367" y="342" width="7" height="7" fill="#0a3298"/>
<rect x="373" y="342" width="7" height="7" fill="#0a3298"/>
<rect x="379" y="342" width="7" height="7" fill="#0a3197"/>
<rect x="385" y="342" width="7" height="7" fill="#0a3197"/>
<rect x="391" y="342" width="7" height="7" fill="#0a3197"/>
<rect x="397" y="342" width="7" height="7" fill="#0a3197"/>
<rect x="403" y="342" width="7" height="7" fill="#0a3197"/>
<rect x="409" y="342" width="7" height="7" fill="#0a3197"/>
<rect x="415" y="342" width="7" height="7" fill="#0a3197"/>
<rect x="421" y="342" width="7" height="7" fill="#0a3298"/>
<rect x="427" y="342" width="7" height="7" fill="#0a3298"/>
<rect x="433" y="342" width="7" height="7" fill="#0a3399"/>
<rect x="439" y="342" width="7" height="7" fill="#0a349a"/>
<rect x="445" y="342" width="7" height="7" fill="#0b349a"/>
<rect x="451" y="342" width="7" height="7" fill="#0b359b"/>
<rect x="457" y="342" width="7" height="7" fill="#0b369c"/>
<rect x="463" y="342" width="7" height="7" fill="#0b379d"/>
<rect x="469" y="342" width="7" height="7" fill="#0b379d"/>
<rect x="475" y="342" width="7" height="7" fill="#0b379d"/>
<rect x="277" y="348" width="7" height="7" fill="#0b3ca2"/>
<rect x="283" y="348" width="7" height="7" fill="#0b3ca2"/>
<rect x="289" y="348" width="7" height="7" fill="#0b3ba1"/>
<rect x="295" y="348" width="7" height="7" fill="#0b3ba1"/>
<rect x="301" y="348" width="7" height="7" fill="#0b3aa0"/>
<rect x="307" y="348" width="7" height="7" fill="#0b399f"/>
<rect x="313" y="348" width="7" height="7" fill="#0b389e"/>
<rect x="319" y="348" width="7" height="7" fill="#0b389e"/>
<rect x="325" y="348" width="7" height="7" fill="#0b379d"/>
<rect x="331" y="348" width="7" height="7" fill="#0b369c"/>
<rect x="337" y="348" width="7" height="7" fill="#0b359b"/>
<rect x="343" y="348" width="7" height="7" fill="#0a349a"/>
<rect x="349" y="348" width="7" height="7" fill="#0a3399"/>
<rect x="355" y="348" width="7" height="7" fill="#0a3298"/>
<rect x="361" y="348" width="7" height="7" fill="#0a3197"/>
<rect x="367" y="348" width="7" height="7" fill="#0a3197"/>
<rect x="373" y="348" width="7" height="7" fill="#0a3096"/>
<rect x="379" y="348" width="7" height="7" fill="#0a3096"/>
<rect x="385" y="348" width="7" height="7" fill="#0a2f95"/>
<rect x="391" y="348" width="7" height="7" fill="#0a2f95"/>
<rect x="397" y="348" width="7" height="7" fill="#0a2f95"/>
<rect x="403" y="348" width="7" height="7" fill="#0a2f95"/>
<rect x="409" y="348" width="7" height="7" fill="#0a2f95"/>
<rect x="415" y="348" width="7" height="7" fill="#0a3096"/>
<rect x="421" y="348" width="7" height="7" fill="#0a3096"/>
<rect x="427" y="348" width="7" height="7" fill="#0a3197"/>
<rect x="433" y="348" width="7" height="7" fill="#0a3298"/>
<rect x="439" y="348" width="7" height="7" fill="#0a3298"/>
<rect x="445" y="348" width="7" height="7" fill="#0a3399"/>
<rect x="451" y="348" width="7" height="7" fill="#0b349a"/>
<rect x="457" y="348" width="7" height="7" fill="#0b359b"/>
<rect x="463" y="348" width="7" height="7" fill="#0b369c"/>
<rect x="469" y="348" width="7" height="7" fill="#0b369c"/>
<rect x="475" y="348" width="7" height="7" fill="#0b369c"/>
<rect x="277" y="354" width="7" height="7" fill="#0b3ba1"/>
<rect x="283" y="354" width="7" height="7" fill="#0b3ba1"/>
<rect x="289" y="354" width="7" height="7" fill="#0b3ba1"/>
<rect x="295" y="354" width="7" height="7" fill="#0b3aa0"/>
<rect x="301" y="354" width="7" height="7" fill="#0b3aa0"/>
<rect x="307" y="354" width="7" height="7" fill="#0b399f"/>
<rect x="313" y="354" width="7" height="7" fill="#0b389e"/>
<rect x="319" y="354" width="7" height="7" fill="#0b379d"/>
<rect x="325" y="354" width="7" height="7" fill="#0b369c"/>
<rect x="331" y="354" width="7" height="7" fill="#0b359b"/>
<rect x="337" y="354" width="7" height="7" fill="#0b349a"/>
<rect x="343" y="354" width="7" height="7" fill="#0a3399"/>
<rect x="349" y="354" width="7" height="7" fill="#0a3298"/>
<rect x="355" y="354" width="7" height="7" fill="#0a3197"/>
<rect x="361" y="354" width="7" height="7" fill="#0a3197"/>
<rect x="367" y="354" width="7" height="7" fill="#0a3096"/>
<rect x="373" y="354" width="7" height="7" fill="#0a2f95"/>
<rect x="379" y="354" width="7" height="7" fill="#0a2f95"/>
<rect x="385" y="354" width="7" height="7" fill="#0a2e94"/>
<rect x="391" y="354" width="7" height="7" fill="#0a2e94"/>
<rect x="397" y="354" width="7" height="7" fill="#0a2e94"/>
<rect x="403" y="354" width="7" height="7" fill="#0a2e94"/>
<rect x="409" y="354" width="7" height="7" fill="#0a2e94"/>
<rect x="415" y="354" width="7" height="7" fill="#0a2f95"/>
<rect x="421" y="354" width="7" height="7" fill="#0a2f95"/>
<rect x="427" y="354" width="7" height="7" fill="#0a3096"/>
<rect x="433" y="354" width="7" height="7" fill="#0a3197"/>
<rect x="439" y="354" width="7" height="7" fill="#0a3298"/>
<rect x="445" y="354" width="7" height="7" fill="#0a3399"/>
<rect x="451" y="354" width="7" height="7" fill="#0a349a"/>
<rect x="457" y="354" width="7" height="7" fill="#0b359b"/>
<rect x="463" y="354" width="7" height="7" fill="#0b369c"/>
<rect x="469" y="354" width="7" height="7" fill="#0b369c"/>
<rect x="475" y="354" width="7" height="7" fill="#0b369c"/>
<rect x="277" y="360" width="7" height="7" fill="#0b3ba1"/>
<rect x="283" y="360" width="7" height="7" fill="#0b3ba1"/>
<rect x="289" y="360" width="7" height="7" fill="#0b3ba1"/>
<rect x="295" y="360" width="7" height="7" fill="#0b3aa0"/>
<rect x="301" y="360" width="7" height="7" fill="#0b3aa0"/>
<rect x="307" y="360" width="7" height="7" fill="#0b399f"/>
<rect x="313" y="360" width="7" height="7" fill="#0b389e"/>
<rect x="319" y="360" width="7" height="7" fill="#0b379d"/>
<rect x="325" y="360" width="7" height="7" fill="#0b369c"/>
<rect x="331" y="360" width="7" height="7" fill="#0b359b"/>
<rect x="337" y="360" width="7" height="7" fill="#0b349a"/>
<rect x="343" y="360" width="7" height="7" fill="#0a3399"/>
<rect x="349" y="360" width="7" height="7" fill="#0a3298"/>
<rect x="355" y="360" width="7" height="7" fill="#0a3298"/>
<rect x="361" y="360" width="7" height="7" fill="#0a3197"/>
<rect x="367" y="360" width="7" height="7" fill="#0a3096"/>
<rect x="373" y="360" width="7" height="7" fill="#0a2f95"/>
<rect x="379" y="360" width="7" height="7" fill="#0a2f95"/>
<rect x="385" y="360" width="7" height="7" fill="#0a2e94"/>
<rect x="391" y="360" width="7" height="7" fill="#0a2e94"/>
<rect x="397" y="360" width="7" height="7" fill="#0a2e94"/>
<rect x="403" y="360" width="7" height="7" fill="#0a2e94"/>
<rect x="409" y="360" width="7" height="7" fill="#0a2e94"/>
<rect x="415" y="360" width="7" height="7" fill="#0a2f95"/>
<rect x="421" y="360" width="7" height="7" fill="#0a2f95"/>
<rect x="427" y="360" width="7" height="7" fill="#0a3096"/>
<rect x="433" y="360" width="7" height="7" fill="#0a3197"/>
<rect x="439" y="360" width="7" height="7" fill="#0a3298"/>
<rect x="445" y="360" width="7" height="7" fill="#0a3399"/>
<rect x="451" y="360" width="7" height="7" fill="#0b349a"/>
<rect x="457" y="360" width="7" height="7" fill="#0b359b"/>
<rect x="463" y="360" width="7" height="7" fill="#0b369c"/>
<rect x="469" y="360" width="7" height="7" fill="#0b379d"/>
<rect x="475" y="360" width="7" height="7" fill="#0b379d"/>
<rect x="277" y="366" width="7" height="7" fill="#0b3ca2"/>
<rect x="283" y="366" width="7" height="7" fill="#0b3ca2"/>
<rect x="289" y="366" width="7" height="7" fill="#0b3ba1"/>
<rect x="295" y="366" width="7" height="7" fill="#0b3ba1"/>
<rect x="301" y="366" width="7" height="7" fill="#0b3aa0"/>
<rect x="307" y="366" width="7" height="7" fill="#0b399f"/>
<rect x="313" y="366" width="7" height="7" fill="#0b399f"/>
<rect x="319" y="366" width="7" height="7" fill="#0b389e"/>
<rect x="325" y="366" width="7" height="7" fill="#0b379d"/>
<rect x="331" y="366" width="7" height="7" fill="#0b369c"/>
<rect x="337" y="366" width="7" height="7" fill="#0b359b"/>
<rect x="343" y="366" width="7" height="7" fill="#0b349a"/>
<rect x="349" y="366" width="7" height="7" fill="#0a3399"/>
<rect x="355" y="366" width="7" height="7" fill="#0a3298"/>
<rect x="361" y="366" width="7" height="7" fill="#0a3298"/>
<rect x="367" y="366" width="7" height="7" fill="#0a3197"/>
<rect x="373" y="366" width="7" height="7" fill="#0a3096"/>
<rect x="379" y="366" width="7" height="7" fill="#0a3096"/>
<rect x="385" y="366" width="7" height="7" fill="#0a2f95"/>
<rect x="391" y="366" width="7" height="7" fill="#0a2f95"/>
<rect x="397" y="366" width="7" height="7" fill="#0a2f95"/>
<rect x="403" y="366" width="7" height="7" fill="#0a2f95"/>
<rect x="409" y="366" width="7" height="7" fill="#0a3096"/>
<rect x="415" y="366" width="7" height="7" fill="#0a3096"/>
<rect x="421" y="366" width="7" height="7" fill="#0a3096"/>
<rect x="427" y="366" width="7" height="7" fill="#0a3197"/>
<rect x="433" y="366" width="7" height="7" fill="#0a3298"/>
<rect x="439" y="366" width="7" height="7" fill="#0a3399"/>
<rect x="445" y="366" width="7" height="7" fill="#0b359b"/>
<rect x="451" y="366" width="7" height="7" fill="#0b369c"/>
<rect x="457" y="366" width="7" height="7" fill="#0b379d"/>
<rect x="463" y="366" width="7" height="7" fill="#0b389e"/>
<rect x="469" y="366" width="7" height="7" fill="#0b389e"/>
<rect x="475" y="366" width="7" height="7" fill="#0b389e"/>
<rect x="277" y="372" width="7" height="7" fill="#0b3ca2"/>
<rect x="283" y="372" width="7" height="7" fill="#0b3ca2"/>
<rect x="289" y="372" width="7" height="7" fill="#0b3ca2"/>
<rect x="295" y="372" width="7" height="7" fill="#0b3ba1"/>
<rect x="301" y="372" width="7" height="7" fill="#0b3ba1"/>
<rect x="307" y="372" width="7" height="7" fill="#0b3aa0"/>
<rect x="313" y="372" width="7" height="7" fill="#0b399f"/>
<rect x="319" y="372" width="7" height="7" fill="#0b399f"/>
<rect x="325" y="372" width="7" height="7" fill="#0b389e"/>
<rect x="331" y="372" width="7" height="7" fill="#0b379d"/>
<rect x="337" y="372" width="7" height="7" fill="#0b369c"/>
<rect x="343" y="372" width="7" height="7" fill="#0b359b"/>
<rect x="349" y="372" width="7" height="7" fill="#0b359b"/>
<rect x="355" y="372" width="7" height="7" fill="#0a349a"/>
<rect x="361" y="372" width="7" height="7" fill="#0a3399"/>
<rect x="367" y="372" width="7" height="7" fill="#0a3399"/>
<rect x="373" y="372" width="7" height="7" fill="#0a3298"/>
<rect x="379" y="372" width="7" height="7" fill="#0a3298"/>
<rect x="385" y="372" width="7" height="7" fill="#0a3197"/>
<rect x="391" y="372" width="7" height="7" fill="#0a3197"/>
<rect x="397" y="372" width="7" height="7" fill="#0a3197"/>
<rect x="403" y="372" width="7" height="7" fill="#0a3197"/>
<rect x="409" y="372" width="7" height="7" fill="#0a3197"/>
<rect x="415" y="372" width="7" height="7" fill="#0a3298"/>
<rect x="421" y="372" width="7" height="7" fill="#0a3298"/>
<rect x="427" y="372" width="7" height="7" fill="#0a3399"/>
<rect x="433" y="372" width="7" height="7" fill="#0b349a"/>
<rect x="439" y="372" width="7" height="7" fill="#0b369c"/>
<rect x="445" y="372" width="7" height="7" fill="#0b379d"/>
<rect x="451" y="372" width="7" height="7" fill="#0b399f"/>
<rect x="457" y="372" width="7" height="7" fill="#0b3aa0"/>
<rect x="463" y="372" width="7" height="7" fill="#0b3ba1"/>
<rect x="469" y="372" width="7" height="7" fill="#0b3ba1"/>
<rect x="475" y="372" width="7" height="7" fill="#0b3ba1"/>
<rect x="277" y="378" width="7" height="7" fill="#0b3da3"/>
<rect x="283" y="378" width="7" height="7" fill="#0b3da3"/>
<rect x="289" y="378" width="7" height="7" fill="#0b3da3"/>
<rect x="295" y="378" width="7" height="7" fill="#0b3ca2"/>
<rect x="301" y="378" width="7" height="7" fill="#0b3ca2"/>
<rect x="307" y="378" width="7" height="7" fill="#0b3ca2"/>
<rect x="313" y="378" width="7" height="7" fill="#0b3ba1"/>
<rect x="319" y="378" width="7" height="7" fill="#0b3aa0"/>
<rect x="325" y="378" width="7" height="7" fill="#0b3aa0"/>
<rect x="331" y="378" width="7" height="7" fill="#0b399f"/>
<rect x="337" y="378" width="7" height="7" fill="#0b389e"/>
<rect x="343" y="378" width="7" height="7" fill="#0b379d"/>
<rect x="349" y="378" width="7" height="7" fill="#0b379d"/>
<rect x="355" y="378" width="7" height="7" fill="#0b369c"/>
<rect x="361" y="378" width="7" height="7" fill="#0b359b"/>
<rect x="367" y="378" width="7" height="7" fill="#0b359b"/>
<rect x="373" y="378" width="7" height="7" fill="#0b349a"/>
<rect x="379" y="378" width="7" height="7" fill="#0b349a"/>
<rect x="385" y="378" width="7" height="7" fill="#0a349a"/>
<rect x="391" y="378" width="7" height="7" fill="#0a349a"/>
<rect x="397" y="378" width="7" height="7" fill="#0a349a"/>
<rect x="403" y="378" width="7" height="7" fill="#0a349a"/>
<rect x="409" y="378" width="7" height="7" fill="#0a349a"/>
<rect x="415" y="378" width="7" height="7" fill="#0b349a"/>
<rect x="421" y="378" width="7" height="7" fill="#0b359b"/>
<rect x="427" y="378" width="7" height="7" fill="#0b369c"/>
<rect x="433" y="378" width="7" height="7" fill="#0b379d"/>
<rect x="439" y="378" width="7" height="7" fill="#0b399f"/>
<rect x="445" y="378" width="7" height="7" fill="#0b3ba1"/>
<rect x="451" y="378" width="7" height="7" fill="#0b3da3"/>
<rect x="457" y="378" width="7" height="7" fill="#0b3ea4"/>
<rect x="463" y="378" width="7" height="7" fill="#0b3fa5"/>
<rect x="469" y="378" width="7" height="7" fill="#0b3fa5"/>
<rect x="475" y="378" width="7" height="7" fill="#0b3fa5"/>
<rect x="277" y="384" width="7" height="7" fill="#0b3ea4"/>
<rect x="283" y="384" width="7" height="7" fill="#0b3ea4"/>
<rect x="289" y="384" width="7" height="7" fill="#0b3ea4"/>
<rect x="295" y="384" width="7" height="7" fill="#0b3ea4"/>
<rect x="301" y="384" width="7" height="7" fill="#0b3ea4"/>
<rect x="307" y="384" width="7" height="7" fill="#0b3ea4"/>
<rect x="313" y="384" width="7" height="7" fill="#0b3ea4"/>
<rect x="319" y="384" width="7" height="7" fill="#0b3da3"/>
<rect x="325" y="384" width="7" height="7" fill="#0b3ca2"/>
<rect x="331" y="384" width="7" height="7" fill="#0b3ba1"/>
<rect x="337" y="384" width="7" height="7" fill="#0b3ba1"/>
<rect x="343" y="384" width="7" height="7" fill="#0b3aa0"/>
<rect x="349" y="384" width="7" height="7" fill="#0b399f"/>
<rect x="355" y="384" width="7" height="7" fill="#0b389e"/>
<rect x="361" y="384" width="7" height="7" fill="#0b389e"/>
<rect x="367" y="384" width="7" height="7" fill="#0b389e"/>
<rect x="373" y="384" width="7" height="7" fill="#0b379d"/>
<rect x="379" y="384" width="7" height="7" fill="#0b379d"/>
<rect x="385" y="384" width="7" height="7" fill="#0b379d"/>
<rect x="391" y="384" width="7" height="7" fill="#0b379d"/>
<rect x="397" y="384" width="7" height="7" fill="#0b379d"/>
<rect x="403" y="384" width="7" height="7" fill="#0b379d"/>
<rect x="409" y="384" width="7" height="7" fill="#0b379d"/>
<rect x="415" y="384" width="7" height="7" fill="#0b379d"/>
<rect x="421" y="384" width="7" height="7" fill="#0b389e"/>
<rect x="427" y="384" width="7" height="7" fill="#0b399f"/>
<rect x="433" y="384" width="7" height="7" fill="#0b3aa0"/>
<rect x="439" y="384" width="7" height="7" fill="#0b3da3"/>
<rect x="445" y="384" width="7" height="7" fill="#0b40a6"/>
<rect x="451" y="384" width="7" height="7" fill="#0c42a8"/>
<rect x="457" y="384" width="7" height="7" fill="#0c44aa"/>
<rect x="463" y="384" width="7" height="7" fill="#0c44aa"/>
<rect x="469" y="384" width="7" height="7" fill="#0c44aa"/>
<rect x="475" y="384" width="7" height="7" fill="#0c44aa"/>
<rect x="277" y="390" width="7" height="7" fill="#0b3fa5"/>
<rect x="283" y="390" width="7" height="7" fill="#0b3fa5"/>
<rect x="289" y="390" width="7" height="7" fill="#0b3fa5"/>
<rect x="295" y="390" width="7" height="7" fill="#0c40a6"/>
<rect x="301" y="390" width="7" height="7" fill="#0c41a7"/>
<rect x="307" y="390" width="7" height="7" fill="#0c42a8"/>
<rect x="313" y="390" width="7" height="7" fill="#0c42a8"/>
<rect x="319" y="390" width="7" height="7" fill="#0c41a7"/>
<rect x="325" y="390" width="7" height="7" fill="#0c41a7"/>
<rect x="331" y="390" width="7" height="7" fill="#0b3fa5"/>
<rect x="337" y="390" width="7" height="7" fill="#0b3ea4"/>
<rect x="343" y="390" width="7" height="7" fill="#0b3da3"/>
<rect x="349" y="390" width="7" height="7" fill="#0b3ca2"/>
<rect x="355" y="390" width="7" height="7" fill="#0b3ba1"/>
<rect x="361" y="390" width="7" height="7" fill="#0b3ba1"/>
<rect x="367" y="390" width="7" height="7" fill="#0b3aa0"/>
<rect x="373" y="390" width="7" height="7" fill="#0b3aa0"/>
<rect x="379" y="390" width="7" height="7" fill="#0b3aa0"/>
<rect x="385" y="390" width="7" height="7" fill="#0b3aa0"/>
<rect x="391" y="390" width="7" height="7" fill="#0b3aa0"/>
<rect x="397" y="390" width="7" height="7" fill="#0b3aa0"/>
<rect x="403" y="390" width="7" height="7" fill="#0b3aa0"/>
<rect x="409" y="390" width="7" height="7" fill="#0b3aa0"/>
<rect x="415" y="390" width="7" height="7" fill="#0b3aa0"/>
<rect x="421" y="390" width="7" height="7" fill="#0b3ba1"/>
<rect x="427" y="390" width="7" height="7" fill="#0b3ca2"/>
<rect x="433" y="390" width="7" height="7" fill="#0b3ea4"/>
<rect x="439" y="390" width="7" height="7" fill="#0c41a7"/>
<rect x="445" y="390" width="7" height="7" fill="#0c45ab"/>
<rect x="451" y="390" width="7" height="7" fill="#0c4bb0"/>
<rect x="457" y="390" width="7" height="7" fill="#0d4eb2"/>
<rect x="463" y="390" width="7" height="7" fill="#0d4eb2"/>
<rect x="469" y="390" width="7" height="7" fill="#0d4db1"/>
<rect x="475" y="390" width="7" height="7" fill="#0d4db1"/>
<rect x="277" y="396" width="7" height="7" fill="#0c41a7"/>
<rect x="283" y="396" width="7" height="7" fill="#0c41a7"/>
<rect x="289" y="396" width="7" height="7" fill="#0c42a8"/>
<rect x="295" y="396" width="7" height="7" fill="#0c44aa"/>
<rect x="301" y="396" width="7" height="7" fill="#0c46ac"/>
<rect x="307" y="396" width="7" height="7" fill="#0c49ae"/>
<rect x="313" y="396" width="7" height="7" fill="#0c4aaf"/>
<rect x="319" y="396" width="7" height="7" fill="#0c4aaf"/>
<rect x="325" y="396" width="7" height="7" fill="#0c47ad"/>
<rect x="331" y="396" width="7" height="7" fill="#0c45ab"/>
<rect x="337" y="396" width="7" height="7" fill="#0c42a8"/>
<rect x="343" y="396" width="7" height="7" fill="#0c40a6"/>
<rect x="349" y="396" width="7" height="7" fill="#0b3fa5"/>
<rect x="355" y="396" width="7" height="7" fill="#0b3ea4"/>
<rect x="361" y="396" width="7" height="7" fill="#0b3ea4"/>
<rect x="367" y="396" width="7" height="7" fill="#0b3ea4"/>
<rect x="373" y="396" width="7" height="7" fill="#0b3da3"/>
<rect x="379" y="396" width="7" height="7" fill="#0b3da3"/>
<rect x="385" y="396" width="7" height="7" fill="#0b3da3"/>
<rect x="391" y="396" width="7" height="7" fill="#0b3da3"/>
<rect x="397" y="396" width="7" height="7" fill="#0b3da3"/>
<rect x="403" y="396" width="7" height="7" fill="#0b3da3"/>
<rect x="409" y="396" width="7" height="7" fill="#0b3da3"/>
<rect x="415" y="396" width="7" height="7" fill="#0b3da3"/>
<rect x="421" y="396" width="7" height="7" fill="#0b3ea4"/>
<rect x="427" y="396" width="7" height="7" fill="#0b40a6"/>
<rect x="433" y="396" width="7" height="7" fill="#0c42a8"/>
<rect x="439" y="396" width="7" height="7" fill="#0c47ac"/>
<rect x="445" y="396" width="7" height="7" fill="#0d4fb3"/>
<rect x="451" y="396" width="7" height="7" fill="#0e57b9"/>
<rect x="457" y="396" width="7" height="7" fill="#0e5bbc"/>
<rect x="463" y="396" width="7" height="7" fill="#0e5abc"/>
<rect x="469" y="396" width="7" height="7" fill="#0e58ba"/>
<rect x="475" y="396" width="7" height="7" fill="#0e58ba"/>
<rect x="277" y="402" width="7" height="7" fill="#0c44aa"/>
<rect x="283" y="402" width="7" height="7" fill="#0c44aa"/>
<rect x="289" y="402" width="7" height="7" fill="#0c45ab"/>
<rect x="295" y="402" width="7" height="7" fill="#0c4aaf"/>
<rect x="301" y="402" width="7" height="7" fill="#0d51b4"/>
<rect x="307" y="402" width="7" height="7" fill="#0e57b9"/>
<rect x="313" y="402" width="7" height="7" fill="#0e5abb"/>
<rect x="319" y="402" width="7" height="7" fill="#0e59bb"/>
<rect x="325" y="402" width="7" height="7" fill="#0d55b8"/>
<rect x="331" y="402" width="7" height="7" fill="#0d50b3"/>
<rect x="337" y="402" width="7" height="7" fill="#0c49ae"/>
<rect x="343" y="402" width="7" height="7" fill="#0c45ab"/>
<rect x="349" y="402" width="7" height="7" fill="#0c43a9"/>
<rect x="355" y="402" width="7" height="7" fill="#0c42a8"/>
<rect x="361" y="402" width="7" height="7" fill="#0c41a7"/>
<rect x="367" y="402" width="7" height="7" fill="#0c41a7"/>
<rect x="373" y="402" width="7" height="7" fill="#0c41a7"/>
<rect x="379" y="402" width="7" height="7" fill="#0c41a7"/>
<rect x="385" y="402" width="7" height="7" fill="#0c41a7"/>
<rect x="391" y="402" width="7" height="7" fill="#0c41a7"/>
<rect x="397" y="402" width="7" height="7" fill="#0c41a7"/>
<rect x="403" y="402" width="7" height="7" fill="#0c41a7"/>
<rect x="409" y="402" width="7" height="7" fill="#0c41a7"/>
<rect x="415" y="402" width="7" height="7" fill="#0c41a7"/>
<rect x="421" y="402" width="7" height="7" fill="#0c42a8"/>
<rect x="427" y="402" width="7" height="7" fill="#0c43a9"/>
<rect x="433" y="402" width="7" height="7" fill="#0c47ad"/>
<rect x="439" y="402" width="7" height="7" fill="#0d4fb3"/>
<rect x="445" y="402" width="7" height="7" fill="#0e59bb"/>
<rect x="451" y="402" width="7" height="7" fill="#0f63c2"/>
<rect x="457" y="402" width="7" height="7" fill="#0f68c6"/>
<rect x="463" y="402" width="7" height="7" fill="#0f66c5"/>
<rect x="469" y="402" width="7" height="7" fill="#0f63c2"/>
<rect x="475" y="402" width="7" height="7" fill="#0f63c2"/>
<rect x="277" y="408" width="7" height="7" fill="#0c46ac"/>
<rect x="283" y="408" width="7" height="7" fill="#0c46ac"/>
<rect x="289" y="408" width="7" height="7" fill="#0c4aaf"/>
<rect x="295" y="408" width="7" height="7" fill="#0d53b6"/>
<rect x="301" y="408" width="7" height="7" fill="#0e5dbd"/>
<rect x="307" y="408" width="7" height="7" fill="#0f65c4"/>
<rect x="313" y="408" width="7" height="7" fill="#0f6ac8"/>
<rect x="319" y="408" width="7" height="7" fill="#0f6ac7"/>
<rect x="325" y="408" width="7" height="7" fill="#0f65c3"/>
<rect x="331" y="408" width="7" height="7" fill="#0e5dbd"/>
<rect x="337" y="408" width="7" height="7" fill="#0d54b7"/>
<rect x="343" y="408" width="7" height="7" fill="#0d4db1"/>
<rect x="349" y="408" width="7" height="7" fill="#0c48ae"/>
<rect x="355" y="408" width="7" height="7" fill="#0c46ac"/>
<rect x="361" y="408" width="7" height="7" fill="#0c45ab"/>
<rect x="367" y="408" width="7" height="7" fill="#0c45ab"/>
<rect x="373" y="408" width="7" height="7" fill="#0c45ab"/>
<rect x="379" y="408" width="7" height="7" fill="#0c45ab"/>
<rect x="385" y="408" width="7" height="7" fill="#0c45ab"/>
<rect x="391" y="408" width="7" height="7" fill="#0c45ab"/>
<rect x="397" y="408" width="7" height="7" fill="#0c45ab"/>
<rect x="403" y="408" width="7" height="7" fill="#0c45ab"/>
<rect x="409" y="408" width="7" height="7" fill="#0c45ab"/>
<rect x="415" y="408" width="7" height="7" fill="#0c45ab"/>
<rect x="421" y="408" width="7" height="7" fill="#0c46ac"/>
<rect x="427" y="408" width="7" height="7" fill="#0c49ae"/>
<rect x="433" y="408" width="7" height="7" fill="#0d4fb3"/>
<rect x="439" y="408" width="7" height="7" fill="#0e58b9"/>
<rect x="445" y="408" width="7" height="7" fill="#0f63c2"/>
<rect x="451" y="408" width="7" height="7" fill="#106dca"/>
<rect x="457" y="408" width="7" height="7" fill="#1073cd"/>
<rect x="463" y="408" width="7" height="7" fill="#1070cc"/>
<rect x="469" y="408" width="7" height="7" fill="#106dca"/>
<rect x="475" y="408" width="7" height="7" fill="#106dca"/>
<rect x="277" y="414" width="7" height="7" fill="#0c4bb0"/>
<rect x="283" y="414" width="7" height="7" fill="#0c4bb0"/>
<rect x="289" y="414" width="7" height="7" fill="#0d4fb3"/>
<rect x="295" y="414" width="7" height="7" fill="#0e5abb"/>
<rect x="301" y="414" width="7" height="7" fill="#0f66c4"/>
<rect x="307" y="414" width="7" height="7" fill="#1071cc"/>
<rect x="313" y="414" width="7" height="7" fill="#0f7acf"/>
<rect x="319" y="414" width="7" height="7" fill="#0f7acf"/>
<rect x="325" y="414" width="7" height="7" fill="#1072cd"/>
<rect x="331" y="414" width="7" height="7" fill="#0f68c6"/>
<rect x="337" y="414" width="7" height="7" fill="#0e5ebe"/>
<rect x="343" y="414" width="7" height="7" fill="#0d56b8"/>
<rect x="349" y="414" width="7" height="7" fill="#0d50b4"/>
<rect x="355" y="414" width="7" height="7" fill="#0d4eb2"/>
<rect x="361" y="414" width="7" height="7" fill="#0d4db1"/>
<rect x="367" y="414" width="7" height="7" fill="#0d4db1"/>
<rect x="373" y="414" width="7" height="7" fill="#0d4db1"/>
<rect x="379" y="414" width="7" height="7" fill="#0d4db2"/>
<rect x="385" y="414" width="7" height="7" fill="#0d4eb2"/>
<rect x="391" y="414" width="7" height="7" fill="#0d4eb2"/>
<rect x="397" y="414" width="7" height="7" fill="#0d4eb2"/>
<rect x="403" y="414" width="7" height="7" fill="#0d4db2"/>
<rect x="409" y="414" width="7" height="7" fill="#0d4db1"/>
<rect x="415" y="414" width="7" height="7" fill="#0d4db1"/>
<rect x="421" y="414" width="7" height="7" fill="#0d4eb2"/>
<rect x="427" y="414" width="7" height="7" fill="#0d51b4"/>
<rect x="433" y="414" width="7" height="7" fill="#0e57b9"/>
<rect x="439" y="414" width="7" height="7" fill="#0e60c0"/>
<rect x="445" y="414" width="7" height="7" fill="#106bc8"/>
<rect x="451" y="414" width="7" height="7" fill="#1078cf"/>
<rect x="457" y="414" width="7" height="7" fill="#0f80d1"/>
<rect x="463" y="414" width="7" height="7" fill="#0f7cd0"/>
<rect x="469" y="414" width="7" height="7" fill="#1076ce"/>
<rect x="475" y="414" width="7" height="7" fill="#1076ce"/>
<rect x="277" y="420" width="7" height="7" fill="#0d4eb2"/>
<rect x="283" y="420" width="7" height="7" fill="#0d4eb2"/>
<rect x="289" y="420" width="7" height="7" fill="#0d53b6"/>
<rect x="295" y="420" width="7" height="7" fill="#0e5ebf"/>
<rect x="301" y="420" width="7" height="7" fill="#106bc8"/>
<rect x="307" y="420" width="7" height="7" fill="#0f79cf"/>
<rect x="313" y="420" width="7" height="7" fill="#0f83d2"/>
<rect x="319" y="420" width="7" height="7" fill="#0f84d3"/>
<rect x="325" y="420" width="7" height="7" fill="#0f7cd0"/>
<rect x="331" y="420" width="7" height="7" fill="#1070cc"/>
<rect x="337" y="420" width="7" height="7" fill="#0f66c5"/>
<rect x="343" y="420" width="7" height="7" fill="#0e5fbf"/>
<rect x="349" y="420" width="7" height="7" fill="#0e5abb"/>
<rect x="355" y="420" width="7" height="7" fill="#0e58ba"/>
<rect x="361" y="420" width="7" height="7" fill="#0e58ba"/>
<rect x="367" y="420" width="7" height="7" fill="#0e58ba"/>
<rect x="373" y="420" width="7" height="7" fill="#0e59ba"/>
<rect x="379" y="420" width="7" height="7" fill="#0e5abb"/>
<rect x="385" y="420" width="7" height="7" fill="#0e5abb"/>
<rect x="391" y="420" width="7" height="7" fill="#0e5abb"/>
<rect x="397" y="420" width="7" height="7" fill="#0e5abb"/>
<rect x="403" y="420" width="7" height="7" fill="#0e5abb"/>
<rect x="409" y="420" width="7" height="7" fill="#0e59bb"/>
<rect x="415" y="420" width="7" height="7" fill="#0e59ba"/>
<rect x="421" y="420" width="7" height="7" fill="#0e59bb"/>
<rect x="427" y="420" width="7" height="7" fill="#0e5bbc"/>
<rect x="433" y="420" width="7" height="7" fill="#0f60c0"/>
<rect x="439" y="420" width="7" height="7" fill="#0f69c6"/>
<rect x="445" y="420" width="7" height="7" fill="#1074cd"/>
<rect x="451" y="420" width="7" height="7" fill="#0f82d2"/>
<rect x="457" y="420" width="7" height="7" fill="#0f89d4"/>
<rect x="463" y="420" width="7" height="7" fill="#0f84d3"/>
<rect x="469" y="420" width="7" height="7" fill="#0f7ed1"/>
<rect x="475" y="420" width="7" height="7" fill="#0f7ed1"/>
<rect x="277" y="426" width="7" height="7" fill="#0d53b6"/>
<rect x="283" y="426" width="7" height="7" fill="#0d53b6"/>
<rect x="289" y="426" width="7" height="7" fill="#0e57b9"/>
<rect x="295" y="426" width="7" height="7" fill="#0f61c1"/>
<rect x="301" y="426" width="7" height="7" fill="#106cc9"/>
<rect x="307" y="426" width="7" height="7" fill="#0f7acf"/>
<rect x="313" y="426" width="7" height="7" fill="#0f84d3"/>
<rect x="319" y="426" width="7" height="7" fill="#0f86d3"/>
<rect x="325" y="426" width="7" height="7" fill="#0f82d2"/>
<rect x="331" y="426" width="7" height="7" fill="#1079cf"/>
<rect x="337" y="426" width="7" height="7" fill="#106fcc"/>
<rect x="343" y="426" width="7" height="7" fill="#0f6ac8"/>
<rect x="349" y="426" width="7" height="7" fill="#0f68c6"/>
<rect x="355" y="426" width="7" height="7" fill="#0f67c5"/>
<rect x="361" y="426" width="7" height="7" fill="#0f68c6"/>
<rect x="367" y="426" width="7" height="7" fill="#0f69c7"/>
<rect x="373" y="426" width="7" height="7" fill="#106bc8"/>
<rect x="379" y="426" width="7" height="7" fill="#106cc9"/>
<rect x="385" y="426" width="7" height="7" fill="#106dc9"/>
<rect x="391" y="426" width="7" height="7" fill="#106dca"/>
<rect x="397" y="426" width="7" height="7" fill="#106dc9"/>
<rect x="403" y="426" width="7" height="7" fill="#106cc9"/>
<rect x="409" y="426" width="7" height="7" fill="#106bc8"/>
<rect x="415" y="426" width="7" height="7" fill="#0f6ac7"/>
<rect x="421" y="426" width="7" height="7" fill="#0f69c7"/>
<rect x="427" y="426" width="7" height="7" fill="#0f6ac8"/>
<rect x="433" y="426" width="7" height="7" fill="#106eca"/>
<rect x="439" y="426" width="7" height="7" fill="#1076ce"/>
<rect x="445" y="426" width="7" height="7" fill="#0f82d2"/>
<rect x="451" y="426" width="7" height="7" fill="#0e8dd6"/>
<rect x="457" y="426" width="7" height="7" fill="#0e91d7"/>
<rect x="463" y="426" width="7" height="7" fill="#0e8bd5"/>
<rect x="469" y="426" width="7" height="7" fill="#0f85d3"/>
<rect x="475" y="426" width="7" height="7" fill="#0f85d3"/>
<rect x="277" y="432" width="7" height="7" fill="#0e5bbc"/>
<rect x="283" y="432" width="7" height="7" fill="#0e5bbc"/>
<rect x="289" y="432" width="7" height="7" fill="#0e5ebf"/>
<rect x="295" y="432" width="7" height="7" fill="#0f67c5"/>
<rect x="301" y="432" width="7" height="7" fill="#1070cc"/>
<rect x="307" y="432" width="7" height="7" fill="#0f7dd0"/>
<rect x="313" y="432" width="7" height="7" fill="#0f87d4"/>
<rect x="319" y="432" width="7" height="7" fill="#0e8bd5"/>
<rect x="325" y="432" width="7" height="7" fill="#0f8bd5"/>
<rect x="331" y="432" width="7" height="7" fill="#0f88d4"/>
<rect x="337" y="432" width="7" height="7" fill="#0f84d3"/>
<rect x="343" y="432" width="7" height="7" fill="#0f83d2"/>
<rect x="349" y="432" width="7" height="7" fill="#0f83d2"/>
<rect x="355" y="432" width="7" height="7" fill="#0f86d3"/>
<rect x="361" y="432" width="7" height="7" fill="#0f8ad5"/>
<rect x="367" y="432" width="7" height="7" fill="#0e8ed6"/>
<rect x="373" y="432" width="7" height="7" fill="#0e92d7"/>
<rect x="379" y="432" width="7" height="7" fill="#0e94d8"/>
<rect x="385" y="432" width="7" height="7" fill="#0e96d9"/>
<rect x="391" y="432" width="7" height="7" fill="#0e96d9"/>
<rect x="397" y="432" width="7" height="7" fill="#0e96d9"/>
<rect x="403" y="432" width="7" height="7" fill="#0e94d8"/>
<rect x="409" y="432" width="7" height="7" fill="#0e91d7"/>
<rect x="415" y="432" width="7" height="7" fill="#0e8ed6"/>
<rect x="421" y="432" width="7" height="7" fill="#0f8bd5"/>
<rect x="427" y="432" width="7" height="7" fill="#0f89d4"/>
<rect x="433" y="432" width="7" height="7" fill="#0f8bd5"/>
<rect x="439" y="432" width="7" height="7" fill="#0e90d7"/>
<rect x="445" y="432" width="7" height="7" fill="#0e97d9"/>
<rect x="451" y="432" width="7" height="7" fill="#0d9edb"/>
<rect x="457" y="432" width="7" height="7" fill="#0d9fdc"/>
<rect x="463" y="432" width="7" height="7" fill="#0e98d9"/>
<rect x="469" y="432" width="7" height="7" fill="#0e91d7"/>
<rect x="475" y="432" width="7" height="7" fill="#0e91d7"/>
<rect x="277" y="438" width="7" height="7" fill="#106bc8"/>
<rect x="283" y="438" width="7" height="7" fill="#106bc8"/>
<rect x="289" y="438" width="7" height="7" fill="#106eca"/>
<rect x="295" y="438" width="7" height="7" fill="#1077ce"/>
<rect x="301" y="438" width="7" height="7" fill="#0f82d2"/>
<rect x="307" y="438" width="7" height="7" fill="#0e8dd6"/>
<rect x="313" y="438" width="7" height="7" fill="#0e97d9"/>
<rect x="319" y="438" width="7" height="7" fill="#0d9edb"/>
<rect x="325" y="438" width="7" height="7" fill="#0da2dd"/>
<rect x="331" y="438" width="7" height="7" fill="#0da6de"/>
<rect x="337" y="438" width="7" height="7" fill="#0da9df"/>
<rect x="343" y="438" width="7" height="7" fill="#0daee1"/>
<rect x="349" y="438" width="7" height="7" fill="#0cb5e3"/>
<rect x="355" y="438" width="7" height="7" fill="#0cbce5"/>
<rect x="361" y="438" width="7" height="7" fill="#0bc3e7"/>
<rect x="367" y="438" width="7" height="7" fill="#0bcae8"/>
<rect x="373" y="438" width="7" height="7" fill="#0ad0e9"/>
<rect x="379" y="438" width="7" height="7" fill="#0ad4ea"/>
<rect x="385" y="438" width="7" height="7" fill="#0ad6eb"/>
<rect x="391" y="438" width="7" height="7" fill="#0ad7eb"/>
<rect x="397" y="438" width="7" height="7" fill="#0ad5eb"/>
<rect x="403" y="438" width="7" height="7" fill="#0ad2ea"/>
<rect x="409" y="438" width="7" height="7" fill="#0acde9"/>
<rect x="415" y="438" width="7" height="7" fill="#0bc8e8"/>
<rect x="421" y="438" width="7" height="7" fill="#0bc1e6"/>
<rect x="427" y="438" width="7" height="7" fill="#0cbce5"/>
<rect x="433" y="438" width="7" height="7" fill="#0cb9e4"/>
<rect x="439" y="438" width="7" height="7" fill="#0cb9e4"/>
<rect x="445" y="438" width="7" height="7" fill="#0cbae4"/>
<rect x="451" y="438" width="7" height="7" fill="#0cbbe5"/>
<rect x="457" y="438" width="7" height="7" fill="#0cb8e4"/>
<rect x="463" y="438" width="7" height="7" fill="#0dafe1"/>
<rect x="469" y="438" width="7" height="7" fill="#0da8df"/>
<rect x="475" y="438" width="7" height="7" fill="#0da8df"/>
<rect x="277" y="444" width="7" height="7" fill="#0e91d7"/>
<rect x="283" y="444" width="7" height="7" fill="#0e91d7"/>
<rect x="289" y="444" width="7" height="7" fill="#0e95d8"/>
<rect x="295" y="444" width="7" height="7" fill="#0d9ddb"/>
<rect x="301" y="444" width="7" height="7" fill="#0da7de"/>
<rect x="307" y="444" width="7" height="7" fill="#0cb1e2"/>
<rect x="313" y="444" width="7" height="7" fill="#0cbbe5"/>
<rect x="319" y="444" width="7" height="7" fill="#0bc5e7"/>
<rect x="325" y="444" width="7" height="7" fill="#0acee9"/>
<rect x="331" y="444" width="7" height="7" fill="#0ad7eb"/>
<rect x="337" y="444" width="7" height="7" fill="#09e1ee"/>
<rect x="343" y="444" width="7" height="7" fill="#08ecef"/>
<rect x="349" y="444" width="7" height="7" fill="#09ebe2"/>
<rect x="355" y="444" width="7" height="7" fill="#0bebd5"/>
<rect x="361" y="444" width="7" height="7" fill="#0ceac8"/>
<rect x="367" y="444" width="7" height="7" fill="#0de9bc"/>
<rect x="373" y="444" width="7" height="7" fill="#0ee9b3"/>
<rect x="379" y="444" width="7" height="7" fill="#0fe9ab"/>
<rect x="385" y="444" width="7" height="7" fill="#0fe8a8"/>
<rect x="391" y="444" width="7" height="7" fill="#0fe8a8"/>
<rect x="397" y="444" width="7" height="7" fill="#0fe9ab"/>
<rect x="403" y="444" width="7" height="7" fill="#0ee9b1"/>
<rect x="409" y="444" width="7" height="7" fill="#0de9ba"/>
<rect x="415" y="444" width="7" height="7" fill="#0ceac4"/>
<rect x="421" y="444" width="7" height="7" fill="#0beacf"/>
<rect x="427" y="444" width="7" height="7" fill="#0aebda"/>
<rect x="433" y="444" width="7" height="7" fill="#09ebe4"/>
<rect x="439" y="444" width="7" height="7" fill="#08eceb"/>
<rect x="445" y="444" width="7" height="7" fill="#08ebf0"/>
<rect x="451" y="444" width="7" height="7" fill="#08e6ef"/>
<rect x="457" y="444" width="7" height="7" fill="#09deed"/>
<rect x="463" y="444" width="7" height="7" fill="#0ad3ea"/>
<rect x="469" y="444" width="7" height="7" fill="#0acde9"/>
<rect x="475" y="444" width="7" height="7" fill="#0acde9"/>
<rect x="277" y="450" width="7" height="7" fill="#0bc8e8"/>
<rect x="283" y="450" width="7" height="7" fill="#0bc8e8"/>
<rect x="289" y="450" width="7" height="7" fill="#0acce9"/>
<rect x="295" y="450" width="7" height="7" fill="#0ad3ea"/>
<rect x="301" y="450" width="7" height="7" fill="#09dcec"/>
<rect x="307" y="450" width="7" height="7" fill="#08e6ef"/>
<rect x="313" y="450" width="7" height="7" fill="#08eceb"/>
<rect x="319" y="450" width="7" height="7" fill="#0aebdf"/>
<rect x="325" y="450" width="7" height="7" fill="#0bead2"/>
<rect x="331" y="450" width="7" height="7" fill="#0deac2"/>
<rect x="337" y="450" width="7" height="7" fill="#0ee9b1"/>
<rect x="343" y="450" width="7" height="7" fill="#12e89d"/>
<rect x="349" y="450" width="7" height="7" fill="#1de88d"/>
<rect x="355" y="450" width="7" height="7" fill="#29e87b"/>
<rect x="361" y="450" width="7" height="7" fill="#3fe96e"/>
<rect x="367" y="450" width="7" height="7" fill="#60eb6a"/>
<rect x="373" y="450" width="7" height="7" fill="#7cec67"/>
<rect x="379" y="450" width="7" height="7" fill="#8fee65"/>
<rect x="385" y="450" width="7" height="7" fill="#97ee64"/>
<rect x="391" y="450" width="7" height="7" fill="#95ee64"/>
<rect x="397" y="450" width="7" height="7" fill="#87ed66"/>
<rect x="403" y="450" width="7" height="7" fill="#72ec68"/>
<rect x="409" y="450" width="7" height="7" fill="#57ea6b"/>
<rect x="415" y="450" width="7" height="7" fill="#39e96f"/>
<rect x="421" y="450" width="7" height="7" fill="#29e87b"/>
<rect x="427" y="450" width="7" height="7" fill="#1fe88a"/>
<rect x="433" y="450" width="7" height="7" fill="#16e897"/>
<rect x="439" y="450" width="7" height="7" fill="#10e8a4"/>
<rect x="445" y="450" width="7" height="7" fill="#0ee9b1"/>
<rect x="451" y="450" width="7" height="7" fill="#0de9be"/>
<rect x="457" y="450" width="7" height="7" fill="#0ceacb"/>
<rect x="463" y="450" width="7" height="7" fill="#0aebd9"/>
<rect x="469" y="450" width="7" height="7" fill="#0aebe0"/>
<rect x="475" y="450" width="7" height="7" fill="#0aebe0"/>
<rect x="277" y="456" width="7" height="7" fill="#0aebd9"/>
<rect x="283" y="456" width="7" height="7" fill="#0aebd9"/>
<rect x="289" y="456" width="7" height="7" fill="#0bebd5"/>
<rect x="295" y="456" width="7" height="7" fill="#0beacd"/>
<rect x="301" y="456" width="7" height="7" fill="#0ceac5"/>
<rect x="307" y="456" width="7" height="7" fill="#0de9bb"/>
<rect x="313" y="456" width="7" height="7" fill="#0ee9b0"/>
<rect x="319" y="456" width="7" height="7" fill="#10e8a2"/>
<rect x="325" y="456" width="7" height="7" fill="#18e894"/>
<rect x="331" y="456" width="7" height="7" fill="#23e884"/>
<rect x="337" y="456" width="7" height="7" fill="#31e870"/>
<rect x="343" y="456" width="7" height="7" fill="#62eb6a"/>
<rect x="349" y="456" width="7" height="7" fill="#9dee63"/>
<rect x="355" y="456" width="7" height="7" fill="#d2ed60"/>
<rect x="361" y="456" width="7" height="7" fill="#ffe65f"/>
<rect x="367" y="456" width="7" height="7" fill="#ffbe4f"/>
<rect x="373" y="456" width="7" height="7" fill="#ff9b41"/>
<rect x="379" y="456" width="7" height="7" fill="#fd8338"/>
<rect x="385" y="456" width="7" height="7" fill="#fc7a36"/>
<rect x="391" y="456" width="7" height="7" fill="#fd8439"/>
<rect x="397" y="456" width="7" height="7" fill="#ff9c41"/>
<rect x="403" y="456" width="7" height="7" fill="#ffbb4e"/>
<rect x="409" y="456" width="7" height="7" fill="#ffdf5c"/>
<rect x="415" y="456" width="7" height="7" fill="#e0eb60"/>
<rect x="421" y="456" width="7" height="7" fill="#bbf060"/>
<rect x="427" y="456" width="7" height="7" fill="#88ed66"/>
<rect x="433" y="456" width="7" height="7" fill="#5ceb6b"/>
<rect x="439" y="456" width="7" height="7" fill="#36e86f"/>
<rect x="445" y="456" width="7" height="7" fill="#27e87d"/>
<rect x="451" y="456" width="7" height="7" fill="#1de88c"/>
<rect x="457" y="456" width="7" height="7" fill="#14e899"/>
<rect x="463" y="456" width="7" height="7" fill="#0fe8a9"/>
<rect x="469" y="456" width="7" height="7" fill="#0ee9b1"/>
<rect x="475" y="456" width="7" height="7" fill="#0ee9b1"/>
<rect x="277" y="462" width="7" height="7" fill="#0fe9ad"/>
<rect x="283" y="462" width="7" height="7" fill="#0fe9ad"/>
<rect x="289" y="462" width="7" height="7" fill="#0fe8a9"/>
<rect x="295" y="462" width="7" height="7" fill="#10e8a1"/>
<rect x="301" y="462" width="7" height="7" fill="#14e89b"/>
<rect x="307" y="462" width="7" height="7" fill="#18e894"/>
<rect x="313" y="462" width="7" height="7" fill="#1ee88b"/>
<rect x="319" y="462" width="7" height="7" fill="#26e880"/>
<rect x="325" y="462" width="7" height="7" fill="#30e870"/>
<rect x="331" y="462" width="7" height="7" fill="#59ea6b"/>
<rect x="337" y="462" width="7" height="7" fill="#91ee65"/>
<rect x="343" y="462" width="7" height="7" fill="#cfed60"/>
<rect x="349" y="462" width="7" height="7" fill="#ffdc5b"/>
<rect x="355" y="462" width="7" height="7" fill="#ff9a40"/>
<rect x="361" y="462" width="7" height="7" fill="#f84725"/>
<rect x="367" y="462" width="7" height="7" fill="#ed1b12"/>
<rect x="373" y="462" width="7" height="7" fill="#ec1810"/>
<rect x="379" y="462" width="7" height="7" fill="#ec1810"/>
<rect x="385" y="462" width="7" height="7" fill="#ec1810"/>
<rect x="391" y="462" width="7" height="7" fill="#ec1810"/>
<rect x="397" y="462" width="7" height="7" fill="#ec1810"/>
<rect x="403" y="462" width="7" height="7" fill="#ef2416"/>
<rect x="409" y="462" width="7" height="7" fill="#f95229"/>
<rect x="415" y="462" width="7" height="7" fill="#ff9b40"/>
<rect x="421" y="462" width="7" height="7" fill="#ffd357"/>
<rect x="427" y="462" width="7" height="7" fill="#e2eb60"/>
<rect x="433" y="462" width="7" height="7" fill="#b6f060"/>
<rect x="439" y="462" width="7" height="7" fill="#81ed66"/>
<rect x="445" y="462" width="7" height="7" fill="#56ea6c"/>
<rect x="451" y="462" width="7" height="7" fill="#31e870"/>
<rect x="457" y="462" width="7" height="7" fill="#25e880"/>
<rect x="463" y="462" width="7" height="7" fill="#1be88f"/>
<rect x="469" y="462" width="7" height="7" fill="#17e896"/>
<rect x="475" y="462" width="7" height="7" fill="#17e896"/>
<rect x="277" y="468" width="7" height="7" fill="#0fe8a9"/>
<rect x="283" y="468" width="7" height="7" fill="#0fe8a9"/>
<rect x="289" y="468" width="7" height="7" fill="#10e8a5"/>
<rect x="295" y="468" width="7" height="7" fill="#12e89e"/>
<rect x="301" y="468" width="7" height="7" fill="#16e898"/>
<rect x="307" y="468" width="7" height="7" fill="#1ae891"/>
<rect x="313" y="468" width="7" height="7" fill="#20e888"/>
<rect x="319" y="468" width="7" height="7" fill="#28e87c"/>
<rect x="325" y="468" width="7" height="7" fill="#37e86f"/>
<rect x="331" y="468" width="7" height="7" fill="#61eb6a"/>
<rect x="337" y="468" width="7" height="7" fill="#9bee63"/>
<rect x="343" y="468" width="7" height="7" fill="#d8ec60"/>
<rect x="349" y="468" width="7" height="7" fill="#ffd157"/>
<rect x="355" y="468" width="7" height="7" fill="#fe893a"/>
<rect x="361" y="468" width="7" height="7" fill="#f53a1f"/>
<rect x="367" y="468" width="7" height="7" fill="#ec1810"/>
<rect x="373" y="468" width="7" height="7" fill="#ec1810"/>
<rect x="379" y="468" width="7" height="7" fill="#ec1810"/>
<rect x="385" y="468" width="7" height="7" fill="#ec1810"/>
<rect x="391" y="468" width="7" height="7" fill="#ec1810"/>
<rect x="397" y="468" width="7" height="7" fill="#ec1810"/>
<rect x="403" y="468" width="7" height="7" fill="#ec1810"/>
<rect x="409" y="468" width="7" height="7" fill="#f74123"/>
<rect x="415" y="468" width="7" height="7" fill="#fe8c3c"/>
<rect x="421" y="468" width="7" height="7" fill="#ffca54"/>
<rect x="427" y="468" width="7" height="7" fill="#e9ea60"/>
<rect x="433" y="468" width="7" height="7" fill="#bdef60"/>
<rect x="439" y="468" width="7" height="7" fill="#88ed66"/>
<rect x="445" y="468" width="7" height="7" fill="#5beb6b"/>
<rect x="451" y="468" width="7" height="7" fill="#35e86f"/>
<rect x="457" y="468" width="7" height="7" fill="#27e87e"/>
<rect x="463" y="468" width="7" height="7" fill="#1ce88d"/>
<rect x="469" y="468" width="7" height="7" fill="#18e894"/>
<rect x="475" y="468" width="7" height="7" fill="#18e894"/>
<rect x="277" y="474" width="7" height="7" fill="#0fe8a9"/>
<rect x="283" y="474" width="7" height="7" fill="#0fe8a9"/>
<rect x="289" y="474" width="7" height="7" fill="#10e8a5"/>
<rect x="295" y="474" width="7" height="7" fill="#12e89e"/>
<rect x="301" y="474" width="7" height="7" fill="#16e898"/>
<rect x="307" y="474" width="7" height="7" fill="#1ae891"/>
<rect x="313" y="474" width="7" height="7" fill="#20e888"/>
<rect x="319" y="474" width="7" height="7" fill="#28e87c"/>
<rect x="325" y="474" width="7" height="7" fill="#37e86f"/>
<rect x="331" y="474" width="7" height="7" fill="#61eb6a"/>
<rect x="337" y="474" width="7" height="7" fill="#9bee63"/>
<rect x="343" y="474" width="7" height="7" fill="#d8ec60"/>
<rect x="349" y="474" width="7" height="7" fill="#ffd157"/>
<rect x="355" y="474" width="7" height="7" fill="#fe893a"/>
<rect x="361" y="474" width="7" height="7" fill="#f53a1f"/>
<rect x="367" y="474" width="7" height="7" fill="#ec1810"/>
<rect x="373" y="474" width="7" height="7" fill="#ec1810"/>
<rect x="379" y="474" width="7" height="7" fill="#ec1810"/>
<rect x="385" y="474" width="7" height="7" fill="#ec1810"/>
<rect x="391" y="474" width="7" height="7" fill="#ec1810"/>
<rect x="397" y="474" width="7" height="7" fill="#ec1810"/>
<rect x="403" y="474" width="7" height="7" fill="#ec1810"/>
<rect x="409" y="474" width="7" height="7" fill="#f74123"/>
<rect x="415" y="474" width="7" height="7" fill="#fe8c3c"/>
<rect x="421" y="474" width="7" height="7" fill="#ffca54"/>
<rect x="427" y="474" width="7" height="7" fill="#e9ea60"/>
<rect x="433" y="474" width="7" height="7" fill="#bdef60"/>
<rect x="439" y="474" width="7" height="7" fill="#88ed66"/>
<rect x="445" y="474" width="7" height="7" fill="#5beb6b"/>
<rect x="451" y="474" width="7" height="7" fill="#35e86f"/>
<rect x="457" y="474" width="7" height="7" fill="#27e87e"/>
<rect x="463" y="474" width="7" height="7" fill="#1ce88d"/>
<rect x="469" y="474" width="7" height="7" fill="#18e894"/>
<rect x="475" y="474" width="7" height="7" fill="#18e894"/>
</g></g>
<!-- panel e overlays -->
<defs>
<linearGradient id="egrad" gradientUnits="userSpaceOnUse" x1="0" y1="288" x2="0" y2="456"><stop offset="0" stop-color="#e6a21e"/><stop offset="0.12" stop-color="#c8c828"/><stop offset="0.3" stop-color="#5ee03c"/><stop offset="0.6" stop-color="#4ee040"/><stop offset="0.8" stop-color="#a8b830"/><stop offset="1" stop-color="#ea6a1c"/></linearGradient>
</defs>
<text x="241" y="267" font-size="18.5">e)</text>
<rect x="289" y="270" width="180" height="196" fill="none" stroke="#2a2a2a" stroke-width="0.9"/>
<path d="M289,275.75h-3.5M289,318.25h-3.5M289,360.75h-3.5M289,403.25h-3.5M289,445.75h-3.5M289,297h-2.2M289,339.5h-2.2M289,382h-2.2M289,424.5h-2.2" stroke="#222" stroke-width="0.9" fill="none"/>
<path d="M300.25,466v3.5M356.5,466v3.5M412.75,466v3.5M469,466v3.5M328.4,466v2.2M384.6,466v2.2M440.9,466v2.2" stroke="#222" stroke-width="0.9" fill="none"/>
<g font-size="12.3" text-anchor="end"><text x="284.5" y="280.2">400</text><text x="284.5" y="322.7">370</text><text x="284.5" y="365.2">340</text><text x="284.5" y="407.7">310</text><text x="284.5" y="450.2">280</text></g>
<g font-size="12.3" text-anchor="middle"><text x="300.25" y="484.2">500</text><text x="356.5" y="484.2">600</text><text x="412.75" y="484.2">700</text><text x="468" y="484.2">800</text></g>
<text x="319.7" y="501" font-size="14.9" textLength="121.3" lengthAdjust="spacingAndGlyphs">Wavelength (nm)</text>
<text transform="translate(257.7,422.2) rotate(-90)" font-size="15.8" textLength="117" lengthAdjust="spacingAndGlyphs">Temperature (K)</text>
<rect x="293.5" y="330.8" width="169.5" height="18.2" fill="none" stroke="#cc1438" stroke-width="1.1" stroke-dasharray="3,1.5"/>
<text x="336.5" y="345" font-size="15" textLength="91" lengthAdjust="spacingAndGlyphs" style="fill:#e0102c;stroke:#e0102c">PL quenching</text>
<path d="M366,290 C352,300 336,322 329.5,342 C322,368 326,392 333,410 C340,428 350,442 360,453" fill="none" stroke="url(#egrad)" stroke-width="2"/>
<path d="M369.8,287.6 L365.8,294.8 L364.2,291.2 L360.6,290.4 Z" fill="#e6a21e"/>
<path d="M363.3,456.4 L355.6,452.6 L359.2,451.4 L360.2,447.8 Z" fill="#ea6a1c"/>
<text x="291.5" y="300.7" font-size="15" textLength="61.5" lengthAdjust="spacingAndGlyphs" style="fill:#e8a424;stroke:#e8a424">Red Shift</text>
<text x="346" y="409.2" font-size="15" textLength="64.5" lengthAdjust="spacingAndGlyphs" style="fill:#a4e25a;stroke:#a4e25a">Blue Shift</text>
<g class="b" style="fill:#fff;stroke:#fff" font-size="14">
<text x="397.2" y="284.5" textLength="66.8" lengthAdjust="spacingAndGlyphs" style="fill:#fff;stroke:#fff">Excitation</text>
<text x="406.7" y="301.5" textLength="47.3" lengthAdjust="spacingAndGlyphs" style="fill:#fff;stroke:#fff">300 nm</text>
<text x="406.7" y="425" textLength="26.3" lengthAdjust="spacingAndGlyphs" style="fill:#fff;stroke:#fff">STE</text>
<text x="421.7" y="442.3" text-anchor="middle" style="fill:#fff;stroke:#fff">+</text>
<text x="377.2" y="459.2" textLength="88.8" lengthAdjust="spacingAndGlyphs" style="fill:#fff;stroke:#fff"><tspan font-style="italic">d-d</tspan> transition</text>
</g>
<defs><clipPath id="clipf"><rect x="528" y="270" width="179.5" height="196"/></clipPath></defs>
<g clip-path="url(#clipf)"><g class="hm" filter="url(#hblur)">
<rect x="516" y="258" width="7" height="7" fill="#0c3893"/>
<rect x="522" y="258" width="7" height="7" fill="#0c3893"/>
<rect x="528" y="258" width="7" height="7" fill="#0c3a96"/>
<rect x="534" y="258" width="7" height="7" fill="#0e4ca8"/>
<rect x="540" y="258" width="7" height="7" fill="#0f76ca"/>
<rect x="546" y="258" width="7" height="7" fill="#08cbea"/>
<rect x="552" y="258" width="7" height="7" fill="#04ebdc"/>
<rect x="558" y="258" width="7" height="7" fill="#04ebcb"/>
<rect x="564" y="258" width="7" height="7" fill="#04eabf"/>
<rect x="570" y="258" width="7" height="7" fill="#04eab4"/>
<rect x="576" y="258" width="7" height="7" fill="#04eab1"/>
<rect x="582" y="258" width="7" height="7" fill="#04eab4"/>
<rect x="588" y="258" width="7" height="7" fill="#04eab6"/>
<rect x="594" y="258" width="7" height="7" fill="#04eab8"/>
<rect x="600" y="258" width="7" height="7" fill="#04eabf"/>
<rect x="606" y="258" width="7" height="7" fill="#04ebca"/>
<rect x="612" y="258" width="7" height="7" fill="#04ebd5"/>
<rect x="618" y="258" width="7" height="7" fill="#04ece0"/>
<rect x="624" y="258" width="7" height="7" fill="#04eceb"/>
<rect x="630" y="258" width="7" height="7" fill="#05e5ef"/>
<rect x="636" y="258" width="7" height="7" fill="#06daed"/>
<rect x="642" y="258" width="7" height="7" fill="#0cade4"/>
<rect x="648" y="258" width="7" height="7" fill="#0e84d1"/>
<rect x="654" y="258" width="7" height="7" fill="#1064c0"/>
<rect x="660" y="258" width="7" height="7" fill="#0f59b5"/>
<rect x="666" y="258" width="7" height="7" fill="#0e4fab"/>
<rect x="672" y="258" width="7" height="7" fill="#0d44a0"/>
<rect x="678" y="258" width="7" height="7" fill="#0c3b96"/>
<rect x="684" y="258" width="7" height="7" fill="#0b3792"/>
<rect x="690" y="258" width="7" height="7" fill="#0b358f"/>
<rect x="696" y="258" width="7" height="7" fill="#0b338b"/>
<rect x="702" y="258" width="7" height="7" fill="#0b3088"/>
<rect x="708" y="258" width="7" height="7" fill="#0b2f87"/>
<rect x="714" y="258" width="7" height="7" fill="#0b2f87"/>
<rect x="516" y="264" width="7" height="7" fill="#0c3893"/>
<rect x="522" y="264" width="7" height="7" fill="#0c3893"/>
<rect x="528" y="264" width="7" height="7" fill="#0c3a96"/>
<rect x="534" y="264" width="7" height="7" fill="#0e4ca8"/>
<rect x="540" y="264" width="7" height="7" fill="#0f76ca"/>
<rect x="546" y="264" width="7" height="7" fill="#08cbea"/>
<rect x="552" y="264" width="7" height="7" fill="#04ebdc"/>
<rect x="558" y="264" width="7" height="7" fill="#04ebcb"/>
<rect x="564" y="264" width="7" height="7" fill="#04eabf"/>
<rect x="570" y="264" width="7" height="7" fill="#04eab4"/>
<rect x="576" y="264" width="7" height="7" fill="#04eab1"/>
<rect x="582" y="264" width="7" height="7" fill="#04eab4"/>
<rect x="588" y="264" width="7" height="7" fill="#04eab6"/>
<rect x="594" y="264" width="7" height="7" fill="#04eab8"/>
<rect x="600" y="264" width="7" height="7" fill="#04eabf"/>
<rect x="606" y="264" width="7" height="7" fill="#04ebca"/>
<rect x="612" y="264" width="7" height="7" fill="#04ebd5"/>
<rect x="618" y="264" width="7" height="7" fill="#04ece0"/>
<rect x="624" y="264" width="7" height="7" fill="#04eceb"/>
<rect x="630" y="264" width="7" height="7" fill="#05e5ef"/>
<rect x="636" y="264" width="7" height="7" fill="#06daed"/>
<rect x="642" y="264" width="7" height="7" fill="#0cade4"/>
<rect x="648" y="264" width="7" height="7" fill="#0e84d1"/>
<rect x="654" y="264" width="7" height="7" fill="#1064c0"/>
<rect x="660" y="264" width="7" height="7" fill="#0f59b5"/>
<rect x="666" y="264" width="7" height="7" fill="#0e4fab"/>
<rect x="672" y="264" width="7" height="7" fill="#0d44a0"/>
<rect x="678" y="264" width="7" height="7" fill="#0c3b96"/>
<rect x="684" y="264" width="7" height="7" fill="#0b3792"/>
<rect x="690" y="264" width="7" height="7" fill="#0b358f"/>
<rect x="696" y="264" width="7" height="7" fill="#0b338b"/>
<rect x="702" y="264" width="7" height="7" fill="#0b3088"/>
<rect x="708" y="264" width="7" height="7" fill="#0b2f87"/>
<rect x="714" y="264" width="7" height="7" fill="#0b2f87"/>
<rect x="516" y="270" width="7" height="7" fill="#0c3b97"/>
<rect x="522" y="270" width="7" height="7" fill="#0c3b97"/>
<rect x="528" y="270" width="7" height="7" fill="#0c3f9b"/>
<rect x="534" y="270" width="7" height="7" fill="#0e55b1"/>
<rect x="540" y="270" width="7" height="7" fill="#0e82d0"/>
<rect x="546" y="270" width="7" height="7" fill="#07d2eb"/>
<rect x="552" y="270" width="7" height="7" fill="#04ebd8"/>
<rect x="558" y="270" width="7" height="7" fill="#04ebc6"/>
<rect x="564" y="270" width="7" height="7" fill="#04eabb"/>
<rect x="570" y="270" width="7" height="7" fill="#04eab0"/>
<rect x="576" y="270" width="7" height="7" fill="#04eaae"/>
<rect x="582" y="270" width="7" height="7" fill="#04eab0"/>
<rect x="588" y="270" width="7" height="7" fill="#04eab2"/>
<rect x="594" y="270" width="7" height="7" fill="#04eab5"/>
<rect x="600" y="270" width="7" height="7" fill="#04eabb"/>
<rect x="606" y="270" width="7" height="7" fill="#04ebc6"/>
<rect x="612" y="270" width="7" height="7" fill="#04ebd1"/>
<rect x="618" y="270" width="7" height="7" fill="#04ebdc"/>
<rect x="624" y="270" width="7" height="7" fill="#04ece8"/>
<rect x="630" y="270" width="7" height="7" fill="#04e9ef"/>
<rect x="636" y="270" width="7" height="7" fill="#06dded"/>
<rect x="642" y="270" width="7" height="7" fill="#0bb3e5"/>
<rect x="648" y="270" width="7" height="7" fill="#0e8ad4"/>
<rect x="654" y="270" width="7" height="7" fill="#1067c3"/>
<rect x="660" y="270" width="7" height="7" fill="#0f5cb8"/>
<rect x="666" y="270" width="7" height="7" fill="#0e50ac"/>
<rect x="672" y="270" width="7" height="7" fill="#0d45a1"/>
<rect x="678" y="270" width="7" height="7" fill="#0c3b97"/>
<rect x="684" y="270" width="7" height="7" fill="#0c3892"/>
<rect x="690" y="270" width="7" height="7" fill="#0b358f"/>
<rect x="696" y="270" width="7" height="7" fill="#0b338c"/>
<rect x="702" y="270" width="7" height="7" fill="#0b3088"/>
<rect x="708" y="270" width="7" height="7" fill="#0b3087"/>
<rect x="714" y="270" width="7" height="7" fill="#0b3087"/>
<rect x="516" y="276" width="7" height="7" fill="#0d46a2"/>
<rect x="522" y="276" width="7" height="7" fill="#0d46a2"/>
<rect x="528" y="276" width="7" height="7" fill="#0e4eaa"/>
<rect x="534" y="276" width="7" height="7" fill="#1065c1"/>
<rect x="540" y="276" width="7" height="7" fill="#0d9bdc"/>
<rect x="546" y="276" width="7" height="7" fill="#05e1ee"/>
<rect x="552" y="276" width="7" height="7" fill="#04ebcf"/>
<rect x="558" y="276" width="7" height="7" fill="#04eabd"/>
<rect x="564" y="276" width="7" height="7" fill="#04eab3"/>
<rect x="570" y="276" width="7" height="7" fill="#04eaaa"/>
<rect x="576" y="276" width="7" height="7" fill="#04eaa6"/>
<rect x="582" y="276" width="7" height="7" fill="#04eaa9"/>
<rect x="588" y="276" width="7" height="7" fill="#04eaac"/>
<rect x="594" y="276" width="7" height="7" fill="#04eaae"/>
<rect x="600" y="276" width="7" height="7" fill="#04eab4"/>
<rect x="606" y="276" width="7" height="7" fill="#04eabf"/>
<rect x="612" y="276" width="7" height="7" fill="#04ebca"/>
<rect x="618" y="276" width="7" height="7" fill="#04ebd5"/>
<rect x="624" y="276" width="7" height="7" fill="#04ece0"/>
<rect x="630" y="276" width="7" height="7" fill="#04eced"/>
<rect x="636" y="276" width="7" height="7" fill="#05e3ee"/>
<rect x="642" y="276" width="7" height="7" fill="#0ac0e8"/>
<rect x="648" y="276" width="7" height="7" fill="#0d96da"/>
<rect x="654" y="276" width="7" height="7" fill="#0f72c9"/>
<rect x="660" y="276" width="7" height="7" fill="#0f60bc"/>
<rect x="666" y="276" width="7" height="7" fill="#0e54b0"/>
<rect x="672" y="276" width="7" height="7" fill="#0d48a4"/>
<rect x="678" y="276" width="7" height="7" fill="#0c3d99"/>
<rect x="684" y="276" width="7" height="7" fill="#0c3893"/>
<rect x="690" y="276" width="7" height="7" fill="#0b368f"/>
<rect x="696" y="276" width="7" height="7" fill="#0b338c"/>
<rect x="702" y="276" width="7" height="7" fill="#0b3189"/>
<rect x="708" y="276" width="7" height="7" fill="#0b3088"/>
<rect x="714" y="276" width="7" height="7" fill="#0b3088"/>
<rect x="516" y="282" width="7" height="7" fill="#0e52ae"/>
<rect x="522" y="282" width="7" height="7" fill="#0e52ae"/>
<rect x="528" y="282" width="7" height="7" fill="#0f5cb8"/>
<rect x="534" y="282" width="7" height="7" fill="#0e83d1"/>
<rect x="540" y="282" width="7" height="7" fill="#0bb4e6"/>
<rect x="546" y="282" width="7" height="7" fill="#04eced"/>
<rect x="552" y="282" width="7" height="7" fill="#04ebc7"/>
<rect x="558" y="282" width="7" height="7" fill="#04eab4"/>
<rect x="564" y="282" width="7" height="7" fill="#04eaab"/>
<rect x="570" y="282" width="7" height="7" fill="#04eaa3"/>
<rect x="576" y="282" width="7" height="7" fill="#04ea9f"/>
<rect x="582" y="282" width="7" height="7" fill="#04eaa2"/>
<rect x="588" y="282" width="7" height="7" fill="#04eaa5"/>
<rect x="594" y="282" width="7" height="7" fill="#04eaa8"/>
<rect x="600" y="282" width="7" height="7" fill="#04eaad"/>
<rect x="606" y="282" width="7" height="7" fill="#04eab7"/>
<rect x="612" y="282" width="7" height="7" fill="#04ebc2"/>
<rect x="618" y="282" width="7" height="7" fill="#04ebcd"/>
<rect x="624" y="282" width="7" height="7" fill="#04ebd9"/>
<rect x="630" y="282" width="7" height="7" fill="#04ece6"/>
<rect x="636" y="282" width="7" height="7" fill="#04eaf0"/>
<rect x="642" y="282" width="7" height="7" fill="#08cdea"/>
<rect x="648" y="282" width="7" height="7" fill="#0da2e0"/>
<rect x="654" y="282" width="7" height="7" fill="#0f7ece"/>
<rect x="660" y="282" width="7" height="7" fill="#1064c0"/>
<rect x="666" y="282" width="7" height="7" fill="#0e57b3"/>
<rect x="672" y="282" width="7" height="7" fill="#0d4ba7"/>
<rect x="678" y="282" width="7" height="7" fill="#0c3f9b"/>
<rect x="684" y="282" width="7" height="7" fill="#0c3994"/>
<rect x="690" y="282" width="7" height="7" fill="#0b3690"/>
<rect x="696" y="282" width="7" height="7" fill="#0b348d"/>
<rect x="702" y="282" width="7" height="7" fill="#0b3189"/>
<rect x="708" y="282" width="7" height="7" fill="#0b3088"/>
<rect x="714" y="282" width="7" height="7" fill="#0b3088"/>
<rect x="516" y="288" width="7" height="7" fill="#0f5eba"/>
<rect x="522" y="288" width="7" height="7" fill="#0f5eba"/>
<rect x="528" y="288" width="7" height="7" fill="#106ec7"/>
<rect x="534" y="288" width="7" height="7" fill="#0da3e0"/>
<rect x="540" y="288" width="7" height="7" fill="#08cfeb"/>
<rect x="546" y="288" width="7" height="7" fill="#04ebdf"/>
<rect x="552" y="288" width="7" height="7" fill="#04eabe"/>
<rect x="558" y="288" width="7" height="7" fill="#04eaab"/>
<rect x="564" y="288" width="7" height="7" fill="#04eaa4"/>
<rect x="570" y="288" width="7" height="7" fill="#04e99c"/>
<rect x="576" y="288" width="7" height="7" fill="#04e998"/>
<rect x="582" y="288" width="7" height="7" fill="#04e99a"/>
<rect x="588" y="288" width="7" height="7" fill="#04ea9e"/>
<rect x="594" y="288" width="7" height="7" fill="#04eaa2"/>
<rect x="600" y="288" width="7" height="7" fill="#04eaa7"/>
<rect x="606" y="288" width="7" height="7" fill="#04eab0"/>
<rect x="612" y="288" width="7" height="7" fill="#04eabb"/>
<rect x="618" y="288" width="7" height="7" fill="#04ebc6"/>
<rect x="624" y="288" width="7" height="7" fill="#04ebd2"/>
<rect x="630" y="288" width="7" height="7" fill="#04ebdf"/>
<rect x="636" y="288" width="7" height="7" fill="#04ecec"/>
<rect x="642" y="288" width="7" height="7" fill="#06d9ec"/>
<rect x="648" y="288" width="7" height="7" fill="#0cafe5"/>
<rect x="654" y="288" width="7" height="7" fill="#0e8ad4"/>
<rect x="660" y="288" width="7" height="7" fill="#1068c4"/>
<rect x="666" y="288" width="7" height="7" fill="#0f5ab6"/>
<rect x="672" y="288" width="7" height="7" fill="#0e4eaa"/>
<rect x="678" y="288" width="7" height="7" fill="#0d429e"/>
<rect x="684" y="288" width="7" height="7" fill="#0c3a95"/>
<rect x="690" y="288" width="7" height="7" fill="#0b3691"/>
<rect x="696" y="288" width="7" height="7" fill="#0b348d"/>
<rect x="702" y="288" width="7" height="7" fill="#0b318a"/>
<rect x="708" y="288" width="7" height="7" fill="#0b3189"/>
<rect x="714" y="288" width="7" height="7" fill="#0b3189"/>
<rect x="516" y="294" width="7" height="7" fill="#106dc6"/>
<rect x="522" y="294" width="7" height="7" fill="#106dc6"/>
<rect x="528" y="294" width="7" height="7" fill="#0e8bd4"/>
<rect x="534" y="294" width="7" height="7" fill="#09c5e9"/>
<rect x="540" y="294" width="7" height="7" fill="#04eaf0"/>
<rect x="546" y="294" width="7" height="7" fill="#04ebd0"/>
<rect x="552" y="294" width="7" height="7" fill="#04eab6"/>
<rect x="558" y="294" width="7" height="7" fill="#04eaa2"/>
<rect x="564" y="294" width="7" height="7" fill="#04e99c"/>
<rect x="570" y="294" width="7" height="7" fill="#04e996"/>
<rect x="576" y="294" width="7" height="7" fill="#04e991"/>
<rect x="582" y="294" width="7" height="7" fill="#04e993"/>
<rect x="588" y="294" width="7" height="7" fill="#04e997"/>
<rect x="594" y="294" width="7" height="7" fill="#04e99b"/>
<rect x="600" y="294" width="7" height="7" fill="#04eaa0"/>
<rect x="606" y="294" width="7" height="7" fill="#04eaa9"/>
<rect x="612" y="294" width="7" height="7" fill="#04eab4"/>
<rect x="618" y="294" width="7" height="7" fill="#04eabf"/>
<rect x="624" y="294" width="7" height="7" fill="#04ebcb"/>
<rect x="630" y="294" width="7" height="7" fill="#04ebd8"/>
<rect x="636" y="294" width="7" height="7" fill="#04ece5"/>
<rect x="642" y="294" width="7" height="7" fill="#05e6ef"/>
<rect x="648" y="294" width="7" height="7" fill="#0abce7"/>
<rect x="654" y="294" width="7" height="7" fill="#0d95d9"/>
<rect x="660" y="294" width="7" height="7" fill="#0f71c8"/>
<rect x="666" y="294" width="7" height="7" fill="#0f5eba"/>
<rect x="672" y="294" width="7" height="7" fill="#0e51ad"/>
<rect x="678" y="294" width="7" height="7" fill="#0d45a1"/>
<rect x="684" y="294" width="7" height="7" fill="#0c3b96"/>
<rect x="690" y="294" width="7" height="7" fill="#0b3791"/>
<rect x="696" y="294" width="7" height="7" fill="#0b348e"/>
<rect x="702" y="294" width="7" height="7" fill="#0b328a"/>
<rect x="708" y="294" width="7" height="7" fill="#0b3189"/>
<rect x="714" y="294" width="7" height="7" fill="#0b3189"/>
<rect x="516" y="300" width="7" height="7" fill="#0f81d0"/>
<rect x="522" y="300" width="7" height="7" fill="#0f81d0"/>
<rect x="528" y="300" width="7" height="7" fill="#0da0de"/>
<rect x="534" y="300" width="7" height="7" fill="#06dced"/>
<rect x="540" y="300" width="7" height="7" fill="#04ebdf"/>
<rect x="546" y="300" width="7" height="7" fill="#04ebc3"/>
<rect x="552" y="300" width="7" height="7" fill="#04eaac"/>
<rect x="558" y="300" width="7" height="7" fill="#04e998"/>
<rect x="564" y="300" width="7" height="7" fill="#04e992"/>
<rect x="570" y="300" width="7" height="7" fill="#04e98d"/>
<rect x="576" y="300" width="7" height="7" fill="#04e987"/>
<rect x="582" y="300" width="7" height="7" fill="#04e98a"/>
<rect x="588" y="300" width="7" height="7" fill="#04e98e"/>
<rect x="594" y="300" width="7" height="7" fill="#04e993"/>
<rect x="600" y="300" width="7" height="7" fill="#04e997"/>
<rect x="606" y="300" width="7" height="7" fill="#04eaa0"/>
<rect x="612" y="300" width="7" height="7" fill="#04eaab"/>
<rect x="618" y="300" width="7" height="7" fill="#04eab6"/>
<rect x="624" y="300" width="7" height="7" fill="#04ebc2"/>
<rect x="630" y="300" width="7" height="7" fill="#04ebd0"/>
<rect x="636" y="300" width="7" height="7" fill="#04ebdf"/>
<rect x="642" y="300" width="7" height="7" fill="#04eced"/>
<rect x="648" y="300" width="7" height="7" fill="#09c8e9"/>
<rect x="654" y="300" width="7" height="7" fill="#0da0de"/>
<rect x="660" y="300" width="7" height="7" fill="#0f7acd"/>
<rect x="666" y="300" width="7" height="7" fill="#0f62be"/>
<rect x="672" y="300" width="7" height="7" fill="#0e55b1"/>
<rect x="678" y="300" width="7" height="7" fill="#0d48a4"/>
<rect x="684" y="300" width="7" height="7" fill="#0c3c98"/>
<rect x="690" y="300" width="7" height="7" fill="#0c3893"/>
<rect x="696" y="300" width="7" height="7" fill="#0b358f"/>
<rect x="702" y="300" width="7" height="7" fill="#0b328b"/>
<rect x="708" y="300" width="7" height="7" fill="#0b318a"/>
<rect x="714" y="300" width="7" height="7" fill="#0b318a"/>
<rect x="516" y="306" width="7" height="7" fill="#0e90d7"/>
<rect x="522" y="306" width="7" height="7" fill="#0e90d7"/>
<rect x="528" y="306" width="7" height="7" fill="#0caee4"/>
<rect x="534" y="306" width="7" height="7" fill="#05e7ef"/>
<rect x="540" y="306" width="7" height="7" fill="#04ebd3"/>
<rect x="546" y="306" width="7" height="7" fill="#04eab7"/>
<rect x="552" y="306" width="7" height="7" fill="#04eaa1"/>
<rect x="558" y="306" width="7" height="7" fill="#04e98e"/>
<rect x="564" y="306" width="7" height="7" fill="#04e988"/>
<rect x="570" y="306" width="7" height="7" fill="#04e981"/>
<rect x="576" y="306" width="7" height="7" fill="#04e97b"/>
<rect x="582" y="306" width="7" height="7" fill="#04e97e"/>
<rect x="588" y="306" width="7" height="7" fill="#04e983"/>
<rect x="594" y="306" width="7" height="7" fill="#04e988"/>
<rect x="600" y="306" width="7" height="7" fill="#04e98d"/>
<rect x="606" y="306" width="7" height="7" fill="#04e996"/>
<rect x="612" y="306" width="7" height="7" fill="#04eaa2"/>
<rect x="618" y="306" width="7" height="7" fill="#04eaad"/>
<rect x="624" y="306" width="7" height="7" fill="#04eab8"/>
<rect x="630" y="306" width="7" height="7" fill="#04ebc8"/>
<rect x="636" y="306" width="7" height="7" fill="#04ebd8"/>
<rect x="642" y="306" width="7" height="7" fill="#04ece8"/>
<rect x="648" y="306" width="7" height="7" fill="#07d2eb"/>
<rect x="654" y="306" width="7" height="7" fill="#0cabe3"/>
<rect x="660" y="306" width="7" height="7" fill="#0e86d2"/>
<rect x="666" y="306" width="7" height="7" fill="#1067c3"/>
<rect x="672" y="306" width="7" height="7" fill="#0f59b5"/>
<rect x="678" y="306" width="7" height="7" fill="#0e4da9"/>
<rect x="684" y="306" width="7" height="7" fill="#0c409c"/>
<rect x="690" y="306" width="7" height="7" fill="#0c3995"/>
<rect x="696" y="306" width="7" height="7" fill="#0b3690"/>
<rect x="702" y="306" width="7" height="7" fill="#0b338c"/>
<rect x="708" y="306" width="7" height="7" fill="#0b328a"/>
<rect x="714" y="306" width="7" height="7" fill="#0b328a"/>
<rect x="516" y="312" width="7" height="7" fill="#0d9fde"/>
<rect x="522" y="312" width="7" height="7" fill="#0d9fde"/>
<rect x="528" y="312" width="7" height="7" fill="#0abce7"/>
<rect x="534" y="312" width="7" height="7" fill="#04eceb"/>
<rect x="540" y="312" width="7" height="7" fill="#04ebc8"/>
<rect x="546" y="312" width="7" height="7" fill="#04eaac"/>
<rect x="552" y="312" width="7" height="7" fill="#04e996"/>
<rect x="558" y="312" width="7" height="7" fill="#04e984"/>
<rect x="564" y="312" width="7" height="7" fill="#04e97d"/>
<rect x="570" y="312" width="7" height="7" fill="#04e876"/>
<rect x="576" y="312" width="7" height="7" fill="#04e86f"/>
<rect x="582" y="312" width="7" height="7" fill="#04e873"/>
<rect x="588" y="312" width="7" height="7" fill="#04e878"/>
<rect x="594" y="312" width="7" height="7" fill="#04e97e"/>
<rect x="600" y="312" width="7" height="7" fill="#04e983"/>
<rect x="606" y="312" width="7" height="7" fill="#04e98d"/>
<rect x="612" y="312" width="7" height="7" fill="#04e998"/>
<rect x="618" y="312" width="7" height="7" fill="#04eaa3"/>
<rect x="624" y="312" width="7" height="7" fill="#04eaaf"/>
<rect x="630" y="312" width="7" height="7" fill="#04eac0"/>
<rect x="636" y="312" width="7" height="7" fill="#04ebd1"/>
<rect x="642" y="312" width="7" height="7" fill="#04ece3"/>
<rect x="648" y="312" width="7" height="7" fill="#06dced"/>
<rect x="654" y="312" width="7" height="7" fill="#0bb6e6"/>
<rect x="660" y="312" width="7" height="7" fill="#0e91d7"/>
<rect x="666" y="312" width="7" height="7" fill="#0f71c8"/>
<rect x="672" y="312" width="7" height="7" fill="#0f5db9"/>
<rect x="678" y="312" width="7" height="7" fill="#0e51ad"/>
<rect x="684" y="312" width="7" height="7" fill="#0d45a1"/>
<rect x="690" y="312" width="7" height="7" fill="#0c3b97"/>
<rect x="696" y="312" width="7" height="7" fill="#0b3792"/>
<rect x="702" y="312" width="7" height="7" fill="#0b338d"/>
<rect x="708" y="312" width="7" height="7" fill="#0b328b"/>
<rect x="714" y="312" width="7" height="7" fill="#0b328b"/>
<rect x="516" y="318" width="7" height="7" fill="#0caee4"/>
<rect x="522" y="318" width="7" height="7" fill="#0caee4"/>
<rect x="528" y="318" width="7" height="7" fill="#08cbea"/>
<rect x="534" y="318" width="7" height="7" fill="#04ebe0"/>
<rect x="540" y="318" width="7" height="7" fill="#04eabc"/>
<rect x="546" y="318" width="7" height="7" fill="#04eaa0"/>
<rect x="552" y="318" width="7" height="7" fill="#04e98c"/>
<rect x="558" y="318" width="7" height="7" fill="#04e87a"/>
<rect x="564" y="318" width="7" height="7" fill="#04e872"/>
<rect x="570" y="318" width="7" height="7" fill="#04e86b"/>
<rect x="576" y="318" width="7" height="7" fill="#0be867"/>
<rect x="582" y="318" width="7" height="7" fill="#05e868"/>
<rect x="588" y="318" width="7" height="7" fill="#04e86d"/>
<rect x="594" y="318" width="7" height="7" fill="#04e873"/>
<rect x="600" y="318" width="7" height="7" fill="#04e879"/>
<rect x="606" y="318" width="7" height="7" fill="#04e983"/>
<rect x="612" y="318" width="7" height="7" fill="#04e98e"/>
<rect x="618" y="318" width="7" height="7" fill="#04e99a"/>
<rect x="624" y="318" width="7" height="7" fill="#04eaa5"/>
<rect x="630" y="318" width="7" height="7" fill="#04eab7"/>
<rect x="636" y="318" width="7" height="7" fill="#04ebca"/>
<rect x="642" y="318" width="7" height="7" fill="#04ebdd"/>
<rect x="648" y="318" width="7" height="7" fill="#05e6ef"/>
<rect x="654" y="318" width="7" height="7" fill="#09c1e8"/>
<rect x="660" y="318" width="7" height="7" fill="#0d9cdd"/>
<rect x="666" y="318" width="7" height="7" fill="#0f7bcd"/>
<rect x="672" y="318" width="7" height="7" fill="#0f62be"/>
<rect x="678" y="318" width="7" height="7" fill="#0e55b1"/>
<rect x="684" y="318" width="7" height="7" fill="#0d49a5"/>
<rect x="690" y="318" width="7" height="7" fill="#0c3e9a"/>
<rect x="696" y="318" width="7" height="7" fill="#0c3893"/>
<rect x="702" y="318" width="7" height="7" fill="#0b348d"/>
<rect x="708" y="318" width="7" height="7" fill="#0b338b"/>
<rect x="714" y="318" width="7" height="7" fill="#0b338b"/>
<rect x="516" y="324" width="7" height="7" fill="#0abee7"/>
<rect x="522" y="324" width="7" height="7" fill="#0abee7"/>
<rect x="528" y="324" width="7" height="7" fill="#06daed"/>
<rect x="534" y="324" width="7" height="7" fill="#04ebd5"/>
<rect x="540" y="324" width="7" height="7" fill="#04eab0"/>
<rect x="546" y="324" width="7" height="7" fill="#04e994"/>
<rect x="552" y="324" width="7" height="7" fill="#04e981"/>
<rect x="558" y="324" width="7" height="7" fill="#04e870"/>
<rect x="564" y="324" width="7" height="7" fill="#05e868"/>
<rect x="570" y="324" width="7" height="7" fill="#10e867"/>
<rect x="576" y="324" width="7" height="7" fill="#1be966"/>
<rect x="582" y="324" width="7" height="7" fill="#16e967"/>
<rect x="588" y="324" width="7" height="7" fill="#0de867"/>
<rect x="594" y="324" width="7" height="7" fill="#04e868"/>
<rect x="600" y="324" width="7" height="7" fill="#04e86f"/>
<rect x="606" y="324" width="7" height="7" fill="#04e879"/>
<rect x="612" y="324" width="7" height="7" fill="#04e985"/>
<rect x="618" y="324" width="7" height="7" fill="#04e990"/>
<rect x="624" y="324" width="7" height="7" fill="#04e99c"/>
<rect x="630" y="324" width="7" height="7" fill="#04eaaf"/>
<rect x="636" y="324" width="7" height="7" fill="#04ebc3"/>
<rect x="642" y="324" width="7" height="7" fill="#04ebd8"/>
<rect x="648" y="324" width="7" height="7" fill="#04eced"/>
<rect x="654" y="324" width="7" height="7" fill="#08cdea"/>
<rect x="660" y="324" width="7" height="7" fill="#0ca8e2"/>
<rect x="666" y="324" width="7" height="7" fill="#0e85d2"/>
<rect x="672" y="324" width="7" height="7" fill="#1066c2"/>
<rect x="678" y="324" width="7" height="7" fill="#0f5ab6"/>
<rect x="684" y="324" width="7" height="7" fill="#0e4eaa"/>
<rect x="690" y="324" width="7" height="7" fill="#0c419d"/>
<rect x="696" y="324" width="7" height="7" fill="#0c3994"/>
<rect x="702" y="324" width="7" height="7" fill="#0b358e"/>
<rect x="708" y="324" width="7" height="7" fill="#0b338c"/>
<rect x="714" y="324" width="7" height="7" fill="#0b338c"/>
<rect x="516" y="330" width="7" height="7" fill="#09c4e9"/>
<rect x="522" y="330" width="7" height="7" fill="#09c4e9"/>
<rect x="528" y="330" width="7" height="7" fill="#06deed"/>
<rect x="534" y="330" width="7" height="7" fill="#04ebd3"/>
<rect x="540" y="330" width="7" height="7" fill="#04eaaf"/>
<rect x="546" y="330" width="7" height="7" fill="#04e994"/>
<rect x="552" y="330" width="7" height="7" fill="#04e982"/>
<rect x="558" y="330" width="7" height="7" fill="#04e872"/>
<rect x="564" y="330" width="7" height="7" fill="#04e86a"/>
<rect x="570" y="330" width="7" height="7" fill="#0be867"/>
<rect x="576" y="330" width="7" height="7" fill="#16e967"/>
<rect x="582" y="330" width="7" height="7" fill="#11e967"/>
<rect x="588" y="330" width="7" height="7" fill="#08e868"/>
<rect x="594" y="330" width="7" height="7" fill="#04e86b"/>
<rect x="600" y="330" width="7" height="7" fill="#04e871"/>
<rect x="606" y="330" width="7" height="7" fill="#04e97b"/>
<rect x="612" y="330" width="7" height="7" fill="#04e986"/>
<rect x="618" y="330" width="7" height="7" fill="#04e991"/>
<rect x="624" y="330" width="7" height="7" fill="#04e99c"/>
<rect x="630" y="330" width="7" height="7" fill="#04eaae"/>
<rect x="636" y="330" width="7" height="7" fill="#04ebc3"/>
<rect x="642" y="330" width="7" height="7" fill="#04ebd7"/>
<rect x="648" y="330" width="7" height="7" fill="#04eceb"/>
<rect x="654" y="330" width="7" height="7" fill="#07d1eb"/>
<rect x="660" y="330" width="7" height="7" fill="#0cace4"/>
<rect x="666" y="330" width="7" height="7" fill="#0e89d4"/>
<rect x="672" y="330" width="7" height="7" fill="#1068c4"/>
<rect x="678" y="330" width="7" height="7" fill="#0f5bb7"/>
<rect x="684" y="330" width="7" height="7" fill="#0e4fab"/>
<rect x="690" y="330" width="7" height="7" fill="#0d429e"/>
<rect x="696" y="330" width="7" height="7" fill="#0c3994"/>
<rect x="702" y="330" width="7" height="7" fill="#0b358e"/>
<rect x="708" y="330" width="7" height="7" fill="#0b338c"/>
<rect x="714" y="330" width="7" height="7" fill="#0b338c"/>
<rect x="516" y="336" width="7" height="7" fill="#08caea"/>
<rect x="522" y="336" width="7" height="7" fill="#08caea"/>
<rect x="528" y="336" width="7" height="7" fill="#05e2ee"/>
<rect x="534" y="336" width="7" height="7" fill="#04ebd1"/>
<rect x="540" y="336" width="7" height="7" fill="#04eaad"/>
<rect x="546" y="336" width="7" height="7" fill="#04e994"/>
<rect x="552" y="336" width="7" height="7" fill="#04e983"/>
<rect x="558" y="336" width="7" height="7" fill="#04e874"/>
<rect x="564" y="336" width="7" height="7" fill="#04e86d"/>
<rect x="570" y="336" width="7" height="7" fill="#07e868"/>
<rect x="576" y="336" width="7" height="7" fill="#11e967"/>
<rect x="582" y="336" width="7" height="7" fill="#0ce867"/>
<rect x="588" y="336" width="7" height="7" fill="#04e868"/>
<rect x="594" y="336" width="7" height="7" fill="#04e86e"/>
<rect x="600" y="336" width="7" height="7" fill="#04e874"/>
<rect x="606" y="336" width="7" height="7" fill="#04e97d"/>
<rect x="612" y="336" width="7" height="7" fill="#04e987"/>
<rect x="618" y="336" width="7" height="7" fill="#04e992"/>
<rect x="624" y="336" width="7" height="7" fill="#04e99c"/>
<rect x="630" y="336" width="7" height="7" fill="#04eaae"/>
<rect x="636" y="336" width="7" height="7" fill="#04ebc2"/>
<rect x="642" y="336" width="7" height="7" fill="#04ebd5"/>
<rect x="648" y="336" width="7" height="7" fill="#04ece9"/>
<rect x="654" y="336" width="7" height="7" fill="#07d5ec"/>
<rect x="660" y="336" width="7" height="7" fill="#0bb0e5"/>
<rect x="666" y="336" width="7" height="7" fill="#0e8ed6"/>
<rect x="672" y="336" width="7" height="7" fill="#106dc6"/>
<rect x="678" y="336" width="7" height="7" fill="#0f5db9"/>
<rect x="684" y="336" width="7" height="7" fill="#0e50ac"/>
<rect x="690" y="336" width="7" height="7" fill="#0d439f"/>
<rect x="696" y="336" width="7" height="7" fill="#0c3994"/>
<rect x="702" y="336" width="7" height="7" fill="#0b358e"/>
<rect x="708" y="336" width="7" height="7" fill="#0b338c"/>
<rect x="714" y="336" width="7" height="7" fill="#0b338c"/>
<rect x="516" y="342" width="7" height="7" fill="#08d0eb"/>
<rect x="522" y="342" width="7" height="7" fill="#08d0eb"/>
<rect x="528" y="342" width="7" height="7" fill="#05e5ef"/>
<rect x="534" y="342" width="7" height="7" fill="#04ebcf"/>
<rect x="540" y="342" width="7" height="7" fill="#04eaac"/>
<rect x="546" y="342" width="7" height="7" fill="#04e994"/>
<rect x="552" y="342" width="7" height="7" fill="#04e984"/>
<rect x="558" y="342" width="7" height="7" fill="#04e876"/>
<rect x="564" y="342" width="7" height="7" fill="#04e86f"/>
<rect x="570" y="342" width="7" height="7" fill="#04e869"/>
<rect x="576" y="342" width="7" height="7" fill="#0be867"/>
<rect x="582" y="342" width="7" height="7" fill="#07e868"/>
<rect x="588" y="342" width="7" height="7" fill="#04e86b"/>
<rect x="594" y="342" width="7" height="7" fill="#04e871"/>
<rect x="600" y="342" width="7" height="7" fill="#04e876"/>
<rect x="606" y="342" width="7" height="7" fill="#04e97f"/>
<rect x="612" y="342" width="7" height="7" fill="#04e989"/>
<rect x="618" y="342" width="7" height="7" fill="#04e993"/>
<rect x="624" y="342" width="7" height="7" fill="#04e99c"/>
<rect x="630" y="342" width="7" height="7" fill="#04eaae"/>
<rect x="636" y="342" width="7" height="7" fill="#04ebc1"/>
<rect x="642" y="342" width="7" height="7" fill="#04ebd4"/>
<rect x="648" y="342" width="7" height="7" fill="#04ece7"/>
<rect x="654" y="342" width="7" height="7" fill="#06d9ec"/>
<rect x="660" y="342" width="7" height="7" fill="#0bb5e6"/>
<rect x="666" y="342" width="7" height="7" fill="#0e92d8"/>
<rect x="672" y="342" width="7" height="7" fill="#0f71c8"/>
<rect x="678" y="342" width="7" height="7" fill="#0f5eba"/>
<rect x="684" y="342" width="7" height="7" fill="#0e51ad"/>
<rect x="690" y="342" width="7" height="7" fill="#0d439f"/>
<rect x="696" y="342" width="7" height="7" fill="#0c3994"/>
<rect x="702" y="342" width="7" height="7" fill="#0b358e"/>
<rect x="708" y="342" width="7" height="7" fill="#0b338c"/>
<rect x="714" y="342" width="7" height="7" fill="#0b338c"/>
<rect x="516" y="348" width="7" height="7" fill="#07d6ec"/>
<rect x="522" y="348" width="7" height="7" fill="#07d6ec"/>
<rect x="528" y="348" width="7" height="7" fill="#04e9f0"/>
<rect x="534" y="348" width="7" height="7" fill="#04ebcd"/>
<rect x="540" y="348" width="7" height="7" fill="#04eaaa"/>
<rect x="546" y="348" width="7" height="7" fill="#04e994"/>
<rect x="552" y="348" width="7" height="7" fill="#04e985"/>
<rect x="558" y="348" width="7" height="7" fill="#04e878"/>
<rect x="564" y="348" width="7" height="7" fill="#04e872"/>
<rect x="570" y="348" width="7" height="7" fill="#04e86c"/>
<rect x="576" y="348" width="7" height="7" fill="#06e868"/>
<rect x="582" y="348" width="7" height="7" fill="#04e86a"/>
<rect x="588" y="348" width="7" height="7" fill="#04e86f"/>
<rect x="594" y="348" width="7" height="7" fill="#04e873"/>
<rect x="600" y="348" width="7" height="7" fill="#04e878"/>
<rect x="606" y="348" width="7" height="7" fill="#04e981"/>
<rect x="612" y="348" width="7" height="7" fill="#04e98a"/>
<rect x="618" y="348" width="7" height="7" fill="#04e993"/>
<rect x="624" y="348" width="7" height="7" fill="#04e99c"/>
<rect x="630" y="348" width="7" height="7" fill="#04eaad"/>
<rect x="636" y="348" width="7" height="7" fill="#04eac0"/>
<rect x="642" y="348" width="7" height="7" fill="#04ebd2"/>
<rect x="648" y="348" width="7" height="7" fill="#04ece5"/>
<rect x="654" y="348" width="7" height="7" fill="#06dded"/>
<rect x="660" y="348" width="7" height="7" fill="#0ab9e6"/>
<rect x="666" y="348" width="7" height="7" fill="#0d97da"/>
<rect x="672" y="348" width="7" height="7" fill="#0f76ca"/>
<rect x="678" y="348" width="7" height="7" fill="#0f60bc"/>
<rect x="684" y="348" width="7" height="7" fill="#0e52ae"/>
<rect x="690" y="348" width="7" height="7" fill="#0d44a0"/>
<rect x="696" y="348" width="7" height="7" fill="#0c3994"/>
<rect x="702" y="348" width="7" height="7" fill="#0b358e"/>
<rect x="708" y="348" width="7" height="7" fill="#0b338c"/>
<rect x="714" y="348" width="7" height="7" fill="#0b338c"/>
<rect x="516" y="354" width="7" height="7" fill="#06dbed"/>
<rect x="522" y="354" width="7" height="7" fill="#06dbed"/>
<rect x="528" y="354" width="7" height="7" fill="#04ecef"/>
<rect x="534" y="354" width="7" height="7" fill="#04ebcb"/>
<rect x="540" y="354" width="7" height="7" fill="#04eaa9"/>
<rect x="546" y="354" width="7" height="7" fill="#04e994"/>
<rect x="552" y="354" width="7" height="7" fill="#04e985"/>
<rect x="558" y="354" width="7" height="7" fill="#04e878"/>
<rect x="564" y="354" width="7" height="7" fill="#04e872"/>
<rect x="570" y="354" width="7" height="7" fill="#04e86d"/>
<rect x="576" y="354" width="7" height="7" fill="#05e868"/>
<rect x="582" y="354" width="7" height="7" fill="#04e86a"/>
<rect x="588" y="354" width="7" height="7" fill="#04e86f"/>
<rect x="594" y="354" width="7" height="7" fill="#04e874"/>
<rect x="600" y="354" width="7" height="7" fill="#04e879"/>
<rect x="606" y="354" width="7" height="7" fill="#04e982"/>
<rect x="612" y="354" width="7" height="7" fill="#04e98b"/>
<rect x="618" y="354" width="7" height="7" fill="#04e993"/>
<rect x="624" y="354" width="7" height="7" fill="#04e99c"/>
<rect x="630" y="354" width="7" height="7" fill="#04eaac"/>
<rect x="636" y="354" width="7" height="7" fill="#04eabe"/>
<rect x="642" y="354" width="7" height="7" fill="#04ebd0"/>
<rect x="648" y="354" width="7" height="7" fill="#04ece3"/>
<rect x="654" y="354" width="7" height="7" fill="#05e1ee"/>
<rect x="660" y="354" width="7" height="7" fill="#0abde7"/>
<rect x="666" y="354" width="7" height="7" fill="#0d9bdc"/>
<rect x="672" y="354" width="7" height="7" fill="#0f79cc"/>
<rect x="678" y="354" width="7" height="7" fill="#0f61bd"/>
<rect x="684" y="354" width="7" height="7" fill="#0e53af"/>
<rect x="690" y="354" width="7" height="7" fill="#0d44a0"/>
<rect x="696" y="354" width="7" height="7" fill="#0c3995"/>
<rect x="702" y="354" width="7" height="7" fill="#0b358e"/>
<rect x="708" y="354" width="7" height="7" fill="#0b338c"/>
<rect x="714" y="354" width="7" height="7" fill="#0b338c"/>
<rect x="516" y="360" width="7" height="7" fill="#05e1ee"/>
<rect x="522" y="360" width="7" height="7" fill="#05e1ee"/>
<rect x="528" y="360" width="7" height="7" fill="#04ecea"/>
<rect x="534" y="360" width="7" height="7" fill="#04ebc9"/>
<rect x="540" y="360" width="7" height="7" fill="#04eaa8"/>
<rect x="546" y="360" width="7" height="7" fill="#04e993"/>
<rect x="552" y="360" width="7" height="7" fill="#04e984"/>
<rect x="558" y="360" width="7" height="7" fill="#04e876"/>
<rect x="564" y="360" width="7" height="7" fill="#04e86f"/>
<rect x="570" y="360" width="7" height="7" fill="#04e869"/>
<rect x="576" y="360" width="7" height="7" fill="#0ce867"/>
<rect x="582" y="360" width="7" height="7" fill="#07e868"/>
<rect x="588" y="360" width="7" height="7" fill="#04e86b"/>
<rect x="594" y="360" width="7" height="7" fill="#04e871"/>
<rect x="600" y="360" width="7" height="7" fill="#04e877"/>
<rect x="606" y="360" width="7" height="7" fill="#04e980"/>
<rect x="612" y="360" width="7" height="7" fill="#04e988"/>
<rect x="618" y="360" width="7" height="7" fill="#04e991"/>
<rect x="624" y="360" width="7" height="7" fill="#04e99a"/>
<rect x="630" y="360" width="7" height="7" fill="#04eaaa"/>
<rect x="636" y="360" width="7" height="7" fill="#04eabb"/>
<rect x="642" y="360" width="7" height="7" fill="#04ebcd"/>
<rect x="648" y="360" width="7" height="7" fill="#04ece0"/>
<rect x="654" y="360" width="7" height="7" fill="#05e4ee"/>
<rect x="660" y="360" width="7" height="7" fill="#09c0e8"/>
<rect x="666" y="360" width="7" height="7" fill="#0d9ddd"/>
<rect x="672" y="360" width="7" height="7" fill="#0f7ccd"/>
<rect x="678" y="360" width="7" height="7" fill="#0f62be"/>
<rect x="684" y="360" width="7" height="7" fill="#0e54b0"/>
<rect x="690" y="360" width="7" height="7" fill="#0d45a1"/>
<rect x="696" y="360" width="7" height="7" fill="#0c3a95"/>
<rect x="702" y="360" width="7" height="7" fill="#0b358f"/>
<rect x="708" y="360" width="7" height="7" fill="#0b338d"/>
<rect x="714" y="360" width="7" height="7" fill="#0b338d"/>
<rect x="516" y="366" width="7" height="7" fill="#05e6ef"/>
<rect x="522" y="366" width="7" height="7" fill="#05e6ef"/>
<rect x="528" y="366" width="7" height="7" fill="#04ece6"/>
<rect x="534" y="366" width="7" height="7" fill="#04ebc6"/>
<rect x="540" y="366" width="7" height="7" fill="#04eaa6"/>
<rect x="546" y="366" width="7" height="7" fill="#04e992"/>
<rect x="552" y="366" width="7" height="7" fill="#04e982"/>
<rect x="558" y="366" width="7" height="7" fill="#04e873"/>
<rect x="564" y="366" width="7" height="7" fill="#04e86b"/>
<rect x="570" y="366" width="7" height="7" fill="#09e868"/>
<rect x="576" y="366" width="7" height="7" fill="#13e967"/>
<rect x="582" y="366" width="7" height="7" fill="#0de867"/>
<rect x="588" y="366" width="7" height="7" fill="#05e868"/>
<rect x="594" y="366" width="7" height="7" fill="#04e86e"/>
<rect x="600" y="366" width="7" height="7" fill="#04e874"/>
<rect x="606" y="366" width="7" height="7" fill="#04e97d"/>
<rect x="612" y="366" width="7" height="7" fill="#04e986"/>
<rect x="618" y="366" width="7" height="7" fill="#04e98f"/>
<rect x="624" y="366" width="7" height="7" fill="#04e999"/>
<rect x="630" y="366" width="7" height="7" fill="#04eaa8"/>
<rect x="636" y="366" width="7" height="7" fill="#04eab8"/>
<rect x="642" y="366" width="7" height="7" fill="#04ebca"/>
<rect x="648" y="366" width="7" height="7" fill="#04ebde"/>
<rect x="654" y="366" width="7" height="7" fill="#05e7ef"/>
<rect x="660" y="366" width="7" height="7" fill="#09c4e8"/>
<rect x="666" y="366" width="7" height="7" fill="#0da0de"/>
<rect x="672" y="366" width="7" height="7" fill="#0f7ece"/>
<rect x="678" y="366" width="7" height="7" fill="#1063bf"/>
<rect x="684" y="366" width="7" height="7" fill="#0e54b0"/>
<rect x="690" y="366" width="7" height="7" fill="#0d46a2"/>
<rect x="696" y="366" width="7" height="7" fill="#0c3a96"/>
<rect x="702" y="366" width="7" height="7" fill="#0b358f"/>
<rect x="708" y="366" width="7" height="7" fill="#0b348d"/>
<rect x="714" y="366" width="7" height="7" fill="#0b348d"/>
<rect x="516" y="372" width="7" height="7" fill="#04ebf0"/>
<rect x="522" y="372" width="7" height="7" fill="#04ebf0"/>
<rect x="528" y="372" width="7" height="7" fill="#04ece2"/>
<rect x="534" y="372" width="7" height="7" fill="#04ebc3"/>
<rect x="540" y="372" width="7" height="7" fill="#04eaa5"/>
<rect x="546" y="372" width="7" height="7" fill="#04e991"/>
<rect x="552" y="372" width="7" height="7" fill="#04e980"/>
<rect x="558" y="372" width="7" height="7" fill="#04e870"/>
<rect x="564" y="372" width="7" height="7" fill="#04e868"/>
<rect x="570" y="372" width="7" height="7" fill="#0fe867"/>
<rect x="576" y="372" width="7" height="7" fill="#1ae966"/>
<rect x="582" y="372" width="7" height="7" fill="#14e967"/>
<rect x="588" y="372" width="7" height="7" fill="#0ae868"/>
<rect x="594" y="372" width="7" height="7" fill="#04e86a"/>
<rect x="600" y="372" width="7" height="7" fill="#04e872"/>
<rect x="606" y="372" width="7" height="7" fill="#04e97b"/>
<rect x="612" y="372" width="7" height="7" fill="#04e984"/>
<rect x="618" y="372" width="7" height="7" fill="#04e98e"/>
<rect x="624" y="372" width="7" height="7" fill="#04e997"/>
<rect x="630" y="372" width="7" height="7" fill="#04eaa6"/>
<rect x="636" y="372" width="7" height="7" fill="#04eab5"/>
<rect x="642" y="372" width="7" height="7" fill="#04ebc7"/>
<rect x="648" y="372" width="7" height="7" fill="#04ebdb"/>
<rect x="654" y="372" width="7" height="7" fill="#04eaf0"/>
<rect x="660" y="372" width="7" height="7" fill="#09c7e9"/>
<rect x="666" y="372" width="7" height="7" fill="#0da3e0"/>
<rect x="672" y="372" width="7" height="7" fill="#0f80cf"/>
<rect x="678" y="372" width="7" height="7" fill="#1064c0"/>
<rect x="684" y="372" width="7" height="7" fill="#0e55b1"/>
<rect x="690" y="372" width="7" height="7" fill="#0d47a3"/>
<rect x="696" y="372" width="7" height="7" fill="#0c3b96"/>
<rect x="702" y="372" width="7" height="7" fill="#0b3690"/>
<rect x="708" y="372" width="7" height="7" fill="#0b348e"/>
<rect x="714" y="372" width="7" height="7" fill="#0b348e"/>
<rect x="516" y="378" width="7" height="7" fill="#04ecec"/>
<rect x="522" y="378" width="7" height="7" fill="#04ecec"/>
<rect x="528" y="378" width="7" height="7" fill="#04ebdd"/>
<rect x="534" y="378" width="7" height="7" fill="#04ebc0"/>
<rect x="540" y="378" width="7" height="7" fill="#04eaa4"/>
<rect x="546" y="378" width="7" height="7" fill="#04e990"/>
<rect x="552" y="378" width="7" height="7" fill="#04e97f"/>
<rect x="558" y="378" width="7" height="7" fill="#04e86e"/>
<rect x="564" y="378" width="7" height="7" fill="#09e868"/>
<rect x="570" y="378" width="7" height="7" fill="#15e967"/>
<rect x="576" y="378" width="7" height="7" fill="#21e966"/>
<rect x="582" y="378" width="7" height="7" fill="#1ae966"/>
<rect x="588" y="378" width="7" height="7" fill="#0fe867"/>
<rect x="594" y="378" width="7" height="7" fill="#05e868"/>
<rect x="600" y="378" width="7" height="7" fill="#04e86f"/>
<rect x="606" y="378" width="7" height="7" fill="#04e879"/>
<rect x="612" y="378" width="7" height="7" fill="#04e982"/>
<rect x="618" y="378" width="7" height="7" fill="#04e98c"/>
<rect x="624" y="378" width="7" height="7" fill="#04e995"/>
<rect x="630" y="378" width="7" height="7" fill="#04eaa3"/>
<rect x="636" y="378" width="7" height="7" fill="#04eab2"/>
<rect x="642" y="378" width="7" height="7" fill="#04ebc4"/>
<rect x="648" y="378" width="7" height="7" fill="#04ebd9"/>
<rect x="654" y="378" width="7" height="7" fill="#04ecef"/>
<rect x="660" y="378" width="7" height="7" fill="#08caea"/>
<rect x="666" y="378" width="7" height="7" fill="#0ca5e1"/>
<rect x="672" y="378" width="7" height="7" fill="#0e83d1"/>
<rect x="678" y="378" width="7" height="7" fill="#1065c1"/>
<rect x="684" y="378" width="7" height="7" fill="#0e56b2"/>
<rect x="690" y="378" width="7" height="7" fill="#0d48a4"/>
<rect x="696" y="378" width="7" height="7" fill="#0c3b96"/>
<rect x="702" y="378" width="7" height="7" fill="#0b3690"/>
<rect x="708" y="378" width="7" height="7" fill="#0b348e"/>
<rect x="714" y="378" width="7" height="7" fill="#0b348e"/>
<rect x="516" y="384" width="7" height="7" fill="#04ece7"/>
<rect x="522" y="384" width="7" height="7" fill="#04ece7"/>
<rect x="528" y="384" width="7" height="7" fill="#04ebd9"/>
<rect x="534" y="384" width="7" height="7" fill="#04eabe"/>
<rect x="540" y="384" width="7" height="7" fill="#04eaa2"/>
<rect x="546" y="384" width="7" height="7" fill="#04e98f"/>
<rect x="552" y="384" width="7" height="7" fill="#04e97d"/>
<rect x="558" y="384" width="7" height="7" fill="#04e86b"/>
<rect x="564" y="384" width="7" height="7" fill="#0ee867"/>
<rect x="570" y="384" width="7" height="7" fill="#1be966"/>
<rect x="576" y="384" width="7" height="7" fill="#27e965"/>
<rect x="582" y="384" width="7" height="7" fill="#20e966"/>
<rect x="588" y="384" width="7" height="7" fill="#15e967"/>
<rect x="594" y="384" width="7" height="7" fill="#0ae868"/>
<rect x="600" y="384" width="7" height="7" fill="#04e86d"/>
<rect x="606" y="384" width="7" height="7" fill="#04e876"/>
<rect x="612" y="384" width="7" height="7" fill="#04e980"/>
<rect x="618" y="384" width="7" height="7" fill="#04e98a"/>
<rect x="624" y="384" width="7" height="7" fill="#04e993"/>
<rect x="630" y="384" width="7" height="7" fill="#04eaa1"/>
<rect x="636" y="384" width="7" height="7" fill="#04eaaf"/>
<rect x="642" y="384" width="7" height="7" fill="#04ebc0"/>
<rect x="648" y="384" width="7" height="7" fill="#04ebd6"/>
<rect x="654" y="384" width="7" height="7" fill="#04ecec"/>
<rect x="660" y="384" width="7" height="7" fill="#08cdea"/>
<rect x="666" y="384" width="7" height="7" fill="#0ca8e2"/>
<rect x="672" y="384" width="7" height="7" fill="#0e85d2"/>
<rect x="678" y="384" width="7" height="7" fill="#1066c2"/>
<rect x="684" y="384" width="7" height="7" fill="#0e57b3"/>
<rect x="690" y="384" width="7" height="7" fill="#0d49a5"/>
<rect x="696" y="384" width="7" height="7" fill="#0c3b97"/>
<rect x="702" y="384" width="7" height="7" fill="#0b3690"/>
<rect x="708" y="384" width="7" height="7" fill="#0b358e"/>
<rect x="714" y="384" width="7" height="7" fill="#0b358e"/>
<rect x="516" y="390" width="7" height="7" fill="#04ece7"/>
<rect x="522" y="390" width="7" height="7" fill="#04ece7"/>
<rect x="528" y="390" width="7" height="7" fill="#04ebd6"/>
<rect x="534" y="390" width="7" height="7" fill="#04eab5"/>
<rect x="540" y="390" width="7" height="7" fill="#04e99a"/>
<rect x="546" y="390" width="7" height="7" fill="#04e984"/>
<rect x="552" y="390" width="7" height="7" fill="#04e871"/>
<rect x="558" y="390" width="7" height="7" fill="#11e967"/>
<rect x="564" y="390" width="7" height="7" fill="#24e965"/>
<rect x="570" y="390" width="7" height="7" fill="#34ea64"/>
<rect x="576" y="390" width="7" height="7" fill="#44eb63"/>
<rect x="582" y="390" width="7" height="7" fill="#3aea64"/>
<rect x="588" y="390" width="7" height="7" fill="#2bea65"/>
<rect x="594" y="390" width="7" height="7" fill="#1de966"/>
<rect x="600" y="390" width="7" height="7" fill="#0fe867"/>
<rect x="606" y="390" width="7" height="7" fill="#04e86b"/>
<rect x="612" y="390" width="7" height="7" fill="#04e875"/>
<rect x="618" y="390" width="7" height="7" fill="#04e980"/>
<rect x="624" y="390" width="7" height="7" fill="#04e98b"/>
<rect x="630" y="390" width="7" height="7" fill="#04e999"/>
<rect x="636" y="390" width="7" height="7" fill="#04eaab"/>
<rect x="642" y="390" width="7" height="7" fill="#04eabe"/>
<rect x="648" y="390" width="7" height="7" fill="#04ebd4"/>
<rect x="654" y="390" width="7" height="7" fill="#04eceb"/>
<rect x="660" y="390" width="7" height="7" fill="#07d0eb"/>
<rect x="666" y="390" width="7" height="7" fill="#0cace4"/>
<rect x="672" y="390" width="7" height="7" fill="#0e8ad4"/>
<rect x="678" y="390" width="7" height="7" fill="#1068c4"/>
<rect x="684" y="390" width="7" height="7" fill="#0f59b5"/>
<rect x="690" y="390" width="7" height="7" fill="#0d4ba7"/>
<rect x="696" y="390" width="7" height="7" fill="#0c3c98"/>
<rect x="702" y="390" width="7" height="7" fill="#0b3792"/>
<rect x="708" y="390" width="7" height="7" fill="#0b3690"/>
<rect x="714" y="390" width="7" height="7" fill="#0b3690"/>
<rect x="516" y="396" width="7" height="7" fill="#04ece7"/>
<rect x="522" y="396" width="7" height="7" fill="#04ece7"/>
<rect x="528" y="396" width="7" height="7" fill="#04ebd3"/>
<rect x="534" y="396" width="7" height="7" fill="#04eaad"/>
<rect x="540" y="396" width="7" height="7" fill="#04e992"/>
<rect x="546" y="396" width="7" height="7" fill="#04e879"/>
<rect x="552" y="396" width="7" height="7" fill="#07e868"/>
<rect x="558" y="396" width="7" height="7" fill="#22e966"/>
<rect x="564" y="396" width="7" height="7" fill="#39ea64"/>
<rect x="570" y="396" width="7" height="7" fill="#4deb62"/>
<rect x="576" y="396" width="7" height="7" fill="#60ec61"/>
<rect x="582" y="396" width="7" height="7" fill="#54eb62"/>
<rect x="588" y="396" width="7" height="7" fill="#42ea63"/>
<rect x="594" y="396" width="7" height="7" fill="#30ea64"/>
<rect x="600" y="396" width="7" height="7" fill="#21e966"/>
<rect x="606" y="396" width="7" height="7" fill="#11e967"/>
<rect x="612" y="396" width="7" height="7" fill="#04e86a"/>
<rect x="618" y="396" width="7" height="7" fill="#04e876"/>
<rect x="624" y="396" width="7" height="7" fill="#04e983"/>
<rect x="630" y="396" width="7" height="7" fill="#04e991"/>
<rect x="636" y="396" width="7" height="7" fill="#04eaa6"/>
<rect x="642" y="396" width="7" height="7" fill="#04eabc"/>
<rect x="648" y="396" width="7" height="7" fill="#04ebd3"/>
<rect x="654" y="396" width="7" height="7" fill="#04ece9"/>
<rect x="660" y="396" width="7" height="7" fill="#07d4eb"/>
<rect x="666" y="396" width="7" height="7" fill="#0cb0e5"/>
<rect x="672" y="396" width="7" height="7" fill="#0e8ed6"/>
<rect x="678" y="396" width="7" height="7" fill="#106dc6"/>
<rect x="684" y="396" width="7" height="7" fill="#0f5bb7"/>
<rect x="690" y="396" width="7" height="7" fill="#0e4da9"/>
<rect x="696" y="396" width="7" height="7" fill="#0c3e9a"/>
<rect x="702" y="396" width="7" height="7" fill="#0c3893"/>
<rect x="708" y="396" width="7" height="7" fill="#0b3691"/>
<rect x="714" y="396" width="7" height="7" fill="#0b3691"/>
<rect x="516" y="402" width="7" height="7" fill="#04ecf0"/>
<rect x="522" y="402" width="7" height="7" fill="#04ecf0"/>
<rect x="528" y="402" width="7" height="7" fill="#04ebdb"/>
<rect x="534" y="402" width="7" height="7" fill="#04eab0"/>
<rect x="540" y="402" width="7" height="7" fill="#04e98e"/>
<rect x="546" y="402" width="7" height="7" fill="#04e874"/>
<rect x="552" y="402" width="7" height="7" fill="#10e867"/>
<rect x="558" y="402" width="7" height="7" fill="#35ea64"/>
<rect x="564" y="402" width="7" height="7" fill="#59eb61"/>
<rect x="570" y="402" width="7" height="7" fill="#7aed60"/>
<rect x="576" y="402" width="7" height="7" fill="#9dee60"/>
<rect x="582" y="402" width="7" height="7" fill="#86ed60"/>
<rect x="588" y="402" width="7" height="7" fill="#65ec60"/>
<rect x="594" y="402" width="7" height="7" fill="#4beb62"/>
<rect x="600" y="402" width="7" height="7" fill="#34ea64"/>
<rect x="606" y="402" width="7" height="7" fill="#1ee966"/>
<rect x="612" y="402" width="7" height="7" fill="#0ce867"/>
<rect x="618" y="402" width="7" height="7" fill="#04e870"/>
<rect x="624" y="402" width="7" height="7" fill="#04e97e"/>
<rect x="630" y="402" width="7" height="7" fill="#04e98d"/>
<rect x="636" y="402" width="7" height="7" fill="#04eaa3"/>
<rect x="642" y="402" width="7" height="7" fill="#04eaba"/>
<rect x="648" y="402" width="7" height="7" fill="#04ebd0"/>
<rect x="654" y="402" width="7" height="7" fill="#04ece7"/>
<rect x="660" y="402" width="7" height="7" fill="#07d6ec"/>
<rect x="666" y="402" width="7" height="7" fill="#0bb3e5"/>
<rect x="672" y="402" width="7" height="7" fill="#0e92d8"/>
<rect x="678" y="402" width="7" height="7" fill="#0f71c8"/>
<rect x="684" y="402" width="7" height="7" fill="#0f5db9"/>
<rect x="690" y="402" width="7" height="7" fill="#0e4eaa"/>
<rect x="696" y="402" width="7" height="7" fill="#0c3f9b"/>
<rect x="702" y="402" width="7" height="7" fill="#0c3993"/>
<rect x="708" y="402" width="7" height="7" fill="#0b3792"/>
<rect x="714" y="402" width="7" height="7" fill="#0b3792"/>
<rect x="516" y="408" width="7" height="7" fill="#05e1ee"/>
<rect x="522" y="408" width="7" height="7" fill="#05e1ee"/>
<rect x="528" y="408" width="7" height="7" fill="#04ece5"/>
<rect x="534" y="408" width="7" height="7" fill="#04eab5"/>
<rect x="540" y="408" width="7" height="7" fill="#04e98a"/>
<rect x="546" y="408" width="7" height="7" fill="#04e871"/>
<rect x="552" y="408" width="7" height="7" fill="#18e966"/>
<rect x="558" y="408" width="7" height="7" fill="#49eb62"/>
<rect x="564" y="408" width="7" height="7" fill="#7ded60"/>
<rect x="570" y="408" width="7" height="7" fill="#b0ef60"/>
<rect x="576" y="408" width="7" height="7" fill="#d8f060"/>
<rect x="582" y="408" width="7" height="7" fill="#c0f060"/>
<rect x="588" y="408" width="7" height="7" fill="#8fee60"/>
<rect x="594" y="408" width="7" height="7" fill="#68ec60"/>
<rect x="600" y="408" width="7" height="7" fill="#48eb63"/>
<rect x="606" y="408" width="7" height="7" fill="#2aea65"/>
<rect x="612" y="408" width="7" height="7" fill="#16e967"/>
<rect x="618" y="408" width="7" height="7" fill="#04e86a"/>
<rect x="624" y="408" width="7" height="7" fill="#04e879"/>
<rect x="630" y="408" width="7" height="7" fill="#04e989"/>
<rect x="636" y="408" width="7" height="7" fill="#04eaa0"/>
<rect x="642" y="408" width="7" height="7" fill="#04eab7"/>
<rect x="648" y="408" width="7" height="7" fill="#04ebce"/>
<rect x="654" y="408" width="7" height="7" fill="#04ece5"/>
<rect x="660" y="408" width="7" height="7" fill="#06d9ec"/>
<rect x="666" y="408" width="7" height="7" fill="#0bb6e6"/>
<rect x="672" y="408" width="7" height="7" fill="#0d95d9"/>
<rect x="678" y="408" width="7" height="7" fill="#0f75ca"/>
<rect x="684" y="408" width="7" height="7" fill="#0f5fbb"/>
<rect x="690" y="408" width="7" height="7" fill="#0e4fab"/>
<rect x="696" y="408" width="7" height="7" fill="#0c3f9b"/>
<rect x="702" y="408" width="7" height="7" fill="#0c3994"/>
<rect x="708" y="408" width="7" height="7" fill="#0c3893"/>
<rect x="714" y="408" width="7" height="7" fill="#0c3893"/>
<rect x="516" y="414" width="7" height="7" fill="#05e7ef"/>
<rect x="522" y="414" width="7" height="7" fill="#05e7ef"/>
<rect x="528" y="414" width="7" height="7" fill="#04ebde"/>
<rect x="534" y="414" width="7" height="7" fill="#04eaab"/>
<rect x="540" y="414" width="7" height="7" fill="#04e97b"/>
<rect x="546" y="414" width="7" height="7" fill="#0fe867"/>
<rect x="552" y="414" width="7" height="7" fill="#38ea64"/>
<rect x="558" y="414" width="7" height="7" fill="#76ed60"/>
<rect x="564" y="414" width="7" height="7" fill="#baf060"/>
<rect x="570" y="414" width="7" height="7" fill="#e7f060"/>
<rect x="576" y="414" width="7" height="7" fill="#ffe45c"/>
<rect x="582" y="414" width="7" height="7" fill="#f4f060"/>
<rect x="588" y="414" width="7" height="7" fill="#cdf060"/>
<rect x="594" y="414" width="7" height="7" fill="#9fef60"/>
<rect x="600" y="414" width="7" height="7" fill="#6fec60"/>
<rect x="606" y="414" width="7" height="7" fill="#46eb63"/>
<rect x="612" y="414" width="7" height="7" fill="#2bea65"/>
<rect x="618" y="414" width="7" height="7" fill="#13e967"/>
<rect x="624" y="414" width="7" height="7" fill="#04e86f"/>
<rect x="630" y="414" width="7" height="7" fill="#04e981"/>
<rect x="636" y="414" width="7" height="7" fill="#04e999"/>
<rect x="642" y="414" width="7" height="7" fill="#04eab1"/>
<rect x="648" y="414" width="7" height="7" fill="#04ebca"/>
<rect x="654" y="414" width="7" height="7" fill="#04ece3"/>
<rect x="660" y="414" width="7" height="7" fill="#06dced"/>
<rect x="666" y="414" width="7" height="7" fill="#0ab9e6"/>
<rect x="672" y="414" width="7" height="7" fill="#0d98db"/>
<rect x="678" y="414" width="7" height="7" fill="#0f78cc"/>
<rect x="684" y="414" width="7" height="7" fill="#0f60bc"/>
<rect x="690" y="414" width="7" height="7" fill="#0e4fab"/>
<rect x="696" y="414" width="7" height="7" fill="#0c3f9b"/>
<rect x="702" y="414" width="7" height="7" fill="#0c3995"/>
<rect x="708" y="414" width="7" height="7" fill="#0c3893"/>
<rect x="714" y="414" width="7" height="7" fill="#0c3893"/>
<rect x="516" y="420" width="7" height="7" fill="#04ebcf"/>
<rect x="522" y="420" width="7" height="7" fill="#04ebcf"/>
<rect x="528" y="420" width="7" height="7" fill="#04eab5"/>
<rect x="534" y="420" width="7" height="7" fill="#04e97f"/>
<rect x="540" y="420" width="7" height="7" fill="#1ce966"/>
<rect x="546" y="420" width="7" height="7" fill="#4beb62"/>
<rect x="552" y="420" width="7" height="7" fill="#8dee60"/>
<rect x="558" y="420" width="7" height="7" fill="#d3f060"/>
<rect x="564" y="420" width="7" height="7" fill="#ffea5e"/>
<rect x="570" y="420" width="7" height="7" fill="#ffc550"/>
<rect x="576" y="420" width="7" height="7" fill="#ffaf48"/>
<rect x="582" y="420" width="7" height="7" fill="#ffbc4d"/>
<rect x="588" y="420" width="7" height="7" fill="#ffd757"/>
<rect x="594" y="420" width="7" height="7" fill="#eff060"/>
<rect x="600" y="420" width="7" height="7" fill="#c3f060"/>
<rect x="606" y="420" width="7" height="7" fill="#87ed60"/>
<rect x="612" y="420" width="7" height="7" fill="#55eb62"/>
<rect x="618" y="420" width="7" height="7" fill="#37ea64"/>
<rect x="624" y="420" width="7" height="7" fill="#19e966"/>
<rect x="630" y="420" width="7" height="7" fill="#04e86e"/>
<rect x="636" y="420" width="7" height="7" fill="#04e98a"/>
<rect x="642" y="420" width="7" height="7" fill="#04eaa6"/>
<rect x="648" y="420" width="7" height="7" fill="#04ebc2"/>
<rect x="654" y="420" width="7" height="7" fill="#04ebde"/>
<rect x="660" y="420" width="7" height="7" fill="#06dfee"/>
<rect x="666" y="420" width="7" height="7" fill="#0abce7"/>
<rect x="672" y="420" width="7" height="7" fill="#0d99db"/>
<rect x="678" y="420" width="7" height="7" fill="#0f78cc"/>
<rect x="684" y="420" width="7" height="7" fill="#0f60bc"/>
<rect x="690" y="420" width="7" height="7" fill="#0e4fab"/>
<rect x="696" y="420" width="7" height="7" fill="#0c3f9b"/>
<rect x="702" y="420" width="7" height="7" fill="#0c3995"/>
<rect x="708" y="420" width="7" height="7" fill="#0c3893"/>
<rect x="714" y="420" width="7" height="7" fill="#0c3893"/>
<rect x="516" y="426" width="7" height="7" fill="#04eab9"/>
<rect x="522" y="426" width="7" height="7" fill="#04eab9"/>
<rect x="528" y="426" width="7" height="7" fill="#04eaa0"/>
<rect x="534" y="426" width="7" height="7" fill="#04e86d"/>
<rect x="540" y="426" width="7" height="7" fill="#37ea64"/>
<rect x="546" y="426" width="7" height="7" fill="#71ec60"/>
<rect x="552" y="426" width="7" height="7" fill="#c2f060"/>
<rect x="558" y="426" width="7" height="7" fill="#ffee5f"/>
<rect x="564" y="426" width="7" height="7" fill="#ffc04e"/>
<rect x="570" y="426" width="7" height="7" fill="#ff9940"/>
<rect x="576" y="426" width="7" height="7" fill="#fd8438"/>
<rect x="582" y="426" width="7" height="7" fill="#fe903d"/>
<rect x="588" y="426" width="7" height="7" fill="#ffac47"/>
<rect x="594" y="426" width="7" height="7" fill="#ffd556"/>
<rect x="600" y="426" width="7" height="7" fill="#eaf060"/>
<rect x="606" y="426" width="7" height="7" fill="#b4ef60"/>
<rect x="612" y="426" width="7" height="7" fill="#73ed60"/>
<rect x="618" y="426" width="7" height="7" fill="#4beb62"/>
<rect x="624" y="426" width="7" height="7" fill="#2aea65"/>
<rect x="630" y="426" width="7" height="7" fill="#09e868"/>
<rect x="636" y="426" width="7" height="7" fill="#04e982"/>
<rect x="642" y="426" width="7" height="7" fill="#04ea9f"/>
<rect x="648" y="426" width="7" height="7" fill="#04eabd"/>
<rect x="654" y="426" width="7" height="7" fill="#04ebdb"/>
<rect x="660" y="426" width="7" height="7" fill="#05e1ee"/>
<rect x="666" y="426" width="7" height="7" fill="#0abde7"/>
<rect x="672" y="426" width="7" height="7" fill="#0d9adc"/>
<rect x="678" y="426" width="7" height="7" fill="#0f79cc"/>
<rect x="684" y="426" width="7" height="7" fill="#0f60bc"/>
<rect x="690" y="426" width="7" height="7" fill="#0e4fab"/>
<rect x="696" y="426" width="7" height="7" fill="#0c3f9b"/>
<rect x="702" y="426" width="7" height="7" fill="#0c3995"/>
<rect x="708" y="426" width="7" height="7" fill="#0c3893"/>
<rect x="714" y="426" width="7" height="7" fill="#0c3893"/>
<rect x="516" y="432" width="7" height="7" fill="#04eaac"/>
<rect x="522" y="432" width="7" height="7" fill="#04eaac"/>
<rect x="528" y="432" width="7" height="7" fill="#04e995"/>
<rect x="534" y="432" width="7" height="7" fill="#06e868"/>
<rect x="540" y="432" width="7" height="7" fill="#44eb63"/>
<rect x="546" y="432" width="7" height="7" fill="#8cee60"/>
<rect x="552" y="432" width="7" height="7" fill="#dbf060"/>
<rect x="558" y="432" width="7" height="7" fill="#ffd456"/>
<rect x="564" y="432" width="7" height="7" fill="#ffa042"/>
<rect x="570" y="432" width="7" height="7" fill="#fc7232"/>
<rect x="576" y="432" width="7" height="7" fill="#fa5d2b"/>
<rect x="582" y="432" width="7" height="7" fill="#fb6a30"/>
<rect x="588" y="432" width="7" height="7" fill="#fe8b3b"/>
<rect x="594" y="432" width="7" height="7" fill="#ffb84b"/>
<rect x="600" y="432" width="7" height="7" fill="#ffea5e"/>
<rect x="606" y="432" width="7" height="7" fill="#cef060"/>
<rect x="612" y="432" width="7" height="7" fill="#8dee60"/>
<rect x="618" y="432" width="7" height="7" fill="#56eb61"/>
<rect x="624" y="432" width="7" height="7" fill="#33ea64"/>
<rect x="630" y="432" width="7" height="7" fill="#10e867"/>
<rect x="636" y="432" width="7" height="7" fill="#04e97d"/>
<rect x="642" y="432" width="7" height="7" fill="#04e99b"/>
<rect x="648" y="432" width="7" height="7" fill="#04eab9"/>
<rect x="654" y="432" width="7" height="7" fill="#04ebd8"/>
<rect x="660" y="432" width="7" height="7" fill="#05e4ee"/>
<rect x="666" y="432" width="7" height="7" fill="#0abfe8"/>
<rect x="672" y="432" width="7" height="7" fill="#0d9bdc"/>
<rect x="678" y="432" width="7" height="7" fill="#0f79cc"/>
<rect x="684" y="432" width="7" height="7" fill="#0f60bc"/>
<rect x="690" y="432" width="7" height="7" fill="#0e4fab"/>
<rect x="696" y="432" width="7" height="7" fill="#0c3f9b"/>
<rect x="702" y="432" width="7" height="7" fill="#0c3995"/>
<rect x="708" y="432" width="7" height="7" fill="#0c3893"/>
<rect x="714" y="432" width="7" height="7" fill="#0c3893"/>
<rect x="516" y="438" width="7" height="7" fill="#04ea9e"/>
<rect x="522" y="438" width="7" height="7" fill="#04ea9e"/>
<rect x="528" y="438" width="7" height="7" fill="#04e98a"/>
<rect x="534" y="438" width="7" height="7" fill="#0fe867"/>
<rect x="540" y="438" width="7" height="7" fill="#52eb62"/>
<rect x="546" y="438" width="7" height="7" fill="#a8ef60"/>
<rect x="552" y="438" width="7" height="7" fill="#f4f060"/>
<rect x="558" y="438" width="7" height="7" fill="#ffba4c"/>
<rect x="564" y="438" width="7" height="7" fill="#fd7e36"/>
<rect x="570" y="438" width="7" height="7" fill="#f94b25"/>
<rect x="576" y="438" width="7" height="7" fill="#f7391f"/>
<rect x="582" y="438" width="7" height="7" fill="#f94423"/>
<rect x="588" y="438" width="7" height="7" fill="#fb682f"/>
<rect x="594" y="438" width="7" height="7" fill="#ff9a40"/>
<rect x="600" y="438" width="7" height="7" fill="#ffd355"/>
<rect x="606" y="438" width="7" height="7" fill="#e4f060"/>
<rect x="612" y="438" width="7" height="7" fill="#a7ef60"/>
<rect x="618" y="438" width="7" height="7" fill="#62ec60"/>
<rect x="624" y="438" width="7" height="7" fill="#3cea64"/>
<rect x="630" y="438" width="7" height="7" fill="#17e966"/>
<rect x="636" y="438" width="7" height="7" fill="#04e878"/>
<rect x="642" y="438" width="7" height="7" fill="#04e997"/>
<rect x="648" y="438" width="7" height="7" fill="#04eab6"/>
<rect x="654" y="438" width="7" height="7" fill="#04ebd6"/>
<rect x="660" y="438" width="7" height="7" fill="#05e6ef"/>
<rect x="666" y="438" width="7" height="7" fill="#09c0e8"/>
<rect x="672" y="438" width="7" height="7" fill="#0d9cdd"/>
<rect x="678" y="438" width="7" height="7" fill="#0f79cc"/>
<rect x="684" y="438" width="7" height="7" fill="#0f60bc"/>
<rect x="690" y="438" width="7" height="7" fill="#0e4fab"/>
<rect x="696" y="438" width="7" height="7" fill="#0c3f9b"/>
<rect x="702" y="438" width="7" height="7" fill="#0c3995"/>
<rect x="708" y="438" width="7" height="7" fill="#0c3893"/>
<rect x="714" y="438" width="7" height="7" fill="#0c3893"/>
<rect x="516" y="444" width="7" height="7" fill="#04e998"/>
<rect x="522" y="444" width="7" height="7" fill="#04e998"/>
<rect x="528" y="444" width="7" height="7" fill="#04e984"/>
<rect x="534" y="444" width="7" height="7" fill="#20e966"/>
<rect x="540" y="444" width="7" height="7" fill="#69ec60"/>
<rect x="546" y="444" width="7" height="7" fill="#c5f060"/>
<rect x="552" y="444" width="7" height="7" fill="#ffe55c"/>
<rect x="558" y="444" width="7" height="7" fill="#ffa644"/>
<rect x="564" y="444" width="7" height="7" fill="#fb692f"/>
<rect x="570" y="444" width="7" height="7" fill="#f83b20"/>
<rect x="576" y="444" width="7" height="7" fill="#f52f1b"/>
<rect x="582" y="444" width="7" height="7" fill="#f7391f"/>
<rect x="588" y="444" width="7" height="7" fill="#fa592a"/>
<rect x="594" y="444" width="7" height="7" fill="#fe8a3a"/>
<rect x="600" y="444" width="7" height="7" fill="#ffc24f"/>
<rect x="606" y="444" width="7" height="7" fill="#f7f060"/>
<rect x="612" y="444" width="7" height="7" fill="#bbf060"/>
<rect x="618" y="444" width="7" height="7" fill="#71ec60"/>
<rect x="624" y="444" width="7" height="7" fill="#44eb63"/>
<rect x="630" y="444" width="7" height="7" fill="#1de966"/>
<rect x="636" y="444" width="7" height="7" fill="#04e873"/>
<rect x="642" y="444" width="7" height="7" fill="#04e992"/>
<rect x="648" y="444" width="7" height="7" fill="#04eab2"/>
<rect x="654" y="444" width="7" height="7" fill="#04ebd2"/>
<rect x="660" y="444" width="7" height="7" fill="#04e9ef"/>
<rect x="666" y="444" width="7" height="7" fill="#09c3e8"/>
<rect x="672" y="444" width="7" height="7" fill="#0d9ddd"/>
<rect x="678" y="444" width="7" height="7" fill="#0f7acc"/>
<rect x="684" y="444" width="7" height="7" fill="#0f60bc"/>
<rect x="690" y="444" width="7" height="7" fill="#0e4fab"/>
<rect x="696" y="444" width="7" height="7" fill="#0c3f9b"/>
<rect x="702" y="444" width="7" height="7" fill="#0c3995"/>
<rect x="708" y="444" width="7" height="7" fill="#0c3893"/>
<rect x="714" y="444" width="7" height="7" fill="#0c3893"/>
<rect x="516" y="450" width="7" height="7" fill="#04e991"/>
<rect x="522" y="450" width="7" height="7" fill="#04e991"/>
<rect x="528" y="450" width="7" height="7" fill="#04e97f"/>
<rect x="534" y="450" width="7" height="7" fill="#30ea64"/>
<rect x="540" y="450" width="7" height="7" fill="#85ed60"/>
<rect x="546" y="450" width="7" height="7" fill="#dcf060"/>
<rect x="552" y="450" width="7" height="7" fill="#ffd154"/>
<rect x="558" y="450" width="7" height="7" fill="#fe903d"/>
<rect x="564" y="450" width="7" height="7" fill="#fa5529"/>
<rect x="570" y="450" width="7" height="7" fill="#f6331d"/>
<rect x="576" y="450" width="7" height="7" fill="#f22518"/>
<rect x="582" y="450" width="7" height="7" fill="#f5311c"/>
<rect x="588" y="450" width="7" height="7" fill="#f94a25"/>
<rect x="594" y="450" width="7" height="7" fill="#fd7935"/>
<rect x="600" y="450" width="7" height="7" fill="#ffb048"/>
<rect x="606" y="450" width="7" height="7" fill="#ffe75d"/>
<rect x="612" y="450" width="7" height="7" fill="#cbf060"/>
<rect x="618" y="450" width="7" height="7" fill="#80ed60"/>
<rect x="624" y="450" width="7" height="7" fill="#4beb62"/>
<rect x="630" y="450" width="7" height="7" fill="#24e965"/>
<rect x="636" y="450" width="7" height="7" fill="#04e86e"/>
<rect x="642" y="450" width="7" height="7" fill="#04e98e"/>
<rect x="648" y="450" width="7" height="7" fill="#04eaae"/>
<rect x="654" y="450" width="7" height="7" fill="#04ebcf"/>
<rect x="660" y="450" width="7" height="7" fill="#04ecf0"/>
<rect x="666" y="450" width="7" height="7" fill="#09c5e9"/>
<rect x="672" y="450" width="7" height="7" fill="#0d9fde"/>
<rect x="678" y="450" width="7" height="7" fill="#0f7acd"/>
<rect x="684" y="450" width="7" height="7" fill="#0f60bc"/>
<rect x="690" y="450" width="7" height="7" fill="#0e4fab"/>
<rect x="696" y="450" width="7" height="7" fill="#0c3f9b"/>
<rect x="702" y="450" width="7" height="7" fill="#0c3995"/>
<rect x="708" y="450" width="7" height="7" fill="#0c3893"/>
<rect x="714" y="450" width="7" height="7" fill="#0c3893"/>
<rect x="516" y="456" width="7" height="7" fill="#04e98b"/>
<rect x="522" y="456" width="7" height="7" fill="#04e98b"/>
<rect x="528" y="456" width="7" height="7" fill="#04e879"/>
<rect x="534" y="456" width="7" height="7" fill="#41ea63"/>
<rect x="540" y="456" width="7" height="7" fill="#a0ef60"/>
<rect x="546" y="456" width="7" height="7" fill="#f2f060"/>
<rect x="552" y="456" width="7" height="7" fill="#ffbc4d"/>
<rect x="558" y="456" width="7" height="7" fill="#fd7a35"/>
<rect x="564" y="456" width="7" height="7" fill="#f84122"/>
<rect x="570" y="456" width="7" height="7" fill="#f32b1a"/>
<rect x="576" y="456" width="7" height="7" fill="#ef1c14"/>
<rect x="582" y="456" width="7" height="7" fill="#f32a19"/>
<rect x="588" y="456" width="7" height="7" fill="#f83b20"/>
<rect x="594" y="456" width="7" height="7" fill="#fb692f"/>
<rect x="600" y="456" width="7" height="7" fill="#ff9f42"/>
<rect x="606" y="456" width="7" height="7" fill="#ffd757"/>
<rect x="612" y="456" width="7" height="7" fill="#d9f060"/>
<rect x="618" y="456" width="7" height="7" fill="#90ee60"/>
<rect x="624" y="456" width="7" height="7" fill="#52eb62"/>
<rect x="630" y="456" width="7" height="7" fill="#2bea65"/>
<rect x="636" y="456" width="7" height="7" fill="#04e869"/>
<rect x="642" y="456" width="7" height="7" fill="#04e989"/>
<rect x="648" y="456" width="7" height="7" fill="#04eaaa"/>
<rect x="654" y="456" width="7" height="7" fill="#04ebcc"/>
<rect x="660" y="456" width="7" height="7" fill="#04ecee"/>
<rect x="666" y="456" width="7" height="7" fill="#09c7e9"/>
<rect x="672" y="456" width="7" height="7" fill="#0da0de"/>
<rect x="678" y="456" width="7" height="7" fill="#0f7bcd"/>
<rect x="684" y="456" width="7" height="7" fill="#0f60bc"/>
<rect x="690" y="456" width="7" height="7" fill="#0e4fab"/>
<rect x="696" y="456" width="7" height="7" fill="#0c3f9b"/>
<rect x="702" y="456" width="7" height="7" fill="#0c3995"/>
<rect x="708" y="456" width="7" height="7" fill="#0c3893"/>
<rect x="714" y="456" width="7" height="7" fill="#0c3893"/>
<rect x="516" y="462" width="7" height="7" fill="#04e984"/>
<rect x="522" y="462" width="7" height="7" fill="#04e984"/>
<rect x="528" y="462" width="7" height="7" fill="#04e874"/>
<rect x="534" y="462" width="7" height="7" fill="#51eb62"/>
<rect x="540" y="462" width="7" height="7" fill="#bbf060"/>
<rect x="546" y="462" width="7" height="7" fill="#ffe85d"/>
<rect x="552" y="462" width="7" height="7" fill="#ffa845"/>
<rect x="558" y="462" width="7" height="7" fill="#fb632d"/>
<rect x="564" y="462" width="7" height="7" fill="#f6351d"/>
<rect x="570" y="462" width="7" height="7" fill="#f12317"/>
<rect x="576" y="462" width="7" height="7" fill="#ec1211"/>
<rect x="582" y="462" width="7" height="7" fill="#f12317"/>
<rect x="588" y="462" width="7" height="7" fill="#f6341d"/>
<rect x="594" y="462" width="7" height="7" fill="#fa582a"/>
<rect x="600" y="462" width="7" height="7" fill="#fe8c3b"/>
<rect x="606" y="462" width="7" height="7" fill="#ffc851"/>
<rect x="612" y="462" width="7" height="7" fill="#e8f060"/>
<rect x="618" y="462" width="7" height="7" fill="#a0ef60"/>
<rect x="624" y="462" width="7" height="7" fill="#59eb61"/>
<rect x="630" y="462" width="7" height="7" fill="#32ea64"/>
<rect x="636" y="462" width="7" height="7" fill="#0ae868"/>
<rect x="642" y="462" width="7" height="7" fill="#04e985"/>
<rect x="648" y="462" width="7" height="7" fill="#04eaa7"/>
<rect x="654" y="462" width="7" height="7" fill="#04ebc9"/>
<rect x="660" y="462" width="7" height="7" fill="#04eceb"/>
<rect x="666" y="462" width="7" height="7" fill="#08c9ea"/>
<rect x="672" y="462" width="7" height="7" fill="#0da1df"/>
<rect x="678" y="462" width="7" height="7" fill="#0f7bcd"/>
<rect x="684" y="462" width="7" height="7" fill="#0f60bc"/>
<rect x="690" y="462" width="7" height="7" fill="#0e4fab"/>
<rect x="696" y="462" width="7" height="7" fill="#0c3f9b"/>
<rect x="702" y="462" width="7" height="7" fill="#0c3995"/>
<rect x="708" y="462" width="7" height="7" fill="#0c3893"/>
<rect x="714" y="462" width="7" height="7" fill="#0c3893"/>
<rect x="516" y="468" width="7" height="7" fill="#04e983"/>
<rect x="522" y="468" width="7" height="7" fill="#04e983"/>
<rect x="528" y="468" width="7" height="7" fill="#04e873"/>
<rect x="534" y="468" width="7" height="7" fill="#54eb62"/>
<rect x="540" y="468" width="7" height="7" fill="#c0f060"/>
<rect x="546" y="468" width="7" height="7" fill="#ffe55c"/>
<rect x="552" y="468" width="7" height="7" fill="#ffa544"/>
<rect x="558" y="468" width="7" height="7" fill="#fb5f2c"/>
<rect x="564" y="468" width="7" height="7" fill="#f6331d"/>
<rect x="570" y="468" width="7" height="7" fill="#f12216"/>
<rect x="576" y="468" width="7" height="7" fill="#ec1010"/>
<rect x="582" y="468" width="7" height="7" fill="#f12216"/>
<rect x="588" y="468" width="7" height="7" fill="#f6331d"/>
<rect x="594" y="468" width="7" height="7" fill="#fa5629"/>
<rect x="600" y="468" width="7" height="7" fill="#fe893a"/>
<rect x="606" y="468" width="7" height="7" fill="#ffc550"/>
<rect x="612" y="468" width="7" height="7" fill="#eaf060"/>
<rect x="618" y="468" width="7" height="7" fill="#a3ef60"/>
<rect x="624" y="468" width="7" height="7" fill="#5beb61"/>
<rect x="630" y="468" width="7" height="7" fill="#33ea64"/>
<rect x="636" y="468" width="7" height="7" fill="#0be867"/>
<rect x="642" y="468" width="7" height="7" fill="#04e984"/>
<rect x="648" y="468" width="7" height="7" fill="#04eaa6"/>
<rect x="654" y="468" width="7" height="7" fill="#04ebc8"/>
<rect x="660" y="468" width="7" height="7" fill="#04ecea"/>
<rect x="666" y="468" width="7" height="7" fill="#08caea"/>
<rect x="672" y="468" width="7" height="7" fill="#0da1df"/>
<rect x="678" y="468" width="7" height="7" fill="#0f7bcd"/>
<rect x="684" y="468" width="7" height="7" fill="#0f60bc"/>
<rect x="690" y="468" width="7" height="7" fill="#0e4fab"/>
<rect x="696" y="468" width="7" height="7" fill="#0c3f9b"/>
<rect x="702" y="468" width="7" height="7" fill="#0c3995"/>
<rect x="708" y="468" width="7" height="7" fill="#0c3893"/>
<rect x="714" y="468" width="7" height="7" fill="#0c3893"/>
<rect x="516" y="474" width="7" height="7" fill="#04e983"/>
<rect x="522" y="474" width="7" height="7" fill="#04e983"/>
<rect x="528" y="474" width="7" height="7" fill="#04e873"/>
<rect x="534" y="474" width="7" height="7" fill="#54eb62"/>
<rect x="540" y="474" width="7" height="7" fill="#c0f060"/>
<rect x="546" y="474" width="7" height="7" fill="#ffe55c"/>
<rect x="552" y="474" width="7" height="7" fill="#ffa544"/>
<rect x="558" y="474" width="7" height="7" fill="#fb5f2c"/>
<rect x="564" y="474" width="7" height="7" fill="#f6331d"/>
<rect x="570" y="474" width="7" height="7" fill="#f12216"/>
<rect x="576" y="474" width="7" height="7" fill="#ec1010"/>
<rect x="582" y="474" width="7" height="7" fill="#f12216"/>
<rect x="588" y="474" width="7" height="7" fill="#f6331d"/>
<rect x="594" y="474" width="7" height="7" fill="#fa5629"/>
<rect x="600" y="474" width="7" height="7" fill="#fe893a"/>
<rect x="606" y="474" width="7" height="7" fill="#ffc550"/>
<rect x="612" y="474" width="7" height="7" fill="#eaf060"/>
<rect x="618" y="474" width="7" height="7" fill="#a3ef60"/>
<rect x="624" y="474" width="7" height="7" fill="#5beb61"/>
<rect x="630" y="474" width="7" height="7" fill="#33ea64"/>
<rect x="636" y="474" width="7" height="7" fill="#0be867"/>
<rect x="642" y="474" width="7" height="7" fill="#04e984"/>
<rect x="648" y="474" width="7" height="7" fill="#04eaa6"/>
<rect x="654" y="474" width="7" height="7" fill="#04ebc8"/>
<rect x="660" y="474" width="7" height="7" fill="#04ecea"/>
<rect x="666" y="474" width="7" height="7" fill="#08caea"/>
<rect x="672" y="474" width="7" height="7" fill="#0da1df"/>
<rect x="678" y="474" width="7" height="7" fill="#0f7bcd"/>
<rect x="684" y="474" width="7" height="7" fill="#0f60bc"/>
<rect x="690" y="474" width="7" height="7" fill="#0e4fab"/>
<rect x="696" y="474" width="7" height="7" fill="#0c3f9b"/>
<rect x="702" y="474" width="7" height="7" fill="#0c3995"/>
<rect x="708" y="474" width="7" height="7" fill="#0c3893"/>
<rect x="714" y="474" width="7" height="7" fill="#0c3893"/>
</g></g>
<!-- panel f overlays -->
<defs>
<linearGradient id="fline" gradientUnits="userSpaceOnUse" x1="0" y1="282" x2="0" y2="466"><stop offset="0" stop-color="#7a7a7a"/><stop offset="0.35" stop-color="#5a5a5a"/><stop offset="0.6" stop-color="#222"/><stop offset="1" stop-color="#000"/></linearGradient>
<linearGradient id="swo" x1="1" y1="0" x2="0" y2="1"><stop offset="0" stop-color="#f4702c"/><stop offset="1" stop-color="#f05a18"/></linearGradient>
<radialGradient id="ballA" cx="0.38" cy="0.35" r="0.7"><stop offset="0" stop-color="#e0fff4"/><stop offset="0.55" stop-color="#8af0d4"/><stop offset="1" stop-color="#4cc8a6"/></radialGradient>
<radialGradient id="ballB" cx="0.4" cy="0.38" r="0.7"><stop offset="0" stop-color="#7cc4f6"/><stop offset="0.6" stop-color="#2c8ee4"/><stop offset="1" stop-color="#2268c0"/></radialGradient>
<radialGradient id="ballC" cx="0.38" cy="0.35" r="0.7"><stop offset="0" stop-color="#ffffff"/><stop offset="0.6" stop-color="#a8dcf4"/><stop offset="1" stop-color="#5aa6d8"/></radialGradient>
<g id="octa">
<path d="M0,-22.5 L-17,-4.5 L-18.75,4.25 L0,23.75 L11.75,6.25 L26.25,-4.5 Z" fill="#3fd2ae" fill-opacity="0.8"/>
<path d="M0,-22.5 L-17,-4.5 L-18.75,4.25 Z" fill="#8af2dc" fill-opacity="0.75"/>
<path d="M0,-22.5 L-18.75,4.25 L11.75,6.25 Z" fill="#74ecd2" fill-opacity="0.7"/>
<path d="M0,-22.5 L11.75,6.25 L26.25,-4.5 Z" fill="#8ef4de" fill-opacity="0.8"/>
<path d="M0,23.75 L-18.75,4.25 L11.75,6.25 Z" fill="#22c49c" fill-opacity="0.75"/>
<path d="M0,23.75 L11.75,6.25 L26.25,-4.5 Z" fill="#2fd0aa" fill-opacity="0.6"/>
<path d="M0,-22.5 L-17,-4.5 M0,-22.5 L-18.75,4.25 M0,-22.5 L11.75,6.25 M0,-22.5 L26.25,-4.5 M0,23.75 L-18.75,4.25 M0,23.75 L11.75,6.25 M0,23.75 L26.25,-4.5 M-18.75,4.25 L11.75,6.25 L26.25,-4.5 M-17,-4.5 L-18.75,4.25" stroke="#9af4e0" stroke-width="0.7" fill="none" stroke-opacity="0.8"/>
<path d="M0,0 L0,-20 M0,0 L0,21 M0,0 L-15,-4 M0,0 L-16.5,3.8 M0,0 L10,5.4 M0,0 L23,-4" stroke="#3a8ae0" stroke-width="1.2" fill="none" stroke-opacity="0.85"/>
<circle cx="0" cy="0" r="4.7" fill="url(#ballB)"/>
<circle cx="0" cy="-22.5" r="3.4" fill="url(#ballA)"/><circle cx="0" cy="23.75" r="3.4" fill="url(#ballA)"/><circle cx="-17" cy="-4.5" r="3.3" fill="url(#ballA)"/><circle cx="-18.75" cy="4.25" r="3.4" fill="url(#ballA)"/><circle cx="11.75" cy="6.25" r="3.4" fill="url(#ballA)"/><circle cx="26.25" cy="-4.5" r="3.4" fill="url(#ballA)"/>
</g>
</defs>
<text x="477" y="267" font-size="18.5">f)</text>
<rect x="528" y="270" width="179.5" height="196" fill="none" stroke="#2a2a2a" stroke-width="0.9"/>
<path d="M528,288.2h-3.5M528,323.8h-3.5M528,359.5h-3.5M528,395h-3.5M528,430.6h-3.5M528,306h-2.2M528,341.6h-2.2M528,377.2h-2.2M528,412.8h-2.2M528,448.4h-2.2" stroke="#222" stroke-width="0.9" fill="none"/>
<path d="M527.25,466v3.5M572.25,466v3.5M617.25,466v3.5M662.25,466v3.5M707.25,466v3.5M549.75,466v2.2M594.75,466v2.2M639.75,466v2.2M684.75,466v2.2" stroke="#222" stroke-width="0.9" fill="none"/>
<g font-size="12.3" text-anchor="end"><text x="523" y="285.2">400</text><text x="523" y="328.2">370</text><text x="523" y="370.2">340</text><text x="523" y="412.5">310</text><text x="523" y="455">280</text></g>
<g font-size="12.3" text-anchor="middle"><text x="528" y="483.7">400</text><text x="572.25" y="483.7">500</text><text x="617.25" y="483.7">600</text><text x="662.25" y="483.7">700</text><text x="707.25" y="483.7">800</text></g>
<text x="560.5" y="501" font-size="14.9" textLength="121.7" lengthAdjust="spacingAndGlyphs">Wavelength (nm)</text>
<text transform="translate(489.9,422.2) rotate(-90)" font-size="15.8" textLength="117" lengthAdjust="spacingAndGlyphs">Temperature (K)</text>
<text x="552.2" y="303.3" font-size="15" textLength="90.8" lengthAdjust="spacingAndGlyphs" style="fill:#e01c1c;stroke:#e01c1c">PL quenching</text>
<rect x="535.3" y="330.8" width="167" height="18.2" fill="none" stroke="#dc1820" stroke-width="1.1" stroke-dasharray="3,1.5"/>
<text x="547.7" y="345.8" font-size="15" textLength="143.3" lengthAdjust="spacingAndGlyphs" style="fill:#101010;stroke:#101010">PL intensity reduction</text>
<path d="M580.4,466V288" stroke="url(#fline)" stroke-width="2" fill="none"/>
<path d="M580.4,281.5 L584,291.5 L580.4,289.5 L576.8,291.5 Z" fill="#7a7a7a"/>
<g class="b" font-size="14">
<text x="639.7" y="286.5" textLength="65.8" lengthAdjust="spacingAndGlyphs" style="fill:#fff;stroke:#fff">Excitation</text>
<text x="648" y="304" textLength="48" lengthAdjust="spacingAndGlyphs" style="fill:#fff;stroke:#fff">420 nm</text>
<text x="661" y="424.2" textLength="38" lengthAdjust="spacingAndGlyphs" style="fill:#fff;stroke:#fff">MLCT</text>
<text x="680.2" y="441.6" text-anchor="middle" style="fill:#fff;stroke:#fff">+</text>
<text x="666.7" y="458.5" textLength="26.3" lengthAdjust="spacingAndGlyphs" style="fill:#fff;stroke:#fff">STE</text>
</g>
<use href="#octa" transform="translate(683.8,382.1) scale(0.79)"/>
<!-- swoosh -->
<path d="M664.9,398.6 C663.6,405 660,409.6 654,411.3 C650,412.4 646,412.9 641.9,413.3 L637.5,411.9 L635.3,426.3 L648,420.5 L646.3,419 C653,418.8 659.6,416 662.7,410.5 C664.7,407 665.3,403 664.9,398.6 Z" fill="url(#swo)"/>
<!-- molecule -->
<g>
<path d="M629.8,434 L620.6,437.7 L620.6,450.7 L629.8,455 L639,448.8 L639,437.7 Z" fill="none" stroke="#86ccf2" stroke-width="2.2" stroke-linejoin="round"/>
<path d="M620.6,437.7 L613.6,436.4 M620.6,450.7 L613.6,453.1 M639,437.7 L646.5,434.9 M639,448.8 L647.6,455.5 M629.8,434 V426.6" stroke="#b4e2f8" stroke-width="1.5" fill="none"/>
<path d="M629.8,435.2 L632.6,453.5 L627,453.5 Z" fill="#ea2a20"/>
<path d="M629.8,467 L632.6,453.5 L627,453.5 Z" fill="#40b8f0"/>
<path d="M627,453.5 L628.4,441 L629.6,453.5 Z" fill="#5cc6f4"/>
<circle cx="620.6" cy="437.7" r="2.7" fill="url(#ballC)"/><circle cx="620.6" cy="450.7" r="2.7" fill="url(#ballC)"/><circle cx="639" cy="437.7" r="2.7" fill="url(#ballC)"/><circle cx="639" cy="448.8" r="2.7" fill="url(#ballC)"/>
<circle cx="613.6" cy="436.4" r="1.7" fill="#eef8fe"/><circle cx="613.6" cy="453.1" r="1.7" fill="#eef8fe"/><circle cx="646.5" cy="434.9" r="1.7" fill="#eef8fe"/><circle cx="629.8" cy="426.8" r="1.7" fill="#f6fbff"/>
<circle cx="629.8" cy="434" r="2.5" fill="#1a54c8"/>
<circle cx="647.6" cy="455.5" r="2.5" fill="#e2141e"/>
</g>
<!-- panel g -->
<defs>
<radialGradient id="ballP" cx="0.4" cy="0.36" r="0.7"><stop offset="0" stop-color="#ffc4e0"/><stop offset="0.35" stop-color="#fa5aa8"/><stop offset="1" stop-color="#ee0a78"/></radialGradient>
</defs>
<text x="716" y="266.5" font-size="18.5">g)</text>
<rect x="777" y="269.5" width="205.2" height="196" fill="none" stroke="#555" stroke-width="0.9"/>
<path d="M777,284.5h-3.5M777,314.5h-3.5M777,344.5h-3.5M777,374.5h-3.5M777,404.5h-3.5M777,434.5h-3.5M777,464.5h-3.5M777,299.5h-2.2M777,329.5h-2.2M777,359.5h-2.2M777,389.5h-2.2M777,419.5h-2.2M777,449.5h-2.2" stroke="#333" stroke-width="0.9" fill="none"/>
<path d="M794.25,465.5v3.5M828.4,465.5v3.5M862.6,465.5v3.5M896.8,465.5v3.5M931,465.5v3.5M965.2,465.5v3.5M811.3,465.5v2.2M845.5,465.5v2.2M879.7,465.5v2.2M913.9,465.5v2.2M948.1,465.5v2.2" stroke="#333" stroke-width="0.9" fill="none"/>
<g font-size="11.8" text-anchor="end"><text x="771.8" y="288.7">8.50</text><text x="771.8" y="318.7">8.45</text><text x="771.8" y="348.7">8.40</text><text x="771.8" y="378.7">8.35</text><text x="771.8" y="408.7">8.30</text><text x="771.8" y="438.7">8.25</text><text x="771.8" y="468.7">8.20</text></g>
<g font-size="11.8" text-anchor="middle"><text x="794.25" y="481">300</text><text x="828.4" y="481">320</text><text x="862.6" y="481">340</text><text x="896.8" y="481">360</text><text x="931" y="481">380</text><text x="965.2" y="481">400</text></g>
<text x="818.3" y="500" font-size="15.6" textLength="114.7" lengthAdjust="spacingAndGlyphs">Temperature (K)</text>
<text transform="translate(740,463.4) rotate(-90)" font-size="13.5" textLength="194" lengthAdjust="spacingAndGlyphs">Distortion index (bond length) / λ</text>
<text x="752.2" y="270.7" font-size="8.6" class="b" style="fill:#f0107e;stroke:#f0107e" textLength="23.8" lengthAdjust="spacingAndGlyphs">×10<tspan font-size="6" dy="-3">-2</tspan></text>
<path d="M794.25,295.75 C800,300 805,305 811.5,307 C817,308.8 823,309 828.5,311.25 C834,313.5 840,316 845.25,321.5 C853,329 858,338 862.25,348.25 C868,362 873,385 879.75,408.75 C882,417 885,427 888,435.5 C890.5,442 893.5,448 896.75,452.5 C899,455.2 902,456 905,454.5 C908,452.5 910.5,449.5 913.5,448 C919,446 925,448.5 931,447.25 C937,446 942,441.5 947.75,439.25 C953,437.5 959,436.5 965.25,435.5" fill="none" stroke="#f00e7c" stroke-width="2.1"/>
<g fill="url(#ballP)"><circle cx="794.25" cy="295.75" r="3.6"/><circle cx="811.5" cy="307" r="3.6"/><circle cx="828.5" cy="311.25" r="3.6"/><circle cx="845.25" cy="321.5" r="3.6"/><circle cx="862.25" cy="348.25" r="3.6"/><circle cx="879.75" cy="408.75" r="3.6"/><circle cx="888" cy="435.5" r="3.6"/><circle cx="896.75" cy="452.5" r="3.6"/><circle cx="913.5" cy="448" r="3.6"/><circle cx="931" cy="447.25" r="3.6"/><circle cx="947.75" cy="439.25" r="3.6"/><circle cx="965.25" cy="435.5" r="3.6"/></g>
<path d="M810.5,382.5 L793.5,400.5 L791.75,409.25 L810.5,428.75 L822.25,411.25 L836.75,400.5 Z" fill="#36bc98" fill-opacity="0.75"/>
<use href="#octa" transform="translate(810.5,405)"/>
<text x="796.7" y="454.6" font-size="13.6" class="b" textLength="26.2" lengthAdjust="spacingAndGlyphs">STE</text>
<!-- formula -->
<g class="fm">
<text x="842.5" y="302.5" font-size="14.5" font-style="italic" style="font-family:'Liberation Serif',serif;fill:#1a1a1a;stroke:#1a1a1a">λ<tspan font-size="10.5" dy="3">otc</tspan></text>
<text x="869" y="302" font-size="14.5" style="font-family:'Liberation Serif',serif;fill:#1a1a1a;stroke:#1a1a1a">=</text>
<text x="891.2" y="295.2" font-size="12.5" text-anchor="middle" style="font-family:'Liberation Serif',serif;fill:#1a1a1a;stroke:#1a1a1a">1</text>
<text x="891.2" y="311" font-size="12.5" text-anchor="middle" style="font-family:'Liberation Serif',serif;fill:#1a1a1a;stroke:#1a1a1a">6</text>
<text x="911.8" y="305.5" font-size="24" text-anchor="middle" style="font-family:'Liberation Serif',serif;fill:#1a1a1a;stroke:#1a1a1a">∑</text>
<text x="911.8" y="285.8" font-size="9" text-anchor="middle" style="font-family:'Liberation Serif',serif;fill:#1a1a1a;stroke:#1a1a1a">6</text>
<text x="911.8" y="319.6" font-size="9" text-anchor="middle" style="font-family:'Liberation Serif',serif;fill:#1a1a1a;stroke:#1a1a1a"><tspan font-style="italic">i</tspan>=1</text>
<text x="944.8" y="294.2" font-size="12.8" text-anchor="middle" font-style="italic" style="font-family:'Liberation Serif',serif;fill:#1a1a1a;stroke:#1a1a1a">d<tspan font-size="9" dy="2.2">i</tspan><tspan dy="-2.2" font-style="normal"> − </tspan>d</text>
<text x="945.3" y="310.8" font-size="12.8" text-anchor="middle" font-style="italic" style="font-family:'Liberation Serif',serif;fill:#1a1a1a;stroke:#1a1a1a">d</text>
</g>
<path d="M887.3,298.2H895.2M929,298.2H960.8" stroke="#6a5048" stroke-width="0.9" fill="none"/>
<path d="M887,283 C881.3,292 881.3,305.5 887,314.8 M896,283 C901.7,292 901.7,305.5 896,314.8 M927,283 C921.3,292 921.3,305.5 927,314.8 M963.2,283 C968.9,292 968.9,305.5 963.2,314.8" stroke="#6a4a42" stroke-width="1" fill="none"/>
</svg>
</body>
</html>
